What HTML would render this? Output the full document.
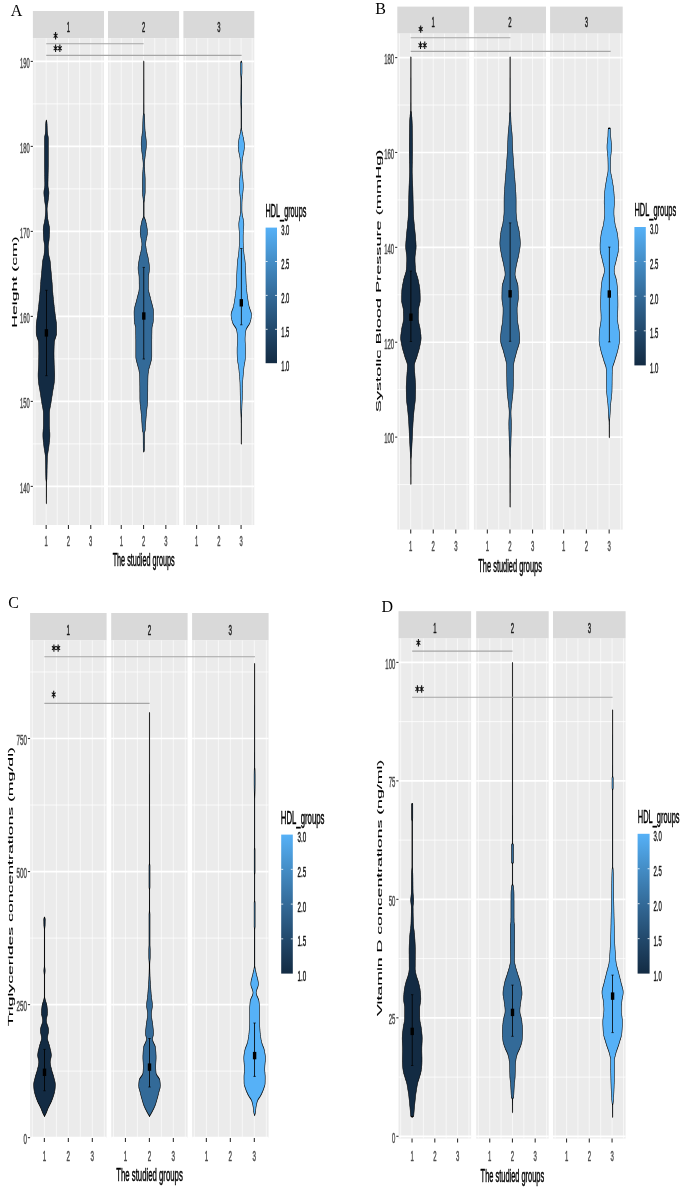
<!DOCTYPE html>
<html><head><meta charset="utf-8"><title>Violin plots</title>
<style>html,body{margin:0;padding:0;background:#fff;}body{width:685px;height:1193px;overflow:hidden;}svg{display:block;filter:blur(0.35px);}</style>
</head><body>
<svg width="685" height="1193" viewBox="0 0 685 1193">
<rect x="32.9" y="11" width="71.1" height="27.2" fill="#D9D9D9"/>
<rect x="32.9" y="38.2" width="71.1" height="486.8" fill="#EBEBEB"/>
<rect x="108" y="11" width="71.1" height="27.2" fill="#D9D9D9"/>
<rect x="108" y="38.2" width="71.1" height="486.8" fill="#EBEBEB"/>
<rect x="183.4" y="11" width="70.9" height="27.2" fill="#D9D9D9"/>
<rect x="183.4" y="38.2" width="70.9" height="486.8" fill="#EBEBEB"/>
<line x1="32.9" y1="443.9" x2="104" y2="443.9" stroke="#fff" stroke-width="0.9" opacity="0.85"/>
<line x1="32.9" y1="358.9" x2="104" y2="358.9" stroke="#fff" stroke-width="0.9" opacity="0.85"/>
<line x1="32.9" y1="273.9" x2="104" y2="273.9" stroke="#fff" stroke-width="0.9" opacity="0.85"/>
<line x1="32.9" y1="188.9" x2="104" y2="188.9" stroke="#fff" stroke-width="0.9" opacity="0.85"/>
<line x1="32.9" y1="103.9" x2="104" y2="103.9" stroke="#fff" stroke-width="0.9" opacity="0.85"/>
<line x1="32.9" y1="486.4" x2="104" y2="486.4" stroke="#fff" stroke-width="1.7"/>
<line x1="32.9" y1="401.4" x2="104" y2="401.4" stroke="#fff" stroke-width="1.7"/>
<line x1="32.9" y1="316.4" x2="104" y2="316.4" stroke="#fff" stroke-width="1.7"/>
<line x1="32.9" y1="231.4" x2="104" y2="231.4" stroke="#fff" stroke-width="1.7"/>
<line x1="32.9" y1="146.4" x2="104" y2="146.4" stroke="#fff" stroke-width="1.7"/>
<line x1="32.9" y1="61.4" x2="104" y2="61.4" stroke="#fff" stroke-width="1.7"/>
<line x1="35.02" y1="38.2" x2="35.02" y2="525" stroke="#fff" stroke-width="1" opacity="0.6"/>
<line x1="46.16" y1="38.2" x2="46.16" y2="525" stroke="#fff" stroke-width="1" opacity="0.6"/>
<line x1="57.31" y1="38.2" x2="57.31" y2="525" stroke="#fff" stroke-width="1" opacity="0.6"/>
<line x1="68.45" y1="38.2" x2="68.45" y2="525" stroke="#fff" stroke-width="1" opacity="0.6"/>
<line x1="79.59" y1="38.2" x2="79.59" y2="525" stroke="#fff" stroke-width="1" opacity="0.6"/>
<line x1="90.74" y1="38.2" x2="90.74" y2="525" stroke="#fff" stroke-width="1" opacity="0.6"/>
<line x1="101.88" y1="38.2" x2="101.88" y2="525" stroke="#fff" stroke-width="1" opacity="0.6"/>
<line x1="108" y1="443.9" x2="179.1" y2="443.9" stroke="#fff" stroke-width="0.9" opacity="0.85"/>
<line x1="108" y1="358.9" x2="179.1" y2="358.9" stroke="#fff" stroke-width="0.9" opacity="0.85"/>
<line x1="108" y1="273.9" x2="179.1" y2="273.9" stroke="#fff" stroke-width="0.9" opacity="0.85"/>
<line x1="108" y1="188.9" x2="179.1" y2="188.9" stroke="#fff" stroke-width="0.9" opacity="0.85"/>
<line x1="108" y1="103.9" x2="179.1" y2="103.9" stroke="#fff" stroke-width="0.9" opacity="0.85"/>
<line x1="108" y1="486.4" x2="179.1" y2="486.4" stroke="#fff" stroke-width="1.7"/>
<line x1="108" y1="401.4" x2="179.1" y2="401.4" stroke="#fff" stroke-width="1.7"/>
<line x1="108" y1="316.4" x2="179.1" y2="316.4" stroke="#fff" stroke-width="1.7"/>
<line x1="108" y1="231.4" x2="179.1" y2="231.4" stroke="#fff" stroke-width="1.7"/>
<line x1="108" y1="146.4" x2="179.1" y2="146.4" stroke="#fff" stroke-width="1.7"/>
<line x1="108" y1="61.4" x2="179.1" y2="61.4" stroke="#fff" stroke-width="1.7"/>
<line x1="110.12" y1="38.2" x2="110.12" y2="525" stroke="#fff" stroke-width="1" opacity="0.6"/>
<line x1="121.26" y1="38.2" x2="121.26" y2="525" stroke="#fff" stroke-width="1" opacity="0.6"/>
<line x1="132.41" y1="38.2" x2="132.41" y2="525" stroke="#fff" stroke-width="1" opacity="0.6"/>
<line x1="143.55" y1="38.2" x2="143.55" y2="525" stroke="#fff" stroke-width="1" opacity="0.6"/>
<line x1="154.69" y1="38.2" x2="154.69" y2="525" stroke="#fff" stroke-width="1" opacity="0.6"/>
<line x1="165.84" y1="38.2" x2="165.84" y2="525" stroke="#fff" stroke-width="1" opacity="0.6"/>
<line x1="176.98" y1="38.2" x2="176.98" y2="525" stroke="#fff" stroke-width="1" opacity="0.6"/>
<line x1="183.4" y1="443.9" x2="254.3" y2="443.9" stroke="#fff" stroke-width="0.9" opacity="0.85"/>
<line x1="183.4" y1="358.9" x2="254.3" y2="358.9" stroke="#fff" stroke-width="0.9" opacity="0.85"/>
<line x1="183.4" y1="273.9" x2="254.3" y2="273.9" stroke="#fff" stroke-width="0.9" opacity="0.85"/>
<line x1="183.4" y1="188.9" x2="254.3" y2="188.9" stroke="#fff" stroke-width="0.9" opacity="0.85"/>
<line x1="183.4" y1="103.9" x2="254.3" y2="103.9" stroke="#fff" stroke-width="0.9" opacity="0.85"/>
<line x1="183.4" y1="486.4" x2="254.3" y2="486.4" stroke="#fff" stroke-width="1.7"/>
<line x1="183.4" y1="401.4" x2="254.3" y2="401.4" stroke="#fff" stroke-width="1.7"/>
<line x1="183.4" y1="316.4" x2="254.3" y2="316.4" stroke="#fff" stroke-width="1.7"/>
<line x1="183.4" y1="231.4" x2="254.3" y2="231.4" stroke="#fff" stroke-width="1.7"/>
<line x1="183.4" y1="146.4" x2="254.3" y2="146.4" stroke="#fff" stroke-width="1.7"/>
<line x1="183.4" y1="61.4" x2="254.3" y2="61.4" stroke="#fff" stroke-width="1.7"/>
<line x1="185.51" y1="38.2" x2="185.51" y2="525" stroke="#fff" stroke-width="1" opacity="0.6"/>
<line x1="196.62" y1="38.2" x2="196.62" y2="525" stroke="#fff" stroke-width="1" opacity="0.6"/>
<line x1="207.74" y1="38.2" x2="207.74" y2="525" stroke="#fff" stroke-width="1" opacity="0.6"/>
<line x1="218.85" y1="38.2" x2="218.85" y2="525" stroke="#fff" stroke-width="1" opacity="0.6"/>
<line x1="229.96" y1="38.2" x2="229.96" y2="525" stroke="#fff" stroke-width="1" opacity="0.6"/>
<line x1="241.08" y1="38.2" x2="241.08" y2="525" stroke="#fff" stroke-width="1" opacity="0.6"/>
<line x1="252.19" y1="38.2" x2="252.19" y2="525" stroke="#fff" stroke-width="1" opacity="0.6"/>
<text transform="translate(68.45,31.87) scale(0.41,1)" font-family='"Liberation Sans", sans-serif' font-size="14.2" fill="#1A1A1A" text-anchor="middle" stroke="#1A1A1A" stroke-width="0.5" stroke-linejoin="round">1</text>
<text transform="translate(143.55,31.87) scale(0.41,1)" font-family='"Liberation Sans", sans-serif' font-size="14.2" fill="#1A1A1A" text-anchor="middle" stroke="#1A1A1A" stroke-width="0.5" stroke-linejoin="round">2</text>
<text transform="translate(218.85,31.87) scale(0.41,1)" font-family='"Liberation Sans", sans-serif' font-size="14.2" fill="#1A1A1A" text-anchor="middle" stroke="#1A1A1A" stroke-width="0.5" stroke-linejoin="round">3</text>
<line x1="30.7" y1="486.4" x2="32.9" y2="486.4" stroke="#333333" stroke-width="1.1"/>
<text transform="translate(29.7,492.77) scale(0.41,1)" font-family='"Liberation Sans", sans-serif' font-size="14.2" fill="#4D4D4D" text-anchor="end" stroke="#4D4D4D" stroke-width="0.5" stroke-linejoin="round">140</text>
<line x1="30.7" y1="401.4" x2="32.9" y2="401.4" stroke="#333333" stroke-width="1.1"/>
<text transform="translate(29.7,407.77) scale(0.41,1)" font-family='"Liberation Sans", sans-serif' font-size="14.2" fill="#4D4D4D" text-anchor="end" stroke="#4D4D4D" stroke-width="0.5" stroke-linejoin="round">150</text>
<line x1="30.7" y1="316.4" x2="32.9" y2="316.4" stroke="#333333" stroke-width="1.1"/>
<text transform="translate(29.7,322.77) scale(0.41,1)" font-family='"Liberation Sans", sans-serif' font-size="14.2" fill="#4D4D4D" text-anchor="end" stroke="#4D4D4D" stroke-width="0.5" stroke-linejoin="round">160</text>
<line x1="30.7" y1="231.4" x2="32.9" y2="231.4" stroke="#333333" stroke-width="1.1"/>
<text transform="translate(29.7,237.77) scale(0.41,1)" font-family='"Liberation Sans", sans-serif' font-size="14.2" fill="#4D4D4D" text-anchor="end" stroke="#4D4D4D" stroke-width="0.5" stroke-linejoin="round">170</text>
<line x1="30.7" y1="146.4" x2="32.9" y2="146.4" stroke="#333333" stroke-width="1.1"/>
<text transform="translate(29.7,152.77) scale(0.41,1)" font-family='"Liberation Sans", sans-serif' font-size="14.2" fill="#4D4D4D" text-anchor="end" stroke="#4D4D4D" stroke-width="0.5" stroke-linejoin="round">180</text>
<line x1="30.7" y1="61.4" x2="32.9" y2="61.4" stroke="#333333" stroke-width="1.1"/>
<text transform="translate(29.7,67.77) scale(0.41,1)" font-family='"Liberation Sans", sans-serif' font-size="14.2" fill="#4D4D4D" text-anchor="end" stroke="#4D4D4D" stroke-width="0.5" stroke-linejoin="round">190</text>
<line x1="46.16" y1="525" x2="46.16" y2="529" stroke="#333333" stroke-width="1.1"/>
<text transform="translate(46.16,546.17) scale(0.41,1)" font-family='"Liberation Sans", sans-serif' font-size="14.2" fill="#4D4D4D" text-anchor="middle" stroke="#4D4D4D" stroke-width="0.5" stroke-linejoin="round">1</text>
<line x1="68.45" y1="525" x2="68.45" y2="529" stroke="#333333" stroke-width="1.1"/>
<text transform="translate(68.45,546.17) scale(0.41,1)" font-family='"Liberation Sans", sans-serif' font-size="14.2" fill="#4D4D4D" text-anchor="middle" stroke="#4D4D4D" stroke-width="0.5" stroke-linejoin="round">2</text>
<line x1="90.74" y1="525" x2="90.74" y2="529" stroke="#333333" stroke-width="1.1"/>
<text transform="translate(90.74,546.17) scale(0.41,1)" font-family='"Liberation Sans", sans-serif' font-size="14.2" fill="#4D4D4D" text-anchor="middle" stroke="#4D4D4D" stroke-width="0.5" stroke-linejoin="round">3</text>
<line x1="121.26" y1="525" x2="121.26" y2="529" stroke="#333333" stroke-width="1.1"/>
<text transform="translate(121.26,546.17) scale(0.41,1)" font-family='"Liberation Sans", sans-serif' font-size="14.2" fill="#4D4D4D" text-anchor="middle" stroke="#4D4D4D" stroke-width="0.5" stroke-linejoin="round">1</text>
<line x1="143.55" y1="525" x2="143.55" y2="529" stroke="#333333" stroke-width="1.1"/>
<text transform="translate(143.55,546.17) scale(0.41,1)" font-family='"Liberation Sans", sans-serif' font-size="14.2" fill="#4D4D4D" text-anchor="middle" stroke="#4D4D4D" stroke-width="0.5" stroke-linejoin="round">2</text>
<line x1="165.84" y1="525" x2="165.84" y2="529" stroke="#333333" stroke-width="1.1"/>
<text transform="translate(165.84,546.17) scale(0.41,1)" font-family='"Liberation Sans", sans-serif' font-size="14.2" fill="#4D4D4D" text-anchor="middle" stroke="#4D4D4D" stroke-width="0.5" stroke-linejoin="round">3</text>
<line x1="196.62" y1="525" x2="196.62" y2="529" stroke="#333333" stroke-width="1.1"/>
<text transform="translate(196.62,546.17) scale(0.41,1)" font-family='"Liberation Sans", sans-serif' font-size="14.2" fill="#4D4D4D" text-anchor="middle" stroke="#4D4D4D" stroke-width="0.5" stroke-linejoin="round">1</text>
<line x1="218.85" y1="525" x2="218.85" y2="529" stroke="#333333" stroke-width="1.1"/>
<text transform="translate(218.85,546.17) scale(0.41,1)" font-family='"Liberation Sans", sans-serif' font-size="14.2" fill="#4D4D4D" text-anchor="middle" stroke="#4D4D4D" stroke-width="0.5" stroke-linejoin="round">2</text>
<line x1="241.08" y1="525" x2="241.08" y2="529" stroke="#333333" stroke-width="1.1"/>
<text transform="translate(241.08,546.17) scale(0.41,1)" font-family='"Liberation Sans", sans-serif' font-size="14.2" fill="#4D4D4D" text-anchor="middle" stroke="#4D4D4D" stroke-width="0.5" stroke-linejoin="round">3</text>
<text transform="translate(143.7,566.4) scale(0.41,1)" font-family='"Liberation Sans", sans-serif' font-size="17.7" fill="#000" text-anchor="middle" stroke="#000" stroke-width="0.5" stroke-linejoin="round">The studied groups</text>
<text transform="translate(17,282.1) scale(0.41,1) rotate(-90)" font-family='"Liberation Sans", sans-serif' font-size="17.7" fill="#000" text-anchor="middle" stroke="#000" stroke-width="0.2" stroke-linejoin="round">Height (cm)</text>
<defs><linearGradient id="gA" x1="0" y1="0" x2="0" y2="1"><stop offset="0" stop-color="#56B1F7"/><stop offset="0.25" stop-color="#448DC6"/><stop offset="0.5" stop-color="#336A98"/><stop offset="0.75" stop-color="#22496C"/><stop offset="1" stop-color="#132B43"/></linearGradient></defs>
<rect x="265.6" y="227.6" width="11.4" height="135.6" fill="url(#gA)"/>
<text transform="translate(281.2,235.07) scale(0.41,1)" font-family='"Liberation Sans", sans-serif' font-size="14.2" fill="#1A1A1A" text-anchor="start" stroke="#1A1A1A" stroke-width="0.5" stroke-linejoin="round">3.0</text>
<line x1="265.6" y1="261.5" x2="267.6" y2="261.5" stroke="#fff" stroke-width="0.8"/>
<line x1="275" y1="261.5" x2="277" y2="261.5" stroke="#fff" stroke-width="0.8"/>
<text transform="translate(281.2,268.97) scale(0.41,1)" font-family='"Liberation Sans", sans-serif' font-size="14.2" fill="#1A1A1A" text-anchor="start" stroke="#1A1A1A" stroke-width="0.5" stroke-linejoin="round">2.5</text>
<line x1="265.6" y1="295.4" x2="267.6" y2="295.4" stroke="#fff" stroke-width="0.8"/>
<line x1="275" y1="295.4" x2="277" y2="295.4" stroke="#fff" stroke-width="0.8"/>
<text transform="translate(281.2,302.87) scale(0.41,1)" font-family='"Liberation Sans", sans-serif' font-size="14.2" fill="#1A1A1A" text-anchor="start" stroke="#1A1A1A" stroke-width="0.5" stroke-linejoin="round">2.0</text>
<line x1="265.6" y1="329.3" x2="267.6" y2="329.3" stroke="#fff" stroke-width="0.8"/>
<line x1="275" y1="329.3" x2="277" y2="329.3" stroke="#fff" stroke-width="0.8"/>
<text transform="translate(281.2,336.77) scale(0.41,1)" font-family='"Liberation Sans", sans-serif' font-size="14.2" fill="#1A1A1A" text-anchor="start" stroke="#1A1A1A" stroke-width="0.5" stroke-linejoin="round">1.5</text>
<text transform="translate(281.2,370.67) scale(0.41,1)" font-family='"Liberation Sans", sans-serif' font-size="14.2" fill="#1A1A1A" text-anchor="start" stroke="#1A1A1A" stroke-width="0.5" stroke-linejoin="round">1.0</text>
<text transform="translate(265.6,216.8) scale(0.41,1)" font-family='"Liberation Sans", sans-serif' font-size="17.7" fill="#000" text-anchor="start" stroke="#000" stroke-width="0.5" stroke-linejoin="round">HDL_groups</text>
<line x1="46.4" y1="120.3" x2="46.4" y2="503.5" stroke="#5f5f5f" stroke-width="1.1"/>
<g transform="translate(46.4,0) scale(0.41,1)">
<path d="M0,120.3 L0.7,121.2 L1.2,122 L1.4,122.8 L1.5,123.6 L1.7,124.4 L1.7,125.3 L1.8,126.1 L1.9,126.9 L1.9,127.7 L2,128.5 L2,129.3 L2.1,130.2 L2.2,131 L2.3,131.8 L2.4,132.6 L2.7,133.4 L3,134.3 L3.5,135.1 L3.9,136 L4.3,136.8 L4.5,137.7 L4.6,138.5 L4.6,139.3 L4.6,140.1 L4.6,140.9 L4.6,141.7 L4.6,142.5 L4.6,143.3 L4.6,144.1 L4.6,145 L4.6,145.8 L4.6,146.6 L4.6,147.4 L4.6,148.2 L4.6,149 L4.6,149.8 L4.6,150.6 L4.6,151.4 L4.6,152.2 L4.6,153 L4.6,153.8 L4.6,154.6 L4.6,155.4 L4.6,156.3 L4.6,157.1 L4.6,157.9 L4.6,158.7 L4.6,159.5 L4.6,160.3 L4.6,161.1 L4.6,161.9 L4.6,162.7 L4.6,163.5 L4.6,164.3 L4.6,165.1 L4.6,166 L4.6,166.8 L4.5,167.6 L4.5,168.4 L4.5,169.2 L4.4,170 L4.4,170.8 L4.4,171.6 L4.3,172.4 L4.3,173.2 L4.2,174.1 L4.2,174.9 L4.2,175.7 L4.1,176.5 L4.1,177.3 L4.1,178.1 L4,178.9 L4,179.7 L4,180.5 L4,181.3 L3.9,182.2 L3.9,183 L3.9,183.8 L3.9,184.6 L3.9,185.4 L4,186.3 L4.2,187.2 L4.6,188 L5,188.9 L5.4,189.8 L5.8,190.7 L6,191.5 L6.1,192.4 L6.1,193.3 L6,194.1 L5.8,195 L5.7,195.8 L5.4,196.7 L5.2,197.5 L4.9,198.4 L4.7,199.2 L4.4,200.1 L4.1,200.9 L3.9,201.8 L3.6,202.7 L3.3,203.6 L2.9,204.4 L2.6,205.3 L2.2,206.2 L2,207.1 L1.8,207.9 L1.7,208.8 L1.7,209.7 L1.8,210.5 L1.9,211.4 L2,212.2 L2.1,213.1 L2.3,213.9 L2.5,214.8 L2.7,215.6 L2.9,216.5 L3.1,217.3 L3.3,218.2 L3.5,219 L3.8,219.9 L4.2,220.7 L4.6,221.6 L5,222.4 L5.4,223.3 L5.9,224.1 L6.3,224.9 L6.7,225.8 L7.1,226.6 L7.4,227.5 L7.6,228.3 L7.8,229.2 L7.8,230 L7.8,230.8 L7.7,231.7 L7.7,232.5 L7.6,233.4 L7.5,234.2 L7.3,235.1 L7.2,235.9 L7.1,236.8 L6.9,237.6 L6.7,238.5 L6.6,239.3 L6.4,240.2 L6.1,241.1 L5.7,242 L5.3,242.9 L5,243.7 L4.7,244.6 L4.5,245.5 L4.4,246.4 L4.4,247.3 L4.5,248.1 L4.6,249 L4.7,249.8 L4.8,250.7 L5,251.6 L5.2,252.4 L5.4,253.3 L5.6,254.1 L5.9,255 L6.2,255.8 L6.6,256.7 L7.1,257.5 L7.7,258.4 L8.2,259.2 L8.7,260.1 L9,260.9 L9.3,261.7 L9.5,262.6 L9.7,263.4 L9.9,264.3 L10.1,265.1 L10.3,265.9 L10.5,266.8 L10.6,267.6 L10.8,268.4 L10.9,269.3 L11.1,270.1 L11.3,271 L11.5,271.8 L11.7,272.6 L11.8,273.5 L12,274.3 L12.2,275.2 L12.4,276 L12.6,276.8 L12.8,277.7 L13,278.5 L13.2,279.3 L13.4,280.2 L13.6,281 L13.7,281.9 L13.9,282.7 L14.1,283.5 L14.2,284.4 L14.4,285.2 L14.5,286.1 L14.7,286.9 L14.8,287.7 L14.9,288.6 L15.1,289.4 L15.2,290.2 L15.4,291.1 L15.5,291.9 L15.7,292.8 L15.9,293.6 L16,294.4 L16.2,295.3 L16.4,296.1 L16.6,297 L16.8,297.8 L17,298.6 L17.2,299.5 L17.4,300.3 L17.7,301.1 L17.9,302 L18.1,302.8 L18.3,303.7 L18.5,304.5 L18.8,305.3 L19,306.2 L19.2,307 L19.5,307.9 L19.7,308.7 L20,309.5 L20.2,310.4 L20.5,311.2 L20.7,312 L21,312.9 L21.2,313.7 L21.5,314.6 L21.7,315.4 L22,316.2 L22.3,317.1 L22.6,317.9 L22.9,318.8 L23.2,319.6 L23.5,320.4 L23.8,321.3 L24.1,322.1 L24.4,322.9 L24.6,323.8 L24.7,324.6 L24.8,325.5 L24.9,326.3 L24.9,327.1 L24.9,327.9 L24.9,328.7 L24.9,329.6 L24.9,330.4 L24.9,331.2 L24.9,332 L24.9,332.8 L24.8,333.6 L24.5,334.4 L24.1,335.2 L23.5,336.1 L22.9,336.9 L22.2,337.7 L21.5,338.5 L20.9,339.3 L20.3,340.2 L19.8,341 L19.5,341.8 L19.3,342.6 L19.2,343.4 L19.1,344.3 L19,345.1 L18.9,346 L18.8,346.8 L18.8,347.6 L18.7,348.5 L18.7,349.3 L18.6,350.1 L18.6,351 L18.6,351.8 L18.5,352.7 L18.5,353.5 L18.5,354.3 L18.6,355.2 L18.6,356 L18.6,356.9 L18.6,357.7 L18.7,358.5 L18.7,359.4 L18.8,360.2 L18.8,361 L18.9,361.9 L18.9,362.7 L19,363.6 L19,364.4 L19.1,365.2 L19.2,366.1 L19.3,366.9 L19.4,367.8 L19.5,368.6 L19.7,369.4 L19.8,370.3 L19.9,371.1 L20,371.9 L20.1,372.8 L20.2,373.6 L20.2,374.5 L20.2,375.3 L20.2,376.2 L20.1,377.2 L20,378.1 L19.9,379 L19.7,380 L19.5,380.9 L19.3,381.7 L19.1,382.6 L18.8,383.4 L18.6,384.3 L18.2,385.1 L17.9,385.9 L17.5,386.8 L17.2,387.6 L16.8,388.4 L16.4,389.3 L16,390.1 L15.7,391 L15.4,391.8 L15,392.6 L14.7,393.5 L14.4,394.3 L14.1,395.2 L13.8,396 L13.4,396.8 L13.1,397.7 L12.8,398.5 L12.5,399.3 L12.2,400.2 L11.8,401 L11.5,401.9 L11.2,402.7 L10.9,403.5 L10.5,404.4 L10.1,405.2 L9.7,406.1 L9.3,406.9 L9,407.7 L8.6,408.6 L8.2,409.4 L7.9,410.2 L7.7,411.1 L7.5,411.9 L7.4,412.8 L7.3,413.6 L7.3,414.4 L7.3,415.3 L7.3,416.1 L7.3,417 L7.3,417.8 L7.3,418.6 L7.3,419.5 L7.3,420.3 L7.3,421.1 L7.3,422 L7.3,422.8 L7.3,423.7 L7.3,424.5 L7.3,425.3 L7.4,426.2 L7.5,427 L7.6,427.9 L7.7,428.7 L7.9,429.5 L8,430.4 L8.1,431.2 L8.3,432 L8.4,432.9 L8.5,433.7 L8.5,434.6 L8.5,435.4 L8.5,436.2 L8.4,437.1 L8.3,437.9 L8.2,438.8 L8,439.6 L7.8,440.4 L7.6,441.3 L7.3,442.1 L7.1,442.9 L6.8,443.8 L6.6,444.6 L6.3,445.5 L6.1,446.3 L5.9,447.1 L5.6,448 L5.3,448.8 L4.9,449.7 L4.6,450.5 L4.2,451.3 L3.9,452.2 L3.6,453 L3.3,453.8 L3,454.7 L2.7,455.5 L2.6,456.4 L2.4,457.2 L2.3,458 L2.3,458.9 L2.2,459.7 L2.1,460.6 L2.1,461.4 L2,462.2 L2,463.1 L1.9,463.9 L1.9,464.7 L1.8,465.6 L1.8,466.4 L1.8,467.3 L1.7,468.1 L1.7,468.9 L1.6,469.8 L1.6,470.6 L1.6,471.5 L1.6,472.3 L1.5,473.1 L1.5,474 L1.5,474.8 L1.4,475.6 L1.4,476.5 L1.3,477.3 L1.3,478.2 L1.2,479 L0.9,480 L0.5,481 L0.2,482 L0.2,482.8 L0.2,483.7 L0.2,484.5 L0.2,485.3 L0.2,486.1 L0.1,487 L0.1,487.8 L0.1,488.6 L0.1,489.4 L0.1,490.3 L0.1,491.1 L0.1,491.9 L0.1,492.8 L0.1,493.6 L0.1,494.4 L0.1,495.2 L0.1,496.1 L0.1,496.9 L0,497.7 L0,498.5 L0,499.4 L0,500.2 L0,501 L0,501.8 L0,502.7 L0,503.5 L0,503.5 L-0,502.7 L-0,501.8 L-0,501 L-0,500.2 L-0,499.4 L-0,498.5 L-0,497.7 L-0.1,496.9 L-0.1,496.1 L-0.1,495.2 L-0.1,494.4 L-0.1,493.6 L-0.1,492.8 L-0.1,491.9 L-0.1,491.1 L-0.1,490.3 L-0.1,489.4 L-0.1,488.6 L-0.1,487.8 L-0.1,487 L-0.2,486.1 L-0.2,485.3 L-0.2,484.5 L-0.2,483.7 L-0.2,482.8 L-0.2,482 L-0.5,481 L-0.9,480 L-1.2,479 L-1.3,478.2 L-1.3,477.3 L-1.4,476.5 L-1.4,475.6 L-1.5,474.8 L-1.5,474 L-1.5,473.1 L-1.6,472.3 L-1.6,471.5 L-1.6,470.6 L-1.6,469.8 L-1.7,468.9 L-1.7,468.1 L-1.8,467.3 L-1.8,466.4 L-1.8,465.6 L-1.9,464.7 L-1.9,463.9 L-2,463.1 L-2,462.2 L-2.1,461.4 L-2.1,460.6 L-2.2,459.7 L-2.3,458.9 L-2.3,458 L-2.4,457.2 L-2.6,456.4 L-2.7,455.5 L-3,454.7 L-3.3,453.8 L-3.6,453 L-3.9,452.2 L-4.2,451.3 L-4.6,450.5 L-4.9,449.7 L-5.3,448.8 L-5.6,448 L-5.9,447.1 L-6.1,446.3 L-6.3,445.5 L-6.6,444.6 L-6.8,443.8 L-7.1,442.9 L-7.3,442.1 L-7.6,441.3 L-7.8,440.4 L-8,439.6 L-8.2,438.8 L-8.3,437.9 L-8.4,437.1 L-8.5,436.2 L-8.5,435.4 L-8.5,434.6 L-8.5,433.7 L-8.4,432.9 L-8.3,432 L-8.1,431.2 L-8,430.4 L-7.9,429.5 L-7.7,428.7 L-7.6,427.9 L-7.5,427 L-7.4,426.2 L-7.3,425.3 L-7.3,424.5 L-7.3,423.7 L-7.3,422.8 L-7.3,422 L-7.3,421.1 L-7.3,420.3 L-7.3,419.5 L-7.3,418.6 L-7.3,417.8 L-7.3,417 L-7.3,416.1 L-7.3,415.3 L-7.3,414.4 L-7.3,413.6 L-7.4,412.8 L-7.5,411.9 L-7.7,411.1 L-7.9,410.2 L-8.2,409.4 L-8.6,408.6 L-9,407.7 L-9.3,406.9 L-9.7,406.1 L-10.1,405.2 L-10.5,404.4 L-10.9,403.5 L-11.2,402.7 L-11.5,401.9 L-11.8,401 L-12.2,400.2 L-12.5,399.3 L-12.8,398.5 L-13.1,397.7 L-13.4,396.8 L-13.8,396 L-14.1,395.2 L-14.4,394.3 L-14.7,393.5 L-15,392.6 L-15.4,391.8 L-15.7,391 L-16,390.1 L-16.4,389.3 L-16.8,388.4 L-17.2,387.6 L-17.5,386.8 L-17.9,385.9 L-18.2,385.1 L-18.6,384.3 L-18.8,383.4 L-19.1,382.6 L-19.3,381.7 L-19.5,380.9 L-19.7,380 L-19.9,379 L-20,378.1 L-20.1,377.2 L-20.2,376.2 L-20.2,375.3 L-20.2,374.5 L-20.2,373.6 L-20.1,372.8 L-20,371.9 L-19.9,371.1 L-19.8,370.3 L-19.7,369.4 L-19.5,368.6 L-19.4,367.8 L-19.3,366.9 L-19.2,366.1 L-19.1,365.2 L-19,364.4 L-19,363.6 L-18.9,362.7 L-18.9,361.9 L-18.8,361 L-18.8,360.2 L-18.7,359.4 L-18.7,358.5 L-18.6,357.7 L-18.6,356.9 L-18.6,356 L-18.6,355.2 L-18.5,354.3 L-18.5,353.5 L-18.5,352.7 L-18.6,351.8 L-18.6,351 L-18.6,350.1 L-18.7,349.3 L-18.7,348.5 L-18.8,347.6 L-18.8,346.8 L-18.9,346 L-19,345.1 L-19.1,344.3 L-19.2,343.4 L-19.3,342.6 L-19.5,341.8 L-19.8,341 L-20.3,340.2 L-20.9,339.3 L-21.5,338.5 L-22.2,337.7 L-22.9,336.9 L-23.5,336.1 L-24.1,335.2 L-24.5,334.4 L-24.8,333.6 L-24.9,332.8 L-24.9,332 L-24.9,331.2 L-24.9,330.4 L-24.9,329.6 L-24.9,328.7 L-24.9,327.9 L-24.9,327.1 L-24.9,326.3 L-24.8,325.5 L-24.7,324.6 L-24.6,323.8 L-24.4,322.9 L-24.1,322.1 L-23.8,321.3 L-23.5,320.4 L-23.2,319.6 L-22.9,318.8 L-22.6,317.9 L-22.3,317.1 L-22,316.2 L-21.7,315.4 L-21.5,314.6 L-21.2,313.7 L-21,312.9 L-20.7,312 L-20.5,311.2 L-20.2,310.4 L-20,309.5 L-19.7,308.7 L-19.5,307.9 L-19.2,307 L-19,306.2 L-18.8,305.3 L-18.5,304.5 L-18.3,303.7 L-18.1,302.8 L-17.9,302 L-17.7,301.1 L-17.4,300.3 L-17.2,299.5 L-17,298.6 L-16.8,297.8 L-16.6,297 L-16.4,296.1 L-16.2,295.3 L-16,294.4 L-15.9,293.6 L-15.7,292.8 L-15.5,291.9 L-15.4,291.1 L-15.2,290.2 L-15.1,289.4 L-14.9,288.6 L-14.8,287.7 L-14.7,286.9 L-14.5,286.1 L-14.4,285.2 L-14.2,284.4 L-14.1,283.5 L-13.9,282.7 L-13.7,281.9 L-13.6,281 L-13.4,280.2 L-13.2,279.3 L-13,278.5 L-12.8,277.7 L-12.6,276.8 L-12.4,276 L-12.2,275.2 L-12,274.3 L-11.8,273.5 L-11.7,272.6 L-11.5,271.8 L-11.3,271 L-11.1,270.1 L-10.9,269.3 L-10.8,268.4 L-10.6,267.6 L-10.5,266.8 L-10.3,265.9 L-10.1,265.1 L-9.9,264.3 L-9.7,263.4 L-9.5,262.6 L-9.3,261.7 L-9,260.9 L-8.7,260.1 L-8.2,259.2 L-7.7,258.4 L-7.1,257.5 L-6.6,256.7 L-6.2,255.8 L-5.9,255 L-5.6,254.1 L-5.4,253.3 L-5.2,252.4 L-5,251.6 L-4.8,250.7 L-4.7,249.8 L-4.6,249 L-4.5,248.1 L-4.4,247.3 L-4.4,246.4 L-4.5,245.5 L-4.7,244.6 L-5,243.7 L-5.3,242.9 L-5.7,242 L-6.1,241.1 L-6.4,240.2 L-6.6,239.3 L-6.7,238.5 L-6.9,237.6 L-7.1,236.8 L-7.2,235.9 L-7.3,235.1 L-7.5,234.2 L-7.6,233.4 L-7.7,232.5 L-7.7,231.7 L-7.8,230.8 L-7.8,230 L-7.8,229.2 L-7.6,228.3 L-7.4,227.5 L-7.1,226.6 L-6.7,225.8 L-6.3,224.9 L-5.9,224.1 L-5.4,223.3 L-5,222.4 L-4.6,221.6 L-4.2,220.7 L-3.8,219.9 L-3.5,219 L-3.3,218.2 L-3.1,217.3 L-2.9,216.5 L-2.7,215.6 L-2.5,214.8 L-2.3,213.9 L-2.1,213.1 L-2,212.2 L-1.9,211.4 L-1.8,210.5 L-1.7,209.7 L-1.7,208.8 L-1.8,207.9 L-2,207.1 L-2.2,206.2 L-2.6,205.3 L-2.9,204.4 L-3.3,203.6 L-3.6,202.7 L-3.9,201.8 L-4.1,200.9 L-4.4,200.1 L-4.7,199.2 L-4.9,198.4 L-5.2,197.5 L-5.4,196.7 L-5.7,195.8 L-5.8,195 L-6,194.1 L-6.1,193.3 L-6.1,192.4 L-6,191.5 L-5.8,190.7 L-5.4,189.8 L-5,188.9 L-4.6,188 L-4.2,187.2 L-4,186.3 L-3.9,185.4 L-3.9,184.6 L-3.9,183.8 L-3.9,183 L-3.9,182.2 L-4,181.3 L-4,180.5 L-4,179.7 L-4,178.9 L-4.1,178.1 L-4.1,177.3 L-4.1,176.5 L-4.2,175.7 L-4.2,174.9 L-4.2,174.1 L-4.3,173.2 L-4.3,172.4 L-4.4,171.6 L-4.4,170.8 L-4.4,170 L-4.5,169.2 L-4.5,168.4 L-4.5,167.6 L-4.6,166.8 L-4.6,166 L-4.6,165.1 L-4.6,164.3 L-4.6,163.5 L-4.6,162.7 L-4.6,161.9 L-4.6,161.1 L-4.6,160.3 L-4.6,159.5 L-4.6,158.7 L-4.6,157.9 L-4.6,157.1 L-4.6,156.3 L-4.6,155.4 L-4.6,154.6 L-4.6,153.8 L-4.6,153 L-4.6,152.2 L-4.6,151.4 L-4.6,150.6 L-4.6,149.8 L-4.6,149 L-4.6,148.2 L-4.6,147.4 L-4.6,146.6 L-4.6,145.8 L-4.6,145 L-4.6,144.1 L-4.6,143.3 L-4.6,142.5 L-4.6,141.7 L-4.6,140.9 L-4.6,140.1 L-4.6,139.3 L-4.6,138.5 L-4.5,137.7 L-4.3,136.8 L-3.9,136 L-3.5,135.1 L-3,134.3 L-2.7,133.4 L-2.4,132.6 L-2.3,131.8 L-2.2,131 L-2.1,130.2 L-2,129.3 L-2,128.5 L-1.9,127.7 L-1.9,126.9 L-1.8,126.1 L-1.7,125.3 L-1.7,124.4 L-1.5,123.6 L-1.4,122.8 L-1.2,122 L-0.7,121.2 L-0,120.3 Z" fill="#132B43" stroke="#000" stroke-width="1.3" stroke-linejoin="round"/>
<line x1="0" y1="290.3" x2="0" y2="375.7" stroke="#000" stroke-width="1.9"/>
<line x1="-2.93" y1="290.3" x2="2.93" y2="290.3" stroke="#000" stroke-width="1"/>
<line x1="-2.93" y1="375.7" x2="2.93" y2="375.7" stroke="#000" stroke-width="1"/>
<rect x="-4.15" y="329.2" width="8.29" height="7.4" fill="#000"/>
</g>
<line x1="143.8" y1="61.2" x2="143.8" y2="452" stroke="#5f5f5f" stroke-width="1.1"/>
<g transform="translate(143.8,0) scale(0.41,1)">
<path d="M0,61.2 L0,62 L0,62.8 L0,63.6 L0,64.4 L0,65.2 L0,66.1 L0,66.9 L0,67.7 L0,68.5 L0,69.3 L0,70.1 L0,70.9 L0,71.7 L0,72.5 L0,73.3 L0,74.2 L0,75 L0,75.8 L0,76.6 L0,77.4 L0,78.2 L0,79 L0.1,79.8 L0.1,80.6 L0.1,81.4 L0.1,82.2 L0.1,83.1 L0.1,83.9 L0.1,84.7 L0.1,85.5 L0.1,86.3 L0.1,87.1 L0.1,87.9 L0.1,88.7 L0.1,89.5 L0.1,90.3 L0.1,91.1 L0.1,92 L0.1,92.8 L0.1,93.6 L0.1,94.4 L0.1,95.2 L0.1,96 L0.1,96.8 L0.1,97.6 L0.1,98.4 L0.1,99.2 L0.1,100 L0.1,100.9 L0.1,101.7 L0.1,102.5 L0.1,103.3 L0.1,104.1 L0.2,104.9 L0.2,105.7 L0.2,106.5 L0.2,107.3 L0.2,108.1 L0.2,109 L0.2,109.8 L0.2,110.6 L0.2,111.4 L0.2,112.2 L0.2,113 L0.8,114 L1.5,115 L1.6,115.8 L1.8,116.7 L1.9,117.5 L2,118.3 L2.1,119.1 L2.2,120 L2.2,120.8 L2.3,121.6 L2.4,122.5 L2.4,123.3 L2.5,124.1 L2.5,125 L2.6,125.8 L2.6,126.6 L2.7,127.4 L2.8,128.3 L2.9,129.1 L3.1,129.9 L3.2,130.7 L3.4,131.5 L3.6,132.3 L3.8,133.1 L4.1,133.9 L4.3,134.7 L4.5,135.5 L4.8,136.3 L5,137.1 L5.3,137.9 L5.5,138.7 L5.7,139.5 L5.9,140.3 L6,141.1 L6.2,141.9 L6.3,142.7 L6.3,143.5 L6.3,144.3 L6.3,145.1 L6.2,146 L6.1,146.8 L5.9,147.7 L5.7,148.5 L5.5,149.4 L5.2,150.2 L5,151 L4.7,151.9 L4.4,152.7 L4.1,153.6 L3.9,154.4 L3.6,155.3 L3.4,156.1 L3.2,156.9 L3,157.7 L2.7,158.6 L2.4,159.4 L2.2,160.2 L2,161 L1.8,161.8 L1.6,162.7 L1.5,163.5 L1.5,164.3 L1.5,165.2 L1.5,166 L1.6,166.9 L1.8,167.7 L1.9,168.6 L2,169.4 L2.2,170.3 L2.3,171.1 L2.4,172 L2.6,172.8 L2.7,173.7 L2.8,174.5 L3,175.3 L3.1,176.2 L3.2,177 L3.3,177.8 L3.4,178.7 L3.4,179.5 L3.4,180.3 L3.4,181.2 L3.4,182 L3.4,182.8 L3.4,183.7 L3.4,184.5 L3.4,185.3 L3.4,186.2 L3.4,187 L3.4,187.9 L3.4,188.7 L3.4,189.5 L3.4,190.4 L3.4,191.2 L3.4,192 L3.3,192.9 L3.1,193.7 L2.9,194.5 L2.7,195.3 L2.4,196.2 L2.2,197 L1.9,197.8 L1.7,198.7 L1.5,199.5 L1.2,200.4 L0.9,201.3 L0.6,202.2 L0.4,203.1 L0.4,204 L0.4,204.8 L0.4,205.6 L0.4,206.4 L0.4,207.2 L0.4,208 L0.4,208.8 L0.4,209.6 L0.4,210.4 L0.4,211.2 L0.4,212 L0.4,212.8 L0.4,213.6 L0.4,214.4 L0.4,215.2 L0.4,216 L0.7,216.9 L1.5,217.8 L2.6,218.8 L3.6,219.7 L4.4,220.6 L4.9,221.4 L5.3,222.3 L5.8,223.1 L6.2,223.9 L6.6,224.8 L7,225.6 L7.4,226.4 L7.7,227.3 L8,228.1 L8.3,229 L8.5,229.8 L8.7,230.6 L8.7,231.5 L8.8,232.3 L8.7,233.1 L8.6,234 L8.3,234.8 L8,235.6 L7.6,236.5 L7.1,237.3 L6.7,238.2 L6.3,239 L5.8,239.8 L5.5,240.7 L5.1,241.5 L4.9,242.3 L4.7,243.2 L4.6,244 L4.7,244.9 L4.8,245.7 L5.1,246.6 L5.4,247.4 L5.7,248.3 L6,249.1 L6.3,250 L6.7,250.9 L7.1,251.7 L7.6,252.6 L8.1,253.5 L8.6,254.3 L9.2,255.2 L9.7,256.1 L10.2,257 L10.6,257.8 L11,258.7 L11.3,259.5 L11.6,260.3 L12,261.1 L12.3,262 L12.6,262.8 L12.9,263.6 L13.2,264.4 L13.4,265.2 L13.6,266.1 L13.8,266.9 L13.9,267.7 L13.9,268.5 L13.8,269.4 L13.7,270.2 L13.4,271.1 L13.1,272 L12.7,272.9 L12.4,273.7 L12,274.6 L11.8,275.5 L11.6,276.3 L11.5,277.2 L11.4,278 L11.4,278.9 L11.4,279.7 L11.3,280.6 L11.3,281.4 L11.3,282.2 L11.3,283.1 L11.3,283.9 L11.2,284.7 L11.2,285.6 L11.2,286.4 L11.2,287.3 L11.2,288.1 L11.3,288.9 L11.5,289.8 L11.7,290.6 L12.1,291.5 L12.6,292.3 L13.1,293.1 L13.6,294 L14.2,294.8 L14.7,295.6 L15.3,296.5 L15.9,297.3 L16.4,298.2 L16.8,299 L17.3,299.8 L17.8,300.6 L18.3,301.5 L18.9,302.3 L19.4,303.1 L20,303.9 L20.5,304.7 L21.1,305.6 L21.6,306.4 L22.1,307.2 L22.5,308 L22.9,308.8 L23.2,309.6 L23.5,310.5 L23.6,311.3 L23.7,312.1 L23.7,313 L23.6,313.8 L23.6,314.7 L23.6,315.6 L23.5,316.5 L23.5,317.3 L23.4,318.2 L23.3,319.1 L23.3,319.9 L23.2,320.8 L23,321.7 L22.7,322.5 L22.3,323.4 L21.8,324.2 L21.3,325.1 L20.8,325.9 L20.4,326.8 L20.1,327.6 L20,328.5 L19.9,329.3 L19.9,330.2 L19.8,331 L19.8,331.8 L19.8,332.6 L19.7,333.5 L19.7,334.3 L19.6,335.1 L19.6,336 L19.6,336.8 L19.6,337.6 L19.6,338.5 L19.5,339.3 L19.5,340.1 L19.5,340.9 L19.5,341.8 L19.5,342.6 L19.5,343.4 L19.5,344.3 L19.5,345.1 L19.5,345.9 L19.5,346.8 L19.5,347.6 L19.5,348.4 L19.5,349.3 L19.5,350.1 L19.5,351 L19.5,351.8 L19.5,352.6 L19.5,353.5 L19.5,354.3 L19.5,355.1 L19.5,356 L19.5,356.8 L19.4,357.6 L19.2,358.5 L18.8,359.3 L18.4,360.2 L17.8,361 L17.3,361.9 L16.7,362.7 L16.1,363.6 L15.6,364.4 L15.1,365.2 L14.5,366 L14,366.8 L13.4,367.6 L12.8,368.4 L12.3,369.2 L12,370 L11.6,370.9 L11.3,371.7 L11,372.6 L10.7,373.4 L10.5,374.3 L10.4,375.1 L10.2,376 L10.2,376.8 L10.1,377.7 L10,378.5 L10,379.3 L9.9,380.1 L9.9,381 L9.9,381.8 L9.8,382.6 L9.8,383.4 L9.8,384.3 L9.8,385.1 L9.7,385.9 L9.7,386.8 L9.7,387.6 L9.7,388.5 L9.7,389.3 L9.7,390.1 L9.7,391 L9.7,391.8 L9.6,392.6 L9.6,393.5 L9.6,394.3 L9.6,395.2 L9.6,396 L9.6,396.8 L9.6,397.7 L9.6,398.5 L9.5,399.4 L9.5,400.2 L9.5,401 L9.4,401.8 L9.2,402.6 L9.1,403.4 L8.9,404.2 L8.7,405 L8.4,405.9 L8.2,406.7 L7.9,407.5 L7.7,408.3 L7.5,409.1 L7.2,409.9 L7,410.7 L6.8,411.5 L6.7,412.3 L6.5,413.1 L6.3,413.9 L6.2,414.7 L6,415.5 L5.8,416.3 L5.7,417.1 L5.5,418 L5.4,418.8 L5.2,419.6 L5.1,420.4 L4.9,421.2 L4.8,422 L4.6,422.8 L4.5,423.6 L4.4,424.5 L4.3,425.3 L4.2,426.2 L4.1,427 L4,427.9 L3.8,428.7 L3.6,429.6 L3.4,430.4 L2.9,431.3 L2.1,432.1 L1.7,433 L1.7,433.8 L1.6,434.6 L1.6,435.4 L1.5,436.2 L1.5,437 L1.5,437.9 L1.5,438.7 L1.5,439.5 L1.5,440.3 L1.5,441.1 L1.5,441.9 L1.5,442.7 L1.4,443.5 L1.4,444.3 L1.4,445.1 L1.4,446 L1.4,446.8 L1.4,447.6 L1.3,448.4 L1.3,449.2 L1.2,450 L0.7,451 L0,452 L0,452 L-0.7,451 L-1.2,450 L-1.3,449.2 L-1.3,448.4 L-1.4,447.6 L-1.4,446.8 L-1.4,446 L-1.4,445.1 L-1.4,444.3 L-1.4,443.5 L-1.5,442.7 L-1.5,441.9 L-1.5,441.1 L-1.5,440.3 L-1.5,439.5 L-1.5,438.7 L-1.5,437.9 L-1.5,437 L-1.5,436.2 L-1.6,435.4 L-1.6,434.6 L-1.7,433.8 L-1.7,433 L-2.1,432.1 L-2.9,431.3 L-3.4,430.4 L-3.6,429.6 L-3.8,428.7 L-4,427.9 L-4.1,427 L-4.2,426.2 L-4.3,425.3 L-4.4,424.5 L-4.5,423.6 L-4.6,422.8 L-4.8,422 L-4.9,421.2 L-5.1,420.4 L-5.2,419.6 L-5.4,418.8 L-5.5,418 L-5.7,417.1 L-5.8,416.3 L-6,415.5 L-6.2,414.7 L-6.3,413.9 L-6.5,413.1 L-6.7,412.3 L-6.8,411.5 L-7,410.7 L-7.2,409.9 L-7.5,409.1 L-7.7,408.3 L-7.9,407.5 L-8.2,406.7 L-8.4,405.9 L-8.7,405 L-8.9,404.2 L-9.1,403.4 L-9.2,402.6 L-9.4,401.8 L-9.5,401 L-9.5,400.2 L-9.5,399.4 L-9.6,398.5 L-9.6,397.7 L-9.6,396.8 L-9.6,396 L-9.6,395.2 L-9.6,394.3 L-9.6,393.5 L-9.6,392.6 L-9.7,391.8 L-9.7,391 L-9.7,390.1 L-9.7,389.3 L-9.7,388.5 L-9.7,387.6 L-9.7,386.8 L-9.7,385.9 L-9.8,385.1 L-9.8,384.3 L-9.8,383.4 L-9.8,382.6 L-9.9,381.8 L-9.9,381 L-9.9,380.1 L-10,379.3 L-10,378.5 L-10.1,377.7 L-10.2,376.8 L-10.2,376 L-10.4,375.1 L-10.5,374.3 L-10.7,373.4 L-11,372.6 L-11.3,371.7 L-11.6,370.9 L-12,370 L-12.3,369.2 L-12.8,368.4 L-13.4,367.6 L-14,366.8 L-14.5,366 L-15.1,365.2 L-15.6,364.4 L-16.1,363.6 L-16.7,362.7 L-17.3,361.9 L-17.8,361 L-18.4,360.2 L-18.8,359.3 L-19.2,358.5 L-19.4,357.6 L-19.5,356.8 L-19.5,356 L-19.5,355.1 L-19.5,354.3 L-19.5,353.5 L-19.5,352.6 L-19.5,351.8 L-19.5,351 L-19.5,350.1 L-19.5,349.3 L-19.5,348.4 L-19.5,347.6 L-19.5,346.8 L-19.5,345.9 L-19.5,345.1 L-19.5,344.3 L-19.5,343.4 L-19.5,342.6 L-19.5,341.8 L-19.5,340.9 L-19.5,340.1 L-19.5,339.3 L-19.6,338.5 L-19.6,337.6 L-19.6,336.8 L-19.6,336 L-19.6,335.1 L-19.7,334.3 L-19.7,333.5 L-19.8,332.6 L-19.8,331.8 L-19.8,331 L-19.9,330.2 L-19.9,329.3 L-20,328.5 L-20.1,327.6 L-20.4,326.8 L-20.8,325.9 L-21.3,325.1 L-21.8,324.2 L-22.3,323.4 L-22.7,322.5 L-23,321.7 L-23.2,320.8 L-23.3,319.9 L-23.3,319.1 L-23.4,318.2 L-23.5,317.3 L-23.5,316.5 L-23.6,315.6 L-23.6,314.7 L-23.6,313.8 L-23.7,313 L-23.7,312.1 L-23.6,311.3 L-23.5,310.5 L-23.2,309.6 L-22.9,308.8 L-22.5,308 L-22.1,307.2 L-21.6,306.4 L-21.1,305.6 L-20.5,304.7 L-20,303.9 L-19.4,303.1 L-18.9,302.3 L-18.3,301.5 L-17.8,300.6 L-17.3,299.8 L-16.8,299 L-16.4,298.2 L-15.9,297.3 L-15.3,296.5 L-14.7,295.6 L-14.2,294.8 L-13.6,294 L-13.1,293.1 L-12.6,292.3 L-12.1,291.5 L-11.7,290.6 L-11.5,289.8 L-11.3,288.9 L-11.2,288.1 L-11.2,287.3 L-11.2,286.4 L-11.2,285.6 L-11.2,284.7 L-11.3,283.9 L-11.3,283.1 L-11.3,282.2 L-11.3,281.4 L-11.3,280.6 L-11.4,279.7 L-11.4,278.9 L-11.4,278 L-11.5,277.2 L-11.6,276.3 L-11.8,275.5 L-12,274.6 L-12.4,273.7 L-12.7,272.9 L-13.1,272 L-13.4,271.1 L-13.7,270.2 L-13.8,269.4 L-13.9,268.5 L-13.9,267.7 L-13.8,266.9 L-13.6,266.1 L-13.4,265.2 L-13.2,264.4 L-12.9,263.6 L-12.6,262.8 L-12.3,262 L-12,261.1 L-11.6,260.3 L-11.3,259.5 L-11,258.7 L-10.6,257.8 L-10.2,257 L-9.7,256.1 L-9.2,255.2 L-8.6,254.3 L-8.1,253.5 L-7.6,252.6 L-7.1,251.7 L-6.7,250.9 L-6.3,250 L-6,249.1 L-5.7,248.3 L-5.4,247.4 L-5.1,246.6 L-4.8,245.7 L-4.7,244.9 L-4.6,244 L-4.7,243.2 L-4.9,242.3 L-5.1,241.5 L-5.5,240.7 L-5.8,239.8 L-6.3,239 L-6.7,238.2 L-7.1,237.3 L-7.6,236.5 L-8,235.6 L-8.3,234.8 L-8.6,234 L-8.7,233.1 L-8.8,232.3 L-8.7,231.5 L-8.7,230.6 L-8.5,229.8 L-8.3,229 L-8,228.1 L-7.7,227.3 L-7.4,226.4 L-7,225.6 L-6.6,224.8 L-6.2,223.9 L-5.8,223.1 L-5.3,222.3 L-4.9,221.4 L-4.4,220.6 L-3.6,219.7 L-2.6,218.8 L-1.5,217.8 L-0.7,216.9 L-0.4,216 L-0.4,215.2 L-0.4,214.4 L-0.4,213.6 L-0.4,212.8 L-0.4,212 L-0.4,211.2 L-0.4,210.4 L-0.4,209.6 L-0.4,208.8 L-0.4,208 L-0.4,207.2 L-0.4,206.4 L-0.4,205.6 L-0.4,204.8 L-0.4,204 L-0.4,203.1 L-0.6,202.2 L-0.9,201.3 L-1.2,200.4 L-1.5,199.5 L-1.7,198.7 L-1.9,197.8 L-2.2,197 L-2.4,196.2 L-2.7,195.3 L-2.9,194.5 L-3.1,193.7 L-3.3,192.9 L-3.4,192 L-3.4,191.2 L-3.4,190.4 L-3.4,189.5 L-3.4,188.7 L-3.4,187.9 L-3.4,187 L-3.4,186.2 L-3.4,185.3 L-3.4,184.5 L-3.4,183.7 L-3.4,182.8 L-3.4,182 L-3.4,181.2 L-3.4,180.3 L-3.4,179.5 L-3.4,178.7 L-3.3,177.8 L-3.2,177 L-3.1,176.2 L-3,175.3 L-2.8,174.5 L-2.7,173.7 L-2.6,172.8 L-2.4,172 L-2.3,171.1 L-2.2,170.3 L-2,169.4 L-1.9,168.6 L-1.8,167.7 L-1.6,166.9 L-1.5,166 L-1.5,165.2 L-1.5,164.3 L-1.5,163.5 L-1.6,162.7 L-1.8,161.8 L-2,161 L-2.2,160.2 L-2.4,159.4 L-2.7,158.6 L-3,157.7 L-3.2,156.9 L-3.4,156.1 L-3.6,155.3 L-3.9,154.4 L-4.1,153.6 L-4.4,152.7 L-4.7,151.9 L-5,151 L-5.2,150.2 L-5.5,149.4 L-5.7,148.5 L-5.9,147.7 L-6.1,146.8 L-6.2,146 L-6.3,145.1 L-6.3,144.3 L-6.3,143.5 L-6.3,142.7 L-6.2,141.9 L-6,141.1 L-5.9,140.3 L-5.7,139.5 L-5.5,138.7 L-5.3,137.9 L-5,137.1 L-4.8,136.3 L-4.5,135.5 L-4.3,134.7 L-4.1,133.9 L-3.8,133.1 L-3.6,132.3 L-3.4,131.5 L-3.2,130.7 L-3.1,129.9 L-2.9,129.1 L-2.8,128.3 L-2.7,127.4 L-2.6,126.6 L-2.6,125.8 L-2.5,125 L-2.5,124.1 L-2.4,123.3 L-2.4,122.5 L-2.3,121.6 L-2.2,120.8 L-2.2,120 L-2.1,119.1 L-2,118.3 L-1.9,117.5 L-1.8,116.7 L-1.6,115.8 L-1.5,115 L-0.8,114 L-0.2,113 L-0.2,112.2 L-0.2,111.4 L-0.2,110.6 L-0.2,109.8 L-0.2,109 L-0.2,108.1 L-0.2,107.3 L-0.2,106.5 L-0.2,105.7 L-0.2,104.9 L-0.1,104.1 L-0.1,103.3 L-0.1,102.5 L-0.1,101.7 L-0.1,100.9 L-0.1,100 L-0.1,99.2 L-0.1,98.4 L-0.1,97.6 L-0.1,96.8 L-0.1,96 L-0.1,95.2 L-0.1,94.4 L-0.1,93.6 L-0.1,92.8 L-0.1,92 L-0.1,91.1 L-0.1,90.3 L-0.1,89.5 L-0.1,88.7 L-0.1,87.9 L-0.1,87.1 L-0.1,86.3 L-0.1,85.5 L-0.1,84.7 L-0.1,83.9 L-0.1,83.1 L-0.1,82.2 L-0.1,81.4 L-0.1,80.6 L-0.1,79.8 L-0,79 L-0,78.2 L-0,77.4 L-0,76.6 L-0,75.8 L-0,75 L-0,74.2 L-0,73.3 L-0,72.5 L-0,71.7 L-0,70.9 L-0,70.1 L-0,69.3 L-0,68.5 L-0,67.7 L-0,66.9 L-0,66.1 L-0,65.2 L-0,64.4 L-0,63.6 L-0,62.8 L-0,62 L-0,61.2 Z" fill="#336A98" stroke="#000" stroke-width="1.3" stroke-linejoin="round"/>
<line x1="0" y1="267.4" x2="0" y2="359" stroke="#000" stroke-width="1.9"/>
<line x1="-2.93" y1="267.4" x2="2.93" y2="267.4" stroke="#000" stroke-width="1"/>
<line x1="-2.93" y1="359" x2="2.93" y2="359" stroke="#000" stroke-width="1"/>
<rect x="-4.15" y="312.3" width="8.29" height="7.4" fill="#000"/>
</g>
<line x1="241.3" y1="61.2" x2="241.3" y2="444" stroke="#5f5f5f" stroke-width="1.1"/>
<g transform="translate(241.3,0) scale(0.41,1)">
<path d="M0,61.2 L1.1,62.1 L1.7,63 L1.7,63.8 L1.7,64.6 L1.7,65.5 L1.7,66.3 L1.7,67.1 L1.7,67.9 L1.7,68.7 L1.7,69.5 L1.7,70.4 L1.7,71.2 L1.7,72 L1.7,72.8 L1.6,73.6 L1.4,74.4 L1.3,75.2 L1.1,76 L0.9,76.8 L0.8,77.6 L0.6,78.4 L0.5,79.2 L0.5,80 L0.5,80.8 L0.5,81.6 L0.5,82.4 L0.5,83.2 L0.5,84 L0.6,84.8 L0.6,85.7 L0.6,86.5 L0.6,87.3 L0.7,88.1 L0.7,88.9 L0.7,89.7 L0.8,90.5 L0.8,91.3 L0.8,92.1 L0.9,92.9 L0.9,93.7 L0.9,94.5 L0.9,95.3 L1,96.1 L1,96.9 L1,97.8 L1,98.6 L1.1,99.4 L1.1,100.2 L1.1,101 L1.1,101.8 L1.1,102.6 L1.1,103.4 L1,104.2 L0.9,105.1 L0.8,105.9 L0.7,106.7 L0.6,107.5 L0.5,108.4 L0.4,109.2 L0.4,110 L0.4,110.8 L0.4,111.6 L0.4,112.5 L0.4,113.3 L0.4,114.1 L0.4,114.9 L0.4,115.7 L0.4,116.5 L0.4,117.4 L0.4,118.2 L0.4,119 L0.4,119.8 L0.4,120.6 L0.4,121.5 L0.4,122.3 L0.4,123.1 L0.4,123.9 L0.4,124.7 L0.4,125.5 L0.4,126.4 L0.4,127.2 L0.4,128 L1,129.6 L1.3,130.4 L1.7,131.2 L2.1,132.1 L2.5,132.9 L2.9,133.7 L3.3,134.5 L3.8,135.3 L4.2,136.2 L4.6,137 L5.1,137.8 L5.5,138.6 L5.9,139.4 L6.2,140.3 L6.5,141.1 L6.8,141.9 L7.1,142.7 L7.3,143.5 L7.4,144.4 L7.5,145.2 L7.6,146 L7.5,146.8 L7.4,147.7 L7.2,148.5 L7,149.4 L6.7,150.2 L6.4,151.1 L6,151.9 L5.6,152.8 L5.2,153.6 L4.8,154.4 L4.4,155.3 L4,156.1 L3.6,157 L3.2,157.8 L2.9,158.7 L2.6,159.5 L2.4,160.4 L2.2,161.2 L2,162.1 L1.9,163 L1.7,163.9 L1.6,164.9 L1.5,165.8 L1.5,166.7 L1.5,167.5 L1.5,168.3 L1.6,169.1 L1.7,170 L1.8,170.8 L2,171.6 L2.2,172.4 L2.3,173.2 L2.5,174.1 L2.7,174.9 L3,175.7 L3.2,176.5 L3.4,177.3 L3.6,178.1 L3.8,178.9 L4,179.8 L4.2,180.6 L4.3,181.4 L4.5,182.2 L4.6,183 L4.7,183.9 L4.8,184.7 L4.9,185.5 L4.9,186.3 L4.9,187.1 L4.8,187.9 L4.7,188.7 L4.6,189.6 L4.4,190.4 L4.2,191.2 L4,192 L3.8,192.8 L3.6,193.6 L3.4,194.4 L3.2,195.3 L2.9,196.1 L2.7,196.9 L2.5,197.7 L2.3,198.5 L2.1,199.3 L2,200.2 L1.9,201 L1.8,201.8 L1.7,202.6 L1.7,203.5 L1.6,204.3 L1.6,205.2 L1.6,206 L1.5,206.9 L1.5,207.7 L1.5,208.6 L1.5,209.4 L1.5,210.3 L1.5,211.1 L1.6,212 L1.8,212.8 L2.1,213.6 L2.4,214.4 L2.8,215.3 L3.2,216.1 L3.6,216.9 L4,217.8 L4.4,218.6 L4.8,219.4 L5.1,220.3 L5.4,221.1 L5.7,221.9 L5.9,222.7 L6.1,223.6 L6.1,224.4 L6.1,225.2 L6,226.1 L5.9,226.9 L5.8,227.8 L5.6,228.6 L5.5,229.4 L5.3,230.3 L5.1,231.1 L5,231.9 L4.8,232.8 L4.7,233.6 L4.7,234.5 L4.6,235.3 L4.6,236.2 L4.6,237.2 L4.6,238.1 L4.6,239 L4.6,240 L4.6,240.9 L4.6,241.7 L4.7,242.6 L4.7,243.4 L4.8,244.3 L4.9,245.1 L5,245.9 L5.2,246.8 L5.3,247.6 L5.5,248.4 L5.6,249.3 L5.8,250.1 L5.9,251 L6.1,251.8 L6.3,252.6 L6.5,253.5 L6.8,254.3 L7,255.2 L7.3,256 L7.6,256.8 L8,257.7 L8.3,258.5 L8.6,259.3 L8.9,260.2 L9.1,261 L9.3,261.9 L9.5,262.7 L9.7,263.5 L9.8,264.4 L9.9,265.2 L10.1,266.1 L10.2,266.9 L10.3,267.7 L10.4,268.6 L10.5,269.4 L10.6,270.2 L10.7,271.1 L10.8,271.9 L10.9,272.8 L11,273.6 L11.1,274.4 L11.1,275.3 L11.2,276.1 L11.3,277 L11.3,277.8 L11.4,278.6 L11.5,279.5 L11.5,280.3 L11.6,281.1 L11.7,282 L11.8,282.8 L11.8,283.7 L12,284.5 L12.1,285.3 L12.2,286.2 L12.4,287 L12.5,287.9 L12.7,288.7 L12.9,289.5 L13.2,290.4 L13.4,291.2 L13.6,292 L13.9,292.9 L14.1,293.7 L14.4,294.6 L14.6,295.4 L14.9,296.2 L15.2,297.1 L15.5,297.9 L15.8,298.8 L16.1,299.6 L16.4,300.4 L16.7,301.3 L17.1,302.1 L17.4,302.9 L17.8,303.8 L18.2,304.6 L18.6,305.5 L19,306.3 L19.5,307.2 L20.2,308 L20.9,308.9 L21.7,309.8 L22.5,310.6 L23.2,311.5 L23.9,312.4 L24.4,313.3 L24.8,314.1 L24.9,315 L24.8,315.8 L24.6,316.7 L24.3,317.5 L23.9,318.4 L23.5,319.2 L23,320.1 L22.4,320.9 L21.8,321.8 L21.2,322.6 L20.4,323.5 L19.3,324.3 L18,325.2 L16.6,326 L15.2,326.9 L13.9,327.7 L12.7,328.6 L11.8,329.4 L11.2,330.3 L10.9,331.2 L10.6,332 L10.3,332.9 L10,333.8 L9.8,334.6 L9.6,335.5 L9.5,336.4 L9.4,337.3 L9.3,338.1 L9.3,339 L9.3,339.8 L9.3,340.7 L9.4,341.5 L9.5,342.4 L9.6,343.2 L9.7,344 L9.8,344.9 L9.9,345.7 L10,346.5 L10.1,347.4 L10.2,348.2 L10.2,349.1 L10.2,349.9 L10.2,350.8 L10.2,351.6 L10.2,352.4 L10.2,353.3 L10.1,354.1 L10,355 L10,355.8 L9.9,356.7 L9.8,357.5 L9.8,358.4 L9.6,359.2 L9.4,360.1 L9.1,360.9 L8.8,361.8 L8.4,362.6 L8,363.4 L7.6,364.3 L7.2,365.1 L6.9,366 L6.6,366.8 L6.4,367.6 L6.1,368.5 L5.9,369.3 L5.7,370.2 L5.5,371 L5.3,371.8 L5.2,372.7 L5,373.5 L4.8,374.4 L4.6,375.2 L4.5,376 L4.3,376.9 L4.1,377.7 L3.9,378.5 L3.8,379.4 L3.6,380.2 L3.5,381 L3.4,381.8 L3.2,382.7 L3.2,383.5 L3.1,384.3 L3.1,385.2 L3,386 L3,386.9 L2.9,387.7 L2.9,388.5 L2.9,389.4 L2.8,390.2 L2.8,391.1 L2.8,391.9 L2.7,392.7 L2.7,393.6 L2.7,394.4 L2.6,395.3 L2.6,396.1 L2.5,396.9 L2.4,397.8 L2.4,398.6 L2.3,399.5 L2.2,400.3 L2.1,401.1 L2,402 L1.9,402.8 L1.8,403.6 L1.7,404.5 L1.6,405.3 L1.5,406.2 L1.5,407 L1.4,407.8 L1.3,408.6 L1.3,409.4 L1.2,410.2 L1.1,411 L1.1,411.8 L1,412.6 L0.9,413.4 L0.8,414.2 L0.7,415 L0.6,416 L0.4,417 L0.2,418 L0.2,418.8 L0.2,419.6 L0.2,420.4 L0.2,421.2 L0.2,422.1 L0.2,422.9 L0.1,423.7 L0.1,424.5 L0.1,425.3 L0.1,426.1 L0.1,426.9 L0.1,427.8 L0.1,428.6 L0.1,429.4 L0.1,430.2 L0.1,431 L0.1,431.8 L0.1,432.6 L0.1,433.4 L0.1,434.2 L0.1,435.1 L0.1,435.9 L0,436.7 L0,437.5 L0,438.3 L0,439.1 L0,439.9 L0,440.8 L0,441.6 L0,442.4 L0,443.2 L0,444 L0,444 L-0,443.2 L-0,442.4 L-0,441.6 L-0,440.8 L-0,439.9 L-0,439.1 L-0,438.3 L-0,437.5 L-0,436.7 L-0.1,435.9 L-0.1,435.1 L-0.1,434.2 L-0.1,433.4 L-0.1,432.6 L-0.1,431.8 L-0.1,431 L-0.1,430.2 L-0.1,429.4 L-0.1,428.6 L-0.1,427.8 L-0.1,426.9 L-0.1,426.1 L-0.1,425.3 L-0.1,424.5 L-0.1,423.7 L-0.2,422.9 L-0.2,422.1 L-0.2,421.2 L-0.2,420.4 L-0.2,419.6 L-0.2,418.8 L-0.2,418 L-0.4,417 L-0.6,416 L-0.7,415 L-0.8,414.2 L-0.9,413.4 L-1,412.6 L-1.1,411.8 L-1.1,411 L-1.2,410.2 L-1.3,409.4 L-1.3,408.6 L-1.4,407.8 L-1.5,407 L-1.5,406.2 L-1.6,405.3 L-1.7,404.5 L-1.8,403.6 L-1.9,402.8 L-2,402 L-2.1,401.1 L-2.2,400.3 L-2.3,399.5 L-2.4,398.6 L-2.4,397.8 L-2.5,396.9 L-2.6,396.1 L-2.6,395.3 L-2.7,394.4 L-2.7,393.6 L-2.7,392.7 L-2.8,391.9 L-2.8,391.1 L-2.8,390.2 L-2.9,389.4 L-2.9,388.5 L-2.9,387.7 L-3,386.9 L-3,386 L-3.1,385.2 L-3.1,384.3 L-3.2,383.5 L-3.2,382.7 L-3.4,381.8 L-3.5,381 L-3.6,380.2 L-3.8,379.4 L-3.9,378.5 L-4.1,377.7 L-4.3,376.9 L-4.5,376 L-4.6,375.2 L-4.8,374.4 L-5,373.5 L-5.2,372.7 L-5.3,371.8 L-5.5,371 L-5.7,370.2 L-5.9,369.3 L-6.1,368.5 L-6.4,367.6 L-6.6,366.8 L-6.9,366 L-7.2,365.1 L-7.6,364.3 L-8,363.4 L-8.4,362.6 L-8.8,361.8 L-9.1,360.9 L-9.4,360.1 L-9.6,359.2 L-9.8,358.4 L-9.8,357.5 L-9.9,356.7 L-10,355.8 L-10,355 L-10.1,354.1 L-10.2,353.3 L-10.2,352.4 L-10.2,351.6 L-10.2,350.8 L-10.2,349.9 L-10.2,349.1 L-10.2,348.2 L-10.1,347.4 L-10,346.5 L-9.9,345.7 L-9.8,344.9 L-9.7,344 L-9.6,343.2 L-9.5,342.4 L-9.4,341.5 L-9.3,340.7 L-9.3,339.8 L-9.3,339 L-9.3,338.1 L-9.4,337.3 L-9.5,336.4 L-9.6,335.5 L-9.8,334.6 L-10,333.8 L-10.3,332.9 L-10.6,332 L-10.9,331.2 L-11.2,330.3 L-11.8,329.4 L-12.7,328.6 L-13.9,327.7 L-15.2,326.9 L-16.6,326 L-18,325.2 L-19.3,324.3 L-20.4,323.5 L-21.2,322.6 L-21.8,321.8 L-22.4,320.9 L-23,320.1 L-23.5,319.2 L-23.9,318.4 L-24.3,317.5 L-24.6,316.7 L-24.8,315.8 L-24.9,315 L-24.8,314.1 L-24.4,313.3 L-23.9,312.4 L-23.2,311.5 L-22.5,310.6 L-21.7,309.8 L-20.9,308.9 L-20.2,308 L-19.5,307.2 L-19,306.3 L-18.6,305.5 L-18.2,304.6 L-17.8,303.8 L-17.4,302.9 L-17.1,302.1 L-16.7,301.3 L-16.4,300.4 L-16.1,299.6 L-15.8,298.8 L-15.5,297.9 L-15.2,297.1 L-14.9,296.2 L-14.6,295.4 L-14.4,294.6 L-14.1,293.7 L-13.9,292.9 L-13.6,292 L-13.4,291.2 L-13.2,290.4 L-12.9,289.5 L-12.7,288.7 L-12.5,287.9 L-12.4,287 L-12.2,286.2 L-12.1,285.3 L-12,284.5 L-11.8,283.7 L-11.8,282.8 L-11.7,282 L-11.6,281.1 L-11.5,280.3 L-11.5,279.5 L-11.4,278.6 L-11.3,277.8 L-11.3,277 L-11.2,276.1 L-11.1,275.3 L-11.1,274.4 L-11,273.6 L-10.9,272.8 L-10.8,271.9 L-10.7,271.1 L-10.6,270.2 L-10.5,269.4 L-10.4,268.6 L-10.3,267.7 L-10.2,266.9 L-10.1,266.1 L-9.9,265.2 L-9.8,264.4 L-9.7,263.5 L-9.5,262.7 L-9.3,261.9 L-9.1,261 L-8.9,260.2 L-8.6,259.3 L-8.3,258.5 L-8,257.7 L-7.6,256.8 L-7.3,256 L-7,255.2 L-6.8,254.3 L-6.5,253.5 L-6.3,252.6 L-6.1,251.8 L-5.9,251 L-5.8,250.1 L-5.6,249.3 L-5.5,248.4 L-5.3,247.6 L-5.2,246.8 L-5,245.9 L-4.9,245.1 L-4.8,244.3 L-4.7,243.4 L-4.7,242.6 L-4.6,241.7 L-4.6,240.9 L-4.6,240 L-4.6,239 L-4.6,238.1 L-4.6,237.2 L-4.6,236.2 L-4.6,235.3 L-4.7,234.5 L-4.7,233.6 L-4.8,232.8 L-5,231.9 L-5.1,231.1 L-5.3,230.3 L-5.5,229.4 L-5.6,228.6 L-5.8,227.8 L-5.9,226.9 L-6,226.1 L-6.1,225.2 L-6.1,224.4 L-6.1,223.6 L-5.9,222.7 L-5.7,221.9 L-5.4,221.1 L-5.1,220.3 L-4.8,219.4 L-4.4,218.6 L-4,217.8 L-3.6,216.9 L-3.2,216.1 L-2.8,215.3 L-2.4,214.4 L-2.1,213.6 L-1.8,212.8 L-1.6,212 L-1.5,211.1 L-1.5,210.3 L-1.5,209.4 L-1.5,208.6 L-1.5,207.7 L-1.5,206.9 L-1.6,206 L-1.6,205.2 L-1.6,204.3 L-1.7,203.5 L-1.7,202.6 L-1.8,201.8 L-1.9,201 L-2,200.2 L-2.1,199.3 L-2.3,198.5 L-2.5,197.7 L-2.7,196.9 L-2.9,196.1 L-3.2,195.3 L-3.4,194.4 L-3.6,193.6 L-3.8,192.8 L-4,192 L-4.2,191.2 L-4.4,190.4 L-4.6,189.6 L-4.7,188.7 L-4.8,187.9 L-4.9,187.1 L-4.9,186.3 L-4.9,185.5 L-4.8,184.7 L-4.7,183.9 L-4.6,183 L-4.5,182.2 L-4.3,181.4 L-4.2,180.6 L-4,179.8 L-3.8,178.9 L-3.6,178.1 L-3.4,177.3 L-3.2,176.5 L-3,175.7 L-2.7,174.9 L-2.5,174.1 L-2.3,173.2 L-2.2,172.4 L-2,171.6 L-1.8,170.8 L-1.7,170 L-1.6,169.1 L-1.5,168.3 L-1.5,167.5 L-1.5,166.7 L-1.5,165.8 L-1.6,164.9 L-1.7,163.9 L-1.9,163 L-2,162.1 L-2.2,161.2 L-2.4,160.4 L-2.6,159.5 L-2.9,158.7 L-3.2,157.8 L-3.6,157 L-4,156.1 L-4.4,155.3 L-4.8,154.4 L-5.2,153.6 L-5.6,152.8 L-6,151.9 L-6.4,151.1 L-6.7,150.2 L-7,149.4 L-7.2,148.5 L-7.4,147.7 L-7.5,146.8 L-7.6,146 L-7.5,145.2 L-7.4,144.4 L-7.3,143.5 L-7.1,142.7 L-6.8,141.9 L-6.5,141.1 L-6.2,140.3 L-5.9,139.4 L-5.5,138.6 L-5.1,137.8 L-4.6,137 L-4.2,136.2 L-3.8,135.3 L-3.3,134.5 L-2.9,133.7 L-2.5,132.9 L-2.1,132.1 L-1.7,131.2 L-1.3,130.4 L-1,129.6 L-0.4,128 L-0.4,127.2 L-0.4,126.4 L-0.4,125.5 L-0.4,124.7 L-0.4,123.9 L-0.4,123.1 L-0.4,122.3 L-0.4,121.5 L-0.4,120.6 L-0.4,119.8 L-0.4,119 L-0.4,118.2 L-0.4,117.4 L-0.4,116.5 L-0.4,115.7 L-0.4,114.9 L-0.4,114.1 L-0.4,113.3 L-0.4,112.5 L-0.4,111.6 L-0.4,110.8 L-0.4,110 L-0.4,109.2 L-0.5,108.4 L-0.6,107.5 L-0.7,106.7 L-0.8,105.9 L-0.9,105.1 L-1,104.2 L-1.1,103.4 L-1.1,102.6 L-1.1,101.8 L-1.1,101 L-1.1,100.2 L-1.1,99.4 L-1,98.6 L-1,97.8 L-1,96.9 L-1,96.1 L-0.9,95.3 L-0.9,94.5 L-0.9,93.7 L-0.9,92.9 L-0.8,92.1 L-0.8,91.3 L-0.8,90.5 L-0.7,89.7 L-0.7,88.9 L-0.7,88.1 L-0.6,87.3 L-0.6,86.5 L-0.6,85.7 L-0.6,84.8 L-0.5,84 L-0.5,83.2 L-0.5,82.4 L-0.5,81.6 L-0.5,80.8 L-0.5,80 L-0.5,79.2 L-0.6,78.4 L-0.8,77.6 L-0.9,76.8 L-1.1,76 L-1.3,75.2 L-1.4,74.4 L-1.6,73.6 L-1.7,72.8 L-1.7,72 L-1.7,71.2 L-1.7,70.4 L-1.7,69.5 L-1.7,68.7 L-1.7,67.9 L-1.7,67.1 L-1.7,66.3 L-1.7,65.5 L-1.7,64.6 L-1.7,63.8 L-1.7,63 L-1.1,62.1 L-0,61.2 Z" fill="#56B1F7" stroke="#000" stroke-width="1.3" stroke-linejoin="round"/>
<line x1="0" y1="248.5" x2="0" y2="324.8" stroke="#000" stroke-width="1.9"/>
<line x1="-2.93" y1="248.5" x2="2.93" y2="248.5" stroke="#000" stroke-width="1"/>
<line x1="-2.93" y1="324.8" x2="2.93" y2="324.8" stroke="#000" stroke-width="1"/>
<rect x="-4.15" y="299.1" width="8.29" height="7.4" fill="#000"/>
</g>
<line x1="46.3" y1="43.7" x2="143.6" y2="43.7" stroke="#A6A6A6" stroke-width="1.1"/>
<path d="M55.6,32.1 L55.6,39.5 M53.68,33.95 L57.52,37.65 M53.68,37.65 L57.52,33.95" stroke="#111" stroke-width="1.05" fill="none"/>
<line x1="46.3" y1="55.4" x2="241.6" y2="55.4" stroke="#A6A6A6" stroke-width="1.1"/>
<path d="M55.6,44.5 L55.6,51.9 M53.68,46.35 L57.52,50.05 M53.68,50.05 L57.52,46.35" stroke="#111" stroke-width="1.05" fill="none"/>
<path d="M59.85,44.5 L59.85,51.9 M57.93,46.35 L61.77,50.05 M57.93,50.05 L61.77,46.35" stroke="#111" stroke-width="1.05" fill="none"/>
<text transform="translate(10.8,16.3) scale(1,1)" font-family='"Liberation Serif", serif' font-size="16" fill="#000" text-anchor="start">A</text>
<rect x="397.3" y="6.6" width="71.9" height="27" fill="#D9D9D9"/>
<rect x="397.3" y="33.6" width="71.9" height="496" fill="#EBEBEB"/>
<rect x="473.9" y="6.6" width="72.1" height="27" fill="#D9D9D9"/>
<rect x="473.9" y="33.6" width="72.1" height="496" fill="#EBEBEB"/>
<rect x="550.1" y="6.6" width="72.6" height="27" fill="#D9D9D9"/>
<rect x="550.1" y="33.6" width="72.6" height="496" fill="#EBEBEB"/>
<line x1="397.3" y1="484.56" x2="469.2" y2="484.56" stroke="#fff" stroke-width="0.9" opacity="0.85"/>
<line x1="397.3" y1="389.68" x2="469.2" y2="389.68" stroke="#fff" stroke-width="0.9" opacity="0.85"/>
<line x1="397.3" y1="294.8" x2="469.2" y2="294.8" stroke="#fff" stroke-width="0.9" opacity="0.85"/>
<line x1="397.3" y1="199.92" x2="469.2" y2="199.92" stroke="#fff" stroke-width="0.9" opacity="0.85"/>
<line x1="397.3" y1="105.04" x2="469.2" y2="105.04" stroke="#fff" stroke-width="0.9" opacity="0.85"/>
<line x1="397.3" y1="437.12" x2="469.2" y2="437.12" stroke="#fff" stroke-width="1.7"/>
<line x1="397.3" y1="342.24" x2="469.2" y2="342.24" stroke="#fff" stroke-width="1.7"/>
<line x1="397.3" y1="247.36" x2="469.2" y2="247.36" stroke="#fff" stroke-width="1.7"/>
<line x1="397.3" y1="152.48" x2="469.2" y2="152.48" stroke="#fff" stroke-width="1.7"/>
<line x1="397.3" y1="57.6" x2="469.2" y2="57.6" stroke="#fff" stroke-width="1.7"/>
<line x1="399.44" y1="33.6" x2="399.44" y2="529.6" stroke="#fff" stroke-width="1" opacity="0.6"/>
<line x1="410.71" y1="33.6" x2="410.71" y2="529.6" stroke="#fff" stroke-width="1" opacity="0.6"/>
<line x1="421.98" y1="33.6" x2="421.98" y2="529.6" stroke="#fff" stroke-width="1" opacity="0.6"/>
<line x1="433.25" y1="33.6" x2="433.25" y2="529.6" stroke="#fff" stroke-width="1" opacity="0.6"/>
<line x1="444.52" y1="33.6" x2="444.52" y2="529.6" stroke="#fff" stroke-width="1" opacity="0.6"/>
<line x1="455.79" y1="33.6" x2="455.79" y2="529.6" stroke="#fff" stroke-width="1" opacity="0.6"/>
<line x1="467.06" y1="33.6" x2="467.06" y2="529.6" stroke="#fff" stroke-width="1" opacity="0.6"/>
<line x1="473.9" y1="484.56" x2="546" y2="484.56" stroke="#fff" stroke-width="0.9" opacity="0.85"/>
<line x1="473.9" y1="389.68" x2="546" y2="389.68" stroke="#fff" stroke-width="0.9" opacity="0.85"/>
<line x1="473.9" y1="294.8" x2="546" y2="294.8" stroke="#fff" stroke-width="0.9" opacity="0.85"/>
<line x1="473.9" y1="199.92" x2="546" y2="199.92" stroke="#fff" stroke-width="0.9" opacity="0.85"/>
<line x1="473.9" y1="105.04" x2="546" y2="105.04" stroke="#fff" stroke-width="0.9" opacity="0.85"/>
<line x1="473.9" y1="437.12" x2="546" y2="437.12" stroke="#fff" stroke-width="1.7"/>
<line x1="473.9" y1="342.24" x2="546" y2="342.24" stroke="#fff" stroke-width="1.7"/>
<line x1="473.9" y1="247.36" x2="546" y2="247.36" stroke="#fff" stroke-width="1.7"/>
<line x1="473.9" y1="152.48" x2="546" y2="152.48" stroke="#fff" stroke-width="1.7"/>
<line x1="473.9" y1="57.6" x2="546" y2="57.6" stroke="#fff" stroke-width="1.7"/>
<line x1="476.05" y1="33.6" x2="476.05" y2="529.6" stroke="#fff" stroke-width="1" opacity="0.6"/>
<line x1="487.35" y1="33.6" x2="487.35" y2="529.6" stroke="#fff" stroke-width="1" opacity="0.6"/>
<line x1="498.65" y1="33.6" x2="498.65" y2="529.6" stroke="#fff" stroke-width="1" opacity="0.6"/>
<line x1="509.95" y1="33.6" x2="509.95" y2="529.6" stroke="#fff" stroke-width="1" opacity="0.6"/>
<line x1="521.25" y1="33.6" x2="521.25" y2="529.6" stroke="#fff" stroke-width="1" opacity="0.6"/>
<line x1="532.55" y1="33.6" x2="532.55" y2="529.6" stroke="#fff" stroke-width="1" opacity="0.6"/>
<line x1="543.85" y1="33.6" x2="543.85" y2="529.6" stroke="#fff" stroke-width="1" opacity="0.6"/>
<line x1="550.1" y1="484.56" x2="622.7" y2="484.56" stroke="#fff" stroke-width="0.9" opacity="0.85"/>
<line x1="550.1" y1="389.68" x2="622.7" y2="389.68" stroke="#fff" stroke-width="0.9" opacity="0.85"/>
<line x1="550.1" y1="294.8" x2="622.7" y2="294.8" stroke="#fff" stroke-width="0.9" opacity="0.85"/>
<line x1="550.1" y1="199.92" x2="622.7" y2="199.92" stroke="#fff" stroke-width="0.9" opacity="0.85"/>
<line x1="550.1" y1="105.04" x2="622.7" y2="105.04" stroke="#fff" stroke-width="0.9" opacity="0.85"/>
<line x1="550.1" y1="437.12" x2="622.7" y2="437.12" stroke="#fff" stroke-width="1.7"/>
<line x1="550.1" y1="342.24" x2="622.7" y2="342.24" stroke="#fff" stroke-width="1.7"/>
<line x1="550.1" y1="247.36" x2="622.7" y2="247.36" stroke="#fff" stroke-width="1.7"/>
<line x1="550.1" y1="152.48" x2="622.7" y2="152.48" stroke="#fff" stroke-width="1.7"/>
<line x1="550.1" y1="57.6" x2="622.7" y2="57.6" stroke="#fff" stroke-width="1.7"/>
<line x1="552.26" y1="33.6" x2="552.26" y2="529.6" stroke="#fff" stroke-width="1" opacity="0.6"/>
<line x1="563.64" y1="33.6" x2="563.64" y2="529.6" stroke="#fff" stroke-width="1" opacity="0.6"/>
<line x1="575.02" y1="33.6" x2="575.02" y2="529.6" stroke="#fff" stroke-width="1" opacity="0.6"/>
<line x1="586.4" y1="33.6" x2="586.4" y2="529.6" stroke="#fff" stroke-width="1" opacity="0.6"/>
<line x1="597.78" y1="33.6" x2="597.78" y2="529.6" stroke="#fff" stroke-width="1" opacity="0.6"/>
<line x1="609.16" y1="33.6" x2="609.16" y2="529.6" stroke="#fff" stroke-width="1" opacity="0.6"/>
<line x1="620.54" y1="33.6" x2="620.54" y2="529.6" stroke="#fff" stroke-width="1" opacity="0.6"/>
<text transform="translate(433.25,27.47) scale(0.42,1)" font-family='"Liberation Sans", sans-serif' font-size="14.2" fill="#1A1A1A" text-anchor="middle" stroke="#1A1A1A" stroke-width="0.5" stroke-linejoin="round">1</text>
<text transform="translate(509.95,27.47) scale(0.42,1)" font-family='"Liberation Sans", sans-serif' font-size="14.2" fill="#1A1A1A" text-anchor="middle" stroke="#1A1A1A" stroke-width="0.5" stroke-linejoin="round">2</text>
<text transform="translate(586.4,27.47) scale(0.42,1)" font-family='"Liberation Sans", sans-serif' font-size="14.2" fill="#1A1A1A" text-anchor="middle" stroke="#1A1A1A" stroke-width="0.5" stroke-linejoin="round">3</text>
<line x1="395.1" y1="437.12" x2="397.3" y2="437.12" stroke="#333333" stroke-width="1.1"/>
<text transform="translate(394.1,443.49) scale(0.42,1)" font-family='"Liberation Sans", sans-serif' font-size="14.2" fill="#4D4D4D" text-anchor="end" stroke="#4D4D4D" stroke-width="0.5" stroke-linejoin="round">100</text>
<line x1="395.1" y1="342.24" x2="397.3" y2="342.24" stroke="#333333" stroke-width="1.1"/>
<text transform="translate(394.1,348.61) scale(0.42,1)" font-family='"Liberation Sans", sans-serif' font-size="14.2" fill="#4D4D4D" text-anchor="end" stroke="#4D4D4D" stroke-width="0.5" stroke-linejoin="round">120</text>
<line x1="395.1" y1="247.36" x2="397.3" y2="247.36" stroke="#333333" stroke-width="1.1"/>
<text transform="translate(394.1,253.73) scale(0.42,1)" font-family='"Liberation Sans", sans-serif' font-size="14.2" fill="#4D4D4D" text-anchor="end" stroke="#4D4D4D" stroke-width="0.5" stroke-linejoin="round">140</text>
<line x1="395.1" y1="152.48" x2="397.3" y2="152.48" stroke="#333333" stroke-width="1.1"/>
<text transform="translate(394.1,158.85) scale(0.42,1)" font-family='"Liberation Sans", sans-serif' font-size="14.2" fill="#4D4D4D" text-anchor="end" stroke="#4D4D4D" stroke-width="0.5" stroke-linejoin="round">160</text>
<line x1="395.1" y1="57.6" x2="397.3" y2="57.6" stroke="#333333" stroke-width="1.1"/>
<text transform="translate(394.1,63.97) scale(0.42,1)" font-family='"Liberation Sans", sans-serif' font-size="14.2" fill="#4D4D4D" text-anchor="end" stroke="#4D4D4D" stroke-width="0.5" stroke-linejoin="round">180</text>
<line x1="410.71" y1="529.6" x2="410.71" y2="533.6" stroke="#333333" stroke-width="1.1"/>
<text transform="translate(410.71,551.47) scale(0.42,1)" font-family='"Liberation Sans", sans-serif' font-size="14.2" fill="#4D4D4D" text-anchor="middle" stroke="#4D4D4D" stroke-width="0.5" stroke-linejoin="round">1</text>
<line x1="433.25" y1="529.6" x2="433.25" y2="533.6" stroke="#333333" stroke-width="1.1"/>
<text transform="translate(433.25,551.47) scale(0.42,1)" font-family='"Liberation Sans", sans-serif' font-size="14.2" fill="#4D4D4D" text-anchor="middle" stroke="#4D4D4D" stroke-width="0.5" stroke-linejoin="round">2</text>
<line x1="455.79" y1="529.6" x2="455.79" y2="533.6" stroke="#333333" stroke-width="1.1"/>
<text transform="translate(455.79,551.47) scale(0.42,1)" font-family='"Liberation Sans", sans-serif' font-size="14.2" fill="#4D4D4D" text-anchor="middle" stroke="#4D4D4D" stroke-width="0.5" stroke-linejoin="round">3</text>
<line x1="487.35" y1="529.6" x2="487.35" y2="533.6" stroke="#333333" stroke-width="1.1"/>
<text transform="translate(487.35,551.47) scale(0.42,1)" font-family='"Liberation Sans", sans-serif' font-size="14.2" fill="#4D4D4D" text-anchor="middle" stroke="#4D4D4D" stroke-width="0.5" stroke-linejoin="round">1</text>
<line x1="509.95" y1="529.6" x2="509.95" y2="533.6" stroke="#333333" stroke-width="1.1"/>
<text transform="translate(509.95,551.47) scale(0.42,1)" font-family='"Liberation Sans", sans-serif' font-size="14.2" fill="#4D4D4D" text-anchor="middle" stroke="#4D4D4D" stroke-width="0.5" stroke-linejoin="round">2</text>
<line x1="532.55" y1="529.6" x2="532.55" y2="533.6" stroke="#333333" stroke-width="1.1"/>
<text transform="translate(532.55,551.47) scale(0.42,1)" font-family='"Liberation Sans", sans-serif' font-size="14.2" fill="#4D4D4D" text-anchor="middle" stroke="#4D4D4D" stroke-width="0.5" stroke-linejoin="round">3</text>
<line x1="563.64" y1="529.6" x2="563.64" y2="533.6" stroke="#333333" stroke-width="1.1"/>
<text transform="translate(563.64,551.47) scale(0.42,1)" font-family='"Liberation Sans", sans-serif' font-size="14.2" fill="#4D4D4D" text-anchor="middle" stroke="#4D4D4D" stroke-width="0.5" stroke-linejoin="round">1</text>
<line x1="586.4" y1="529.6" x2="586.4" y2="533.6" stroke="#333333" stroke-width="1.1"/>
<text transform="translate(586.4,551.47) scale(0.42,1)" font-family='"Liberation Sans", sans-serif' font-size="14.2" fill="#4D4D4D" text-anchor="middle" stroke="#4D4D4D" stroke-width="0.5" stroke-linejoin="round">2</text>
<line x1="609.16" y1="529.6" x2="609.16" y2="533.6" stroke="#333333" stroke-width="1.1"/>
<text transform="translate(609.16,551.47) scale(0.42,1)" font-family='"Liberation Sans", sans-serif' font-size="14.2" fill="#4D4D4D" text-anchor="middle" stroke="#4D4D4D" stroke-width="0.5" stroke-linejoin="round">3</text>
<text transform="translate(510.1,571.5) scale(0.42,1)" font-family='"Liberation Sans", sans-serif' font-size="17.7" fill="#000" text-anchor="middle" stroke="#000" stroke-width="0.5" stroke-linejoin="round">The studied groups</text>
<text transform="translate(380.6,280.9) scale(0.42,1) rotate(-90)" font-family='"Liberation Sans", sans-serif' font-size="18.2" fill="#000" text-anchor="middle" stroke="#000" stroke-width="0.2" stroke-linejoin="round">Systolic Blood Pressure (mmHg)</text>
<defs><linearGradient id="gB" x1="0" y1="0" x2="0" y2="1"><stop offset="0" stop-color="#56B1F7"/><stop offset="0.25" stop-color="#448DC6"/><stop offset="0.5" stop-color="#336A98"/><stop offset="0.75" stop-color="#22496C"/><stop offset="1" stop-color="#132B43"/></linearGradient></defs>
<rect x="634.4" y="227" width="11.4" height="138.4" fill="url(#gB)"/>
<text transform="translate(650,234.47) scale(0.42,1)" font-family='"Liberation Sans", sans-serif' font-size="14.2" fill="#1A1A1A" text-anchor="start" stroke="#1A1A1A" stroke-width="0.5" stroke-linejoin="round">3.0</text>
<line x1="634.4" y1="261.6" x2="636.4" y2="261.6" stroke="#fff" stroke-width="0.8"/>
<line x1="643.8" y1="261.6" x2="645.8" y2="261.6" stroke="#fff" stroke-width="0.8"/>
<text transform="translate(650,269.07) scale(0.42,1)" font-family='"Liberation Sans", sans-serif' font-size="14.2" fill="#1A1A1A" text-anchor="start" stroke="#1A1A1A" stroke-width="0.5" stroke-linejoin="round">2.5</text>
<line x1="634.4" y1="296.2" x2="636.4" y2="296.2" stroke="#fff" stroke-width="0.8"/>
<line x1="643.8" y1="296.2" x2="645.8" y2="296.2" stroke="#fff" stroke-width="0.8"/>
<text transform="translate(650,303.67) scale(0.42,1)" font-family='"Liberation Sans", sans-serif' font-size="14.2" fill="#1A1A1A" text-anchor="start" stroke="#1A1A1A" stroke-width="0.5" stroke-linejoin="round">2.0</text>
<line x1="634.4" y1="330.8" x2="636.4" y2="330.8" stroke="#fff" stroke-width="0.8"/>
<line x1="643.8" y1="330.8" x2="645.8" y2="330.8" stroke="#fff" stroke-width="0.8"/>
<text transform="translate(650,338.27) scale(0.42,1)" font-family='"Liberation Sans", sans-serif' font-size="14.2" fill="#1A1A1A" text-anchor="start" stroke="#1A1A1A" stroke-width="0.5" stroke-linejoin="round">1.5</text>
<text transform="translate(650,372.87) scale(0.42,1)" font-family='"Liberation Sans", sans-serif' font-size="14.2" fill="#1A1A1A" text-anchor="start" stroke="#1A1A1A" stroke-width="0.5" stroke-linejoin="round">1.0</text>
<text transform="translate(634.5,216) scale(0.42,1)" font-family='"Liberation Sans", sans-serif' font-size="17.7" fill="#000" text-anchor="start" stroke="#000" stroke-width="0.5" stroke-linejoin="round">HDL_groups</text>
<line x1="410.9" y1="57" x2="410.9" y2="484.2" stroke="#5f5f5f" stroke-width="1.1"/>
<g transform="translate(410.9,0) scale(0.42,1)">
<path d="M0,57 L0,57.8 L0,58.6 L0,59.4 L0,60.2 L0,61 L0,61.8 L0,62.6 L0,63.4 L0,64.3 L0,65.1 L0,65.9 L0,66.7 L0,67.5 L0,68.3 L0,69.1 L0,69.9 L0,70.7 L0,71.5 L0,72.3 L0,73.1 L0,73.9 L0,74.7 L0,75.5 L0,76.3 L0,77.1 L0.1,78 L0.1,78.8 L0.1,79.6 L0.1,80.4 L0.1,81.2 L0.1,82 L0.1,82.8 L0.1,83.6 L0.1,84.4 L0.1,85.2 L0.1,86 L0.1,86.8 L0.1,87.6 L0.1,88.4 L0.1,89.2 L0.1,90 L0.1,90.9 L0.1,91.7 L0.1,92.5 L0.1,93.3 L0.1,94.1 L0.1,94.9 L0.1,95.7 L0.1,96.5 L0.1,97.3 L0.1,98.1 L0.1,98.9 L0.1,99.7 L0.1,100.5 L0.1,101.3 L0.1,102.1 L0.2,102.9 L0.2,103.7 L0.2,104.6 L0.2,105.4 L0.2,106.2 L0.2,107 L0.2,107.8 L0.2,108.6 L0.2,109.4 L0.2,110.2 L0.2,111 L1.2,112.4 L1.4,113.2 L1.6,114 L1.8,114.8 L2,115.6 L2.1,116.4 L2.3,117.2 L2.4,118 L2.6,118.8 L2.7,119.6 L2.8,120.5 L2.9,121.3 L3,122.1 L3,122.9 L3.1,123.7 L3.2,124.5 L3.2,125.3 L3.3,126.1 L3.3,126.9 L3.3,127.7 L3.4,128.5 L3.4,129.3 L3.4,130.1 L3.5,130.9 L3.5,131.7 L3.5,132.5 L3.5,133.4 L3.6,134.2 L3.6,135 L3.6,135.8 L3.6,136.6 L3.6,137.4 L3.7,138.2 L3.7,139 L3.7,139.8 L3.7,140.6 L3.7,141.4 L3.7,142.2 L3.8,143 L3.8,143.8 L3.8,144.7 L3.8,145.5 L3.8,146.3 L3.8,147.1 L3.8,147.9 L3.8,148.7 L3.8,149.5 L3.8,150.3 L3.8,151.1 L3.8,151.9 L3.8,152.7 L3.7,153.5 L3.7,154.3 L3.7,155.2 L3.7,156 L3.6,156.8 L3.6,157.6 L3.6,158.4 L3.5,159.2 L3.5,160 L3.4,160.8 L3.4,161.6 L3.4,162.4 L3.3,163.2 L3.3,164 L3.2,164.8 L3.2,165.6 L3.2,166.5 L3.2,167.3 L3.1,168.1 L3.1,168.9 L3.1,169.7 L3.1,170.5 L3.1,171.3 L3.1,172.1 L3.1,172.9 L3.2,173.7 L3.2,174.6 L3.3,175.4 L3.3,176.2 L3.4,177 L3.5,177.8 L3.6,178.6 L3.7,179.4 L3.8,180.3 L3.9,181.1 L4,181.9 L4,182.7 L4.1,183.5 L4.2,184.3 L4.3,185.2 L4.4,186 L4.5,186.8 L4.5,187.6 L4.6,188.4 L4.6,189.2 L4.7,190.1 L4.7,190.9 L4.8,191.7 L4.8,192.5 L4.9,193.3 L4.9,194.2 L5,195 L5,195.8 L5.1,196.6 L5.1,197.4 L5.1,198.3 L5.2,199.1 L5.2,199.9 L5.3,200.7 L5.3,201.5 L5.4,202.4 L5.4,203.2 L5.5,204 L5.5,204.8 L5.6,205.7 L5.6,206.5 L5.7,207.4 L5.7,208.2 L5.8,209.1 L5.8,209.9 L5.9,210.8 L5.9,211.6 L6,212.5 L6,213.3 L6.1,214.2 L6.2,215 L6.3,215.8 L6.4,216.7 L6.5,217.5 L6.7,218.4 L6.8,219.2 L7,220 L7.2,220.9 L7.4,221.7 L7.6,222.5 L7.8,223.4 L8,224.2 L8.1,225.1 L8.3,225.9 L8.5,226.7 L8.7,227.6 L8.9,228.4 L9.1,229.3 L9.4,230.1 L9.6,230.9 L9.8,231.8 L10,232.6 L10.2,233.4 L10.4,234.3 L10.6,235.1 L10.8,236 L11,236.8 L11.1,237.6 L11.3,238.4 L11.4,239.2 L11.6,240.1 L11.7,240.9 L11.9,241.7 L12,242.5 L12.1,243.3 L12.2,244.2 L12.3,245 L12.4,245.8 L12.4,246.6 L12.3,247.4 L12.3,248.2 L12.1,249 L11.9,249.8 L11.7,250.6 L11.5,251.4 L11.2,252.2 L10.9,253 L10.7,253.8 L10.4,254.6 L10.2,255.4 L10,256.2 L9.9,257 L9.8,257.8 L9.8,258.6 L9.8,259.4 L9.8,260.3 L9.8,261.1 L9.9,262 L10,262.8 L10.1,263.6 L10.2,264.5 L10.3,265.3 L10.4,266.1 L10.5,267 L10.7,267.8 L10.8,268.7 L11,269.5 L11.2,270.3 L11.5,271.2 L11.9,272 L12.4,272.9 L13,273.7 L13.6,274.5 L14.2,275.4 L14.9,276.2 L15.5,277 L16.1,277.9 L16.7,278.7 L17.2,279.6 L17.6,280.4 L18,281.2 L18.4,282.1 L18.8,282.9 L19.2,283.8 L19.6,284.6 L20,285.4 L20.3,286.3 L20.6,287.1 L20.9,287.9 L21.2,288.8 L21.4,289.6 L21.6,290.5 L21.7,291.3 L21.7,292.2 L21.8,293 L21.9,293.9 L22,294.8 L22,295.6 L22.1,296.5 L22.1,297.4 L22.1,298.3 L22.1,299.1 L22.1,300 L22.1,300.8 L21.9,301.6 L21.6,302.4 L21.2,303.3 L20.7,304.1 L20.2,304.9 L19.8,305.7 L19.3,306.5 L18.9,307.4 L18.5,308.2 L18.2,309 L18.1,309.8 L18,310.7 L17.9,311.5 L17.9,312.4 L17.8,313.3 L17.8,314.1 L17.7,315 L17.7,315.9 L17.6,316.8 L17.6,317.6 L17.6,318.5 L17.7,319.3 L17.8,320.2 L18.1,321 L18.4,321.9 L18.8,322.7 L19.2,323.5 L19.7,324.4 L20.2,325.2 L20.6,326 L21.1,326.9 L21.5,327.7 L21.8,328.6 L22.1,329.4 L22.4,330.3 L22.7,331.1 L23,332 L23.3,332.8 L23.5,333.7 L23.8,334.6 L24,335.4 L24.1,336.3 L24.2,337.1 L24.3,338 L24.2,338.9 L24.1,339.8 L23.8,340.6 L23.5,341.5 L23.1,342.4 L22.7,343.3 L22.3,344.1 L21.8,345 L21.4,345.9 L21,346.7 L20.6,347.6 L20.1,348.4 L19.6,349.3 L19,350.1 L18.4,350.9 L17.8,351.8 L17.3,352.6 L16.6,353.4 L16,354.3 L15.4,355.1 L14.9,356 L14.3,356.8 L13.6,357.7 L12.9,358.5 L12.1,359.4 L11.4,360.3 L10.6,361.1 L9.9,362 L9.3,362.9 L8.8,363.8 L8.4,364.6 L8.3,365.5 L8.3,366.3 L8.4,367.2 L8.5,368 L8.6,368.9 L8.7,369.7 L8.8,370.5 L8.9,371.4 L9.1,372.2 L9.2,373 L9.4,373.9 L9.5,374.7 L9.6,375.6 L9.8,376.4 L9.9,377.2 L10,378.1 L10.2,378.9 L10.3,379.8 L10.4,380.6 L10.6,381.4 L10.7,382.3 L10.8,383.1 L11,383.9 L11.1,384.8 L11.1,385.6 L11.2,386.5 L11.2,387.3 L11.2,388.1 L11.2,389 L11.2,389.8 L11.1,390.7 L11.1,391.5 L11.1,392.3 L11,393.2 L11,394 L10.9,394.8 L10.9,395.7 L10.8,396.5 L10.8,397.4 L10.7,398.2 L10.6,399 L10.5,399.9 L10.3,400.7 L10.1,401.6 L9.9,402.4 L9.6,403.2 L9.4,404.1 L9.1,404.9 L8.8,405.7 L8.5,406.6 L8.3,407.4 L8.1,408.3 L7.9,409.1 L7.7,409.9 L7.5,410.7 L7.3,411.6 L7.1,412.4 L6.9,413.2 L6.8,414 L6.6,414.8 L6.4,415.6 L6.3,416.5 L6.1,417.3 L5.9,418.1 L5.8,418.9 L5.6,419.7 L5.5,420.6 L5.4,421.4 L5.2,422.2 L5.1,423 L5,423.8 L4.9,424.6 L4.8,425.5 L4.7,426.3 L4.6,427.1 L4.5,427.9 L4.4,428.7 L4.3,429.5 L4.2,430.4 L4.1,431.2 L4.1,432 L4,432.8 L3.9,433.6 L3.8,434.4 L3.7,435.2 L3.6,436.1 L3.5,436.9 L3.4,437.7 L3.3,438.5 L3.2,439.3 L3.1,440.1 L3,441 L2.9,441.8 L2.8,442.6 L2.7,443.4 L2.6,444.2 L2.5,445.1 L2.4,445.9 L2.3,446.7 L2.2,447.5 L2.1,448.3 L2,449.2 L1.9,450 L1.8,450.8 L1.7,451.6 L1.6,452.4 L1.4,453.3 L1.3,454.1 L1.2,454.9 L1,455.8 L0.8,456.6 L0.6,457.4 L0.4,458.3 L0.3,459.1 L0.2,460 L0.2,460.8 L0.2,461.6 L0.2,462.4 L0.2,463.2 L0.2,464 L0.1,464.8 L0.1,465.6 L0.1,466.5 L0.1,467.3 L0.1,468.1 L0.1,468.9 L0.1,469.7 L0.1,470.5 L0.1,471.3 L0.1,472.1 L0.1,472.9 L0.1,473.7 L0.1,474.5 L0.1,475.3 L0.1,476.1 L0.1,476.9 L0,477.7 L0,478.6 L0,479.4 L0,480.2 L0,481 L0,481.8 L0,482.6 L0,483.4 L0,484.2 L0,484.2 L-0,483.4 L-0,482.6 L-0,481.8 L-0,481 L-0,480.2 L-0,479.4 L-0,478.6 L-0,477.7 L-0.1,476.9 L-0.1,476.1 L-0.1,475.3 L-0.1,474.5 L-0.1,473.7 L-0.1,472.9 L-0.1,472.1 L-0.1,471.3 L-0.1,470.5 L-0.1,469.7 L-0.1,468.9 L-0.1,468.1 L-0.1,467.3 L-0.1,466.5 L-0.1,465.6 L-0.1,464.8 L-0.2,464 L-0.2,463.2 L-0.2,462.4 L-0.2,461.6 L-0.2,460.8 L-0.2,460 L-0.3,459.1 L-0.4,458.3 L-0.6,457.4 L-0.8,456.6 L-1,455.8 L-1.2,454.9 L-1.3,454.1 L-1.4,453.3 L-1.6,452.4 L-1.7,451.6 L-1.8,450.8 L-1.9,450 L-2,449.2 L-2.1,448.3 L-2.2,447.5 L-2.3,446.7 L-2.4,445.9 L-2.5,445.1 L-2.6,444.2 L-2.7,443.4 L-2.8,442.6 L-2.9,441.8 L-3,441 L-3.1,440.1 L-3.2,439.3 L-3.3,438.5 L-3.4,437.7 L-3.5,436.9 L-3.6,436.1 L-3.7,435.2 L-3.8,434.4 L-3.9,433.6 L-4,432.8 L-4.1,432 L-4.1,431.2 L-4.2,430.4 L-4.3,429.5 L-4.4,428.7 L-4.5,427.9 L-4.6,427.1 L-4.7,426.3 L-4.8,425.5 L-4.9,424.6 L-5,423.8 L-5.1,423 L-5.2,422.2 L-5.4,421.4 L-5.5,420.6 L-5.6,419.7 L-5.8,418.9 L-5.9,418.1 L-6.1,417.3 L-6.3,416.5 L-6.4,415.6 L-6.6,414.8 L-6.8,414 L-6.9,413.2 L-7.1,412.4 L-7.3,411.6 L-7.5,410.7 L-7.7,409.9 L-7.9,409.1 L-8.1,408.3 L-8.3,407.4 L-8.5,406.6 L-8.8,405.7 L-9.1,404.9 L-9.4,404.1 L-9.6,403.2 L-9.9,402.4 L-10.1,401.6 L-10.3,400.7 L-10.5,399.9 L-10.6,399 L-10.7,398.2 L-10.8,397.4 L-10.8,396.5 L-10.9,395.7 L-10.9,394.8 L-11,394 L-11,393.2 L-11.1,392.3 L-11.1,391.5 L-11.1,390.7 L-11.2,389.8 L-11.2,389 L-11.2,388.1 L-11.2,387.3 L-11.2,386.5 L-11.1,385.6 L-11.1,384.8 L-11,383.9 L-10.8,383.1 L-10.7,382.3 L-10.6,381.4 L-10.4,380.6 L-10.3,379.8 L-10.2,378.9 L-10,378.1 L-9.9,377.2 L-9.8,376.4 L-9.6,375.6 L-9.5,374.7 L-9.4,373.9 L-9.2,373 L-9.1,372.2 L-8.9,371.4 L-8.8,370.5 L-8.7,369.7 L-8.6,368.9 L-8.5,368 L-8.4,367.2 L-8.3,366.3 L-8.3,365.5 L-8.4,364.6 L-8.8,363.8 L-9.3,362.9 L-9.9,362 L-10.6,361.1 L-11.4,360.3 L-12.1,359.4 L-12.9,358.5 L-13.6,357.7 L-14.3,356.8 L-14.9,356 L-15.4,355.1 L-16,354.3 L-16.6,353.4 L-17.3,352.6 L-17.8,351.8 L-18.4,350.9 L-19,350.1 L-19.6,349.3 L-20.1,348.4 L-20.6,347.6 L-21,346.7 L-21.4,345.9 L-21.8,345 L-22.3,344.1 L-22.7,343.3 L-23.1,342.4 L-23.5,341.5 L-23.8,340.6 L-24.1,339.8 L-24.2,338.9 L-24.3,338 L-24.2,337.1 L-24.1,336.3 L-24,335.4 L-23.8,334.6 L-23.5,333.7 L-23.3,332.8 L-23,332 L-22.7,331.1 L-22.4,330.3 L-22.1,329.4 L-21.8,328.6 L-21.5,327.7 L-21.1,326.9 L-20.6,326 L-20.2,325.2 L-19.7,324.4 L-19.2,323.5 L-18.8,322.7 L-18.4,321.9 L-18.1,321 L-17.8,320.2 L-17.7,319.3 L-17.6,318.5 L-17.6,317.6 L-17.6,316.8 L-17.7,315.9 L-17.7,315 L-17.8,314.1 L-17.8,313.3 L-17.9,312.4 L-17.9,311.5 L-18,310.7 L-18.1,309.8 L-18.2,309 L-18.5,308.2 L-18.9,307.4 L-19.3,306.5 L-19.8,305.7 L-20.2,304.9 L-20.7,304.1 L-21.2,303.3 L-21.6,302.4 L-21.9,301.6 L-22.1,300.8 L-22.1,300 L-22.1,299.1 L-22.1,298.3 L-22.1,297.4 L-22.1,296.5 L-22,295.6 L-22,294.8 L-21.9,293.9 L-21.8,293 L-21.7,292.2 L-21.7,291.3 L-21.6,290.5 L-21.4,289.6 L-21.2,288.8 L-20.9,287.9 L-20.6,287.1 L-20.3,286.3 L-20,285.4 L-19.6,284.6 L-19.2,283.8 L-18.8,282.9 L-18.4,282.1 L-18,281.2 L-17.6,280.4 L-17.2,279.6 L-16.7,278.7 L-16.1,277.9 L-15.5,277 L-14.9,276.2 L-14.2,275.4 L-13.6,274.5 L-13,273.7 L-12.4,272.9 L-11.9,272 L-11.5,271.2 L-11.2,270.3 L-11,269.5 L-10.8,268.7 L-10.7,267.8 L-10.5,267 L-10.4,266.1 L-10.3,265.3 L-10.2,264.5 L-10.1,263.6 L-10,262.8 L-9.9,262 L-9.8,261.1 L-9.8,260.3 L-9.8,259.4 L-9.8,258.6 L-9.8,257.8 L-9.9,257 L-10,256.2 L-10.2,255.4 L-10.4,254.6 L-10.7,253.8 L-10.9,253 L-11.2,252.2 L-11.5,251.4 L-11.7,250.6 L-11.9,249.8 L-12.1,249 L-12.3,248.2 L-12.3,247.4 L-12.4,246.6 L-12.4,245.8 L-12.3,245 L-12.2,244.2 L-12.1,243.3 L-12,242.5 L-11.9,241.7 L-11.7,240.9 L-11.6,240.1 L-11.4,239.2 L-11.3,238.4 L-11.1,237.6 L-11,236.8 L-10.8,236 L-10.6,235.1 L-10.4,234.3 L-10.2,233.4 L-10,232.6 L-9.8,231.8 L-9.6,230.9 L-9.4,230.1 L-9.1,229.3 L-8.9,228.4 L-8.7,227.6 L-8.5,226.7 L-8.3,225.9 L-8.1,225.1 L-8,224.2 L-7.8,223.4 L-7.6,222.5 L-7.4,221.7 L-7.2,220.9 L-7,220 L-6.8,219.2 L-6.7,218.4 L-6.5,217.5 L-6.4,216.7 L-6.3,215.8 L-6.2,215 L-6.1,214.2 L-6,213.3 L-6,212.5 L-5.9,211.6 L-5.9,210.8 L-5.8,209.9 L-5.8,209.1 L-5.7,208.2 L-5.7,207.4 L-5.6,206.5 L-5.6,205.7 L-5.5,204.8 L-5.5,204 L-5.4,203.2 L-5.4,202.4 L-5.3,201.5 L-5.3,200.7 L-5.2,199.9 L-5.2,199.1 L-5.1,198.3 L-5.1,197.4 L-5.1,196.6 L-5,195.8 L-5,195 L-4.9,194.2 L-4.9,193.3 L-4.8,192.5 L-4.8,191.7 L-4.7,190.9 L-4.7,190.1 L-4.6,189.2 L-4.6,188.4 L-4.5,187.6 L-4.5,186.8 L-4.4,186 L-4.3,185.2 L-4.2,184.3 L-4.1,183.5 L-4,182.7 L-4,181.9 L-3.9,181.1 L-3.8,180.3 L-3.7,179.4 L-3.6,178.6 L-3.5,177.8 L-3.4,177 L-3.3,176.2 L-3.3,175.4 L-3.2,174.6 L-3.2,173.7 L-3.1,172.9 L-3.1,172.1 L-3.1,171.3 L-3.1,170.5 L-3.1,169.7 L-3.1,168.9 L-3.1,168.1 L-3.2,167.3 L-3.2,166.5 L-3.2,165.6 L-3.2,164.8 L-3.3,164 L-3.3,163.2 L-3.4,162.4 L-3.4,161.6 L-3.4,160.8 L-3.5,160 L-3.5,159.2 L-3.6,158.4 L-3.6,157.6 L-3.6,156.8 L-3.7,156 L-3.7,155.2 L-3.7,154.3 L-3.7,153.5 L-3.8,152.7 L-3.8,151.9 L-3.8,151.1 L-3.8,150.3 L-3.8,149.5 L-3.8,148.7 L-3.8,147.9 L-3.8,147.1 L-3.8,146.3 L-3.8,145.5 L-3.8,144.7 L-3.8,143.8 L-3.8,143 L-3.7,142.2 L-3.7,141.4 L-3.7,140.6 L-3.7,139.8 L-3.7,139 L-3.7,138.2 L-3.6,137.4 L-3.6,136.6 L-3.6,135.8 L-3.6,135 L-3.6,134.2 L-3.5,133.4 L-3.5,132.5 L-3.5,131.7 L-3.5,130.9 L-3.4,130.1 L-3.4,129.3 L-3.4,128.5 L-3.3,127.7 L-3.3,126.9 L-3.3,126.1 L-3.2,125.3 L-3.2,124.5 L-3.1,123.7 L-3,122.9 L-3,122.1 L-2.9,121.3 L-2.8,120.5 L-2.7,119.6 L-2.6,118.8 L-2.4,118 L-2.3,117.2 L-2.1,116.4 L-2,115.6 L-1.8,114.8 L-1.6,114 L-1.4,113.2 L-1.2,112.4 L-0.2,111 L-0.2,110.2 L-0.2,109.4 L-0.2,108.6 L-0.2,107.8 L-0.2,107 L-0.2,106.2 L-0.2,105.4 L-0.2,104.6 L-0.2,103.7 L-0.2,102.9 L-0.1,102.1 L-0.1,101.3 L-0.1,100.5 L-0.1,99.7 L-0.1,98.9 L-0.1,98.1 L-0.1,97.3 L-0.1,96.5 L-0.1,95.7 L-0.1,94.9 L-0.1,94.1 L-0.1,93.3 L-0.1,92.5 L-0.1,91.7 L-0.1,90.9 L-0.1,90 L-0.1,89.2 L-0.1,88.4 L-0.1,87.6 L-0.1,86.8 L-0.1,86 L-0.1,85.2 L-0.1,84.4 L-0.1,83.6 L-0.1,82.8 L-0.1,82 L-0.1,81.2 L-0.1,80.4 L-0.1,79.6 L-0.1,78.8 L-0.1,78 L-0,77.1 L-0,76.3 L-0,75.5 L-0,74.7 L-0,73.9 L-0,73.1 L-0,72.3 L-0,71.5 L-0,70.7 L-0,69.9 L-0,69.1 L-0,68.3 L-0,67.5 L-0,66.7 L-0,65.9 L-0,65.1 L-0,64.3 L-0,63.4 L-0,62.6 L-0,61.8 L-0,61 L-0,60.2 L-0,59.4 L-0,58.6 L-0,57.8 L-0,57 Z" fill="#132B43" stroke="#000" stroke-width="1.3" stroke-linejoin="round"/>
<line x1="0" y1="271.1" x2="0" y2="341.5" stroke="#000" stroke-width="1.9"/>
<line x1="-2.86" y1="271.1" x2="2.86" y2="271.1" stroke="#000" stroke-width="1"/>
<line x1="-2.86" y1="341.5" x2="2.86" y2="341.5" stroke="#000" stroke-width="1"/>
<rect x="-4.05" y="313.5" width="8.1" height="7.4" fill="#000"/>
</g>
<line x1="510.1" y1="57" x2="510.1" y2="507.1" stroke="#5f5f5f" stroke-width="1.1"/>
<g transform="translate(510.1,0) scale(0.42,1)">
<path d="M0,57 L0,57.8 L0,58.6 L0,59.4 L0,60.2 L0,61 L0,61.9 L0,62.7 L0,63.5 L0,64.3 L0,65.1 L0,65.9 L0,66.7 L0,67.5 L0,68.3 L0,69.1 L0,69.9 L0,70.8 L0,71.6 L0,72.4 L0,73.2 L0,74 L0,74.8 L0,75.6 L0,76.4 L0,77.2 L0.1,78 L0.1,78.8 L0.1,79.6 L0.1,80.5 L0.1,81.3 L0.1,82.1 L0.1,82.9 L0.1,83.7 L0.1,84.5 L0.1,85.3 L0.1,86.1 L0.1,86.9 L0.1,87.7 L0.1,88.5 L0.1,89.4 L0.1,90.2 L0.1,91 L0.1,91.8 L0.1,92.6 L0.1,93.4 L0.1,94.2 L0.1,95 L0.1,95.8 L0.1,96.6 L0.1,97.4 L0.1,98.2 L0.1,99.1 L0.1,99.9 L0.1,100.7 L0.1,101.5 L0.1,102.3 L0.1,103.1 L0.2,103.9 L0.2,104.7 L0.2,105.5 L0.2,106.3 L0.2,107.1 L0.2,108 L0.2,108.8 L0.2,109.6 L0.2,110.4 L0.2,111.2 L0.2,112 L0.7,112.9 L1.2,113.8 L1.4,114.6 L1.5,115.4 L1.6,116.2 L1.7,117.1 L1.8,117.9 L1.9,118.7 L1.9,119.5 L2,120.3 L2.1,121.1 L2.2,122 L2.3,122.8 L2.4,123.6 L2.5,124.4 L2.7,125.3 L2.9,126.1 L3.1,127 L3.3,127.8 L3.5,128.6 L3.7,129.5 L3.9,130.3 L4.1,131.1 L4.3,132 L4.5,132.8 L4.6,133.7 L4.8,134.5 L4.9,135.3 L5,136.1 L5.1,136.9 L5.2,137.8 L5.3,138.6 L5.3,139.4 L5.4,140.2 L5.5,141 L5.6,141.8 L5.6,142.7 L5.7,143.5 L5.8,144.3 L5.8,145.1 L5.9,145.9 L6,146.7 L6.1,147.5 L6.2,148.4 L6.2,149.2 L6.3,150 L6.4,150.8 L6.5,151.6 L6.6,152.4 L6.8,153.3 L6.9,154.1 L7,154.9 L7.1,155.7 L7.2,156.5 L7.4,157.4 L7.5,158.2 L7.6,159 L7.8,159.8 L7.9,160.6 L8.1,161.5 L8.2,162.3 L8.3,163.1 L8.5,163.9 L8.6,164.7 L8.8,165.6 L8.9,166.4 L9,167.2 L9.2,168 L9.3,168.8 L9.5,169.6 L9.7,170.5 L9.8,171.3 L10,172.1 L10.1,172.9 L10.3,173.7 L10.5,174.5 L10.6,175.3 L10.8,176.2 L11,177 L11.1,177.8 L11.3,178.6 L11.4,179.4 L11.6,180.2 L11.7,181.1 L11.9,181.9 L12,182.7 L12.1,183.5 L12.3,184.3 L12.4,185.1 L12.5,186 L12.7,186.8 L12.8,187.6 L13,188.4 L13.1,189.2 L13.3,190.1 L13.4,190.9 L13.5,191.7 L13.7,192.5 L13.8,193.3 L13.9,194.2 L14,195 L14.1,195.8 L14.1,196.6 L14.2,197.4 L14.2,198.3 L14.3,199.1 L14.3,199.9 L14.3,200.7 L14.3,201.6 L14.3,202.4 L14.3,203.3 L14.3,204.1 L14.3,205 L14.3,205.8 L14.3,206.7 L14.3,207.5 L14.3,208.4 L14.3,209.2 L14.3,210.1 L14.3,210.9 L14.3,211.7 L14.4,212.6 L14.5,213.4 L14.6,214.3 L14.8,215.1 L15,215.9 L15.2,216.8 L15.4,217.6 L15.6,218.4 L15.9,219.3 L16.1,220.1 L16.4,221 L16.7,221.8 L17,222.6 L17.3,223.5 L17.7,224.3 L18.2,225.2 L18.7,226 L19.2,226.8 L19.7,227.7 L20.2,228.5 L20.7,229.3 L21.1,230.2 L21.5,231 L21.9,231.9 L22.1,232.7 L22.4,233.5 L22.6,234.4 L22.9,235.2 L23.1,236.1 L23.3,236.9 L23.5,237.7 L23.7,238.6 L23.9,239.4 L24,240.2 L24.1,241.1 L24.2,241.9 L24.3,242.8 L24.3,243.6 L24.2,244.4 L24.1,245.3 L24,246.1 L23.8,247 L23.5,247.8 L23.2,248.6 L22.9,249.5 L22.5,250.3 L22.2,251.1 L21.8,252 L21.4,252.8 L21.1,253.7 L20.7,254.5 L20.4,255.3 L20,256.2 L19.5,257 L19.1,257.9 L18.6,258.7 L18.1,259.5 L17.6,260.4 L17.2,261.2 L16.7,262 L16.2,262.9 L15.8,263.7 L15.4,264.6 L15,265.4 L14.6,266.3 L14.2,267.1 L13.8,268 L13.4,268.9 L13,269.8 L12.6,270.6 L12.3,271.5 L12.1,272.4 L12,273.2 L11.9,274.1 L12,274.9 L12.2,275.7 L12.5,276.6 L13,277.4 L13.5,278.2 L14.1,279 L14.7,279.8 L15.3,280.6 L16,281.5 L16.6,282.3 L17.2,283.1 L17.8,283.9 L18.3,284.7 L18.6,285.6 L18.9,286.4 L19,287.2 L19.1,288 L19.2,288.9 L19.2,289.7 L19.3,290.6 L19.3,291.4 L19.4,292.2 L19.4,293.1 L19.4,293.9 L19.5,294.7 L19.5,295.6 L19.5,296.4 L19.5,297.3 L19.5,298.1 L19.5,298.9 L19.3,299.8 L19.1,300.6 L18.9,301.5 L18.6,302.3 L18.3,303.1 L17.9,304 L17.6,304.8 L17.3,305.6 L17.1,306.5 L16.8,307.3 L16.7,308.2 L16.7,309 L16.7,309.8 L16.7,310.7 L16.7,311.5 L16.8,312.4 L16.8,313.2 L16.9,314 L17,314.9 L17.1,315.7 L17.2,316.5 L17.3,317.4 L17.4,318.2 L17.5,319.1 L17.6,319.9 L17.8,320.7 L18,321.6 L18.2,322.4 L18.5,323.3 L18.9,324.1 L19.2,325 L19.6,325.8 L20,326.7 L20.3,327.5 L20.6,328.4 L21,329.2 L21.2,330.1 L21.4,330.9 L21.6,331.8 L21.8,332.6 L22,333.5 L22.2,334.4 L22.4,335.2 L22.5,336.1 L22.7,337 L22.8,337.9 L22.8,338.7 L22.9,339.6 L22.8,340.4 L22.6,341.2 L22.3,342.1 L22,342.9 L21.5,343.7 L21,344.5 L20.4,345.3 L19.8,346.1 L19.2,347 L18.5,347.8 L17.9,348.6 L17.2,349.4 L16.6,350.2 L16,351.1 L15.5,351.9 L15,352.7 L14.5,353.5 L14,354.3 L13.5,355.2 L13,356 L12.4,356.8 L11.9,357.6 L11.4,358.4 L10.9,359.2 L10.4,360.1 L9.9,360.9 L9.5,361.7 L9.2,362.5 L8.8,363.3 L8.6,364.2 L8.4,365 L8.3,365.8 L8.3,366.6 L8.2,367.5 L8.2,368.3 L8.2,369.1 L8.1,369.9 L8.1,370.8 L8.1,371.6 L8.1,372.4 L8.1,373.3 L8,374.1 L8,374.9 L8,375.8 L8,376.6 L7.9,377.4 L7.9,378.2 L7.9,379.1 L7.9,379.9 L7.8,380.7 L7.8,381.6 L7.7,382.4 L7.7,383.3 L7.7,384.1 L7.6,384.9 L7.6,385.8 L7.5,386.6 L7.4,387.4 L7.4,388.3 L7.3,389.1 L7.2,390 L7.1,390.8 L7,391.6 L6.9,392.5 L6.7,393.3 L6.5,394.2 L6.3,395 L6.1,395.8 L5.9,396.7 L5.6,397.5 L5.4,398.3 L5.2,399.2 L4.9,400 L4.7,400.9 L4.5,401.7 L4.3,402.5 L4.1,403.4 L3.9,404.2 L3.6,405.1 L3.4,405.9 L3.1,406.7 L2.9,407.6 L2.7,408.4 L2.5,409.2 L2.4,410.1 L2.2,410.9 L2.2,411.8 L2.1,412.6 L2.2,413.4 L2.2,414.3 L2.3,415.1 L2.3,416 L2.4,416.8 L2.5,417.6 L2.6,418.5 L2.7,419.3 L2.8,420.1 L2.9,421 L2.9,421.8 L3,422.7 L3,423.5 L3,424.3 L3,425.1 L2.9,426 L2.9,426.8 L2.9,427.6 L2.9,428.4 L2.8,429.2 L2.8,430.1 L2.7,430.9 L2.7,431.7 L2.6,432.5 L2.6,433.3 L2.5,434.2 L2.5,435 L2.4,435.8 L2.4,436.6 L2.3,437.4 L2.2,438.3 L2.2,439.1 L2.1,439.9 L2.1,440.7 L2,441.5 L2,442.3 L1.9,443.2 L1.9,444 L1.8,444.8 L1.8,445.6 L1.7,446.4 L1.6,447.2 L1.6,448.1 L1.5,448.9 L1.4,449.7 L1.3,450.6 L1.2,451.5 L1.1,452.4 L0.9,453.2 L0.8,454.1 L0.7,455 L0.6,455.8 L0.5,456.7 L0.4,457.5 L0.3,458.3 L0.3,459.2 L0.2,460 L0.2,460.8 L0.2,461.6 L0.2,462.4 L0.2,463.2 L0.2,464.1 L0.2,464.9 L0.2,465.7 L0.2,466.5 L0.2,467.3 L0.2,468.1 L0.1,468.9 L0.1,469.7 L0.1,470.6 L0.1,471.4 L0.1,472.2 L0.1,473 L0.1,473.8 L0.1,474.6 L0.1,475.4 L0.1,476.2 L0.1,477.1 L0.1,477.9 L0.1,478.7 L0.1,479.5 L0.1,480.3 L0.1,481.1 L0.1,481.9 L0.1,482.7 L0.1,483.6 L0.1,484.4 L0.1,485.2 L0.1,486 L0.1,486.8 L0.1,487.6 L0.1,488.4 L0.1,489.2 L0.1,490 L0.1,490.9 L0.1,491.7 L0.1,492.5 L0,493.3 L0,494.1 L0,494.9 L0,495.7 L0,496.5 L0,497.4 L0,498.2 L0,499 L0,499.8 L0,500.6 L0,501.4 L0,502.2 L0,503 L0,503.9 L0,504.7 L0,505.5 L0,506.3 L0,507.1 L0,507.1 L-0,506.3 L-0,505.5 L-0,504.7 L-0,503.9 L-0,503 L-0,502.2 L-0,501.4 L-0,500.6 L-0,499.8 L-0,499 L-0,498.2 L-0,497.4 L-0,496.5 L-0,495.7 L-0,494.9 L-0,494.1 L-0,493.3 L-0.1,492.5 L-0.1,491.7 L-0.1,490.9 L-0.1,490 L-0.1,489.2 L-0.1,488.4 L-0.1,487.6 L-0.1,486.8 L-0.1,486 L-0.1,485.2 L-0.1,484.4 L-0.1,483.6 L-0.1,482.7 L-0.1,481.9 L-0.1,481.1 L-0.1,480.3 L-0.1,479.5 L-0.1,478.7 L-0.1,477.9 L-0.1,477.1 L-0.1,476.2 L-0.1,475.4 L-0.1,474.6 L-0.1,473.8 L-0.1,473 L-0.1,472.2 L-0.1,471.4 L-0.1,470.6 L-0.1,469.7 L-0.1,468.9 L-0.2,468.1 L-0.2,467.3 L-0.2,466.5 L-0.2,465.7 L-0.2,464.9 L-0.2,464.1 L-0.2,463.2 L-0.2,462.4 L-0.2,461.6 L-0.2,460.8 L-0.2,460 L-0.3,459.2 L-0.3,458.3 L-0.4,457.5 L-0.5,456.7 L-0.6,455.8 L-0.7,455 L-0.8,454.1 L-0.9,453.2 L-1.1,452.4 L-1.2,451.5 L-1.3,450.6 L-1.4,449.7 L-1.5,448.9 L-1.6,448.1 L-1.6,447.2 L-1.7,446.4 L-1.8,445.6 L-1.8,444.8 L-1.9,444 L-1.9,443.2 L-2,442.3 L-2,441.5 L-2.1,440.7 L-2.1,439.9 L-2.2,439.1 L-2.2,438.3 L-2.3,437.4 L-2.4,436.6 L-2.4,435.8 L-2.5,435 L-2.5,434.2 L-2.6,433.3 L-2.6,432.5 L-2.7,431.7 L-2.7,430.9 L-2.8,430.1 L-2.8,429.2 L-2.9,428.4 L-2.9,427.6 L-2.9,426.8 L-2.9,426 L-3,425.1 L-3,424.3 L-3,423.5 L-3,422.7 L-2.9,421.8 L-2.9,421 L-2.8,420.1 L-2.7,419.3 L-2.6,418.5 L-2.5,417.6 L-2.4,416.8 L-2.3,416 L-2.3,415.1 L-2.2,414.3 L-2.2,413.4 L-2.1,412.6 L-2.2,411.8 L-2.2,410.9 L-2.4,410.1 L-2.5,409.2 L-2.7,408.4 L-2.9,407.6 L-3.1,406.7 L-3.4,405.9 L-3.6,405.1 L-3.9,404.2 L-4.1,403.4 L-4.3,402.5 L-4.5,401.7 L-4.7,400.9 L-4.9,400 L-5.2,399.2 L-5.4,398.3 L-5.6,397.5 L-5.9,396.7 L-6.1,395.8 L-6.3,395 L-6.5,394.2 L-6.7,393.3 L-6.9,392.5 L-7,391.6 L-7.1,390.8 L-7.2,390 L-7.3,389.1 L-7.4,388.3 L-7.4,387.4 L-7.5,386.6 L-7.6,385.8 L-7.6,384.9 L-7.7,384.1 L-7.7,383.3 L-7.7,382.4 L-7.8,381.6 L-7.8,380.7 L-7.9,379.9 L-7.9,379.1 L-7.9,378.2 L-7.9,377.4 L-8,376.6 L-8,375.8 L-8,374.9 L-8,374.1 L-8.1,373.3 L-8.1,372.4 L-8.1,371.6 L-8.1,370.8 L-8.1,369.9 L-8.2,369.1 L-8.2,368.3 L-8.2,367.5 L-8.3,366.6 L-8.3,365.8 L-8.4,365 L-8.6,364.2 L-8.8,363.3 L-9.2,362.5 L-9.5,361.7 L-9.9,360.9 L-10.4,360.1 L-10.9,359.2 L-11.4,358.4 L-11.9,357.6 L-12.4,356.8 L-13,356 L-13.5,355.2 L-14,354.3 L-14.5,353.5 L-15,352.7 L-15.5,351.9 L-16,351.1 L-16.6,350.2 L-17.2,349.4 L-17.9,348.6 L-18.5,347.8 L-19.2,347 L-19.8,346.1 L-20.4,345.3 L-21,344.5 L-21.5,343.7 L-22,342.9 L-22.3,342.1 L-22.6,341.2 L-22.8,340.4 L-22.9,339.6 L-22.8,338.7 L-22.8,337.9 L-22.7,337 L-22.5,336.1 L-22.4,335.2 L-22.2,334.4 L-22,333.5 L-21.8,332.6 L-21.6,331.8 L-21.4,330.9 L-21.2,330.1 L-21,329.2 L-20.6,328.4 L-20.3,327.5 L-20,326.7 L-19.6,325.8 L-19.2,325 L-18.9,324.1 L-18.5,323.3 L-18.2,322.4 L-18,321.6 L-17.8,320.7 L-17.6,319.9 L-17.5,319.1 L-17.4,318.2 L-17.3,317.4 L-17.2,316.5 L-17.1,315.7 L-17,314.9 L-16.9,314 L-16.8,313.2 L-16.8,312.4 L-16.7,311.5 L-16.7,310.7 L-16.7,309.8 L-16.7,309 L-16.7,308.2 L-16.8,307.3 L-17.1,306.5 L-17.3,305.6 L-17.6,304.8 L-17.9,304 L-18.3,303.1 L-18.6,302.3 L-18.9,301.5 L-19.1,300.6 L-19.3,299.8 L-19.5,298.9 L-19.5,298.1 L-19.5,297.3 L-19.5,296.4 L-19.5,295.6 L-19.5,294.7 L-19.4,293.9 L-19.4,293.1 L-19.4,292.2 L-19.3,291.4 L-19.3,290.6 L-19.2,289.7 L-19.2,288.9 L-19.1,288 L-19,287.2 L-18.9,286.4 L-18.6,285.6 L-18.3,284.7 L-17.8,283.9 L-17.2,283.1 L-16.6,282.3 L-16,281.5 L-15.3,280.6 L-14.7,279.8 L-14.1,279 L-13.5,278.2 L-13,277.4 L-12.5,276.6 L-12.2,275.7 L-12,274.9 L-11.9,274.1 L-12,273.2 L-12.1,272.4 L-12.3,271.5 L-12.6,270.6 L-13,269.8 L-13.4,268.9 L-13.8,268 L-14.2,267.1 L-14.6,266.3 L-15,265.4 L-15.4,264.6 L-15.8,263.7 L-16.2,262.9 L-16.7,262 L-17.2,261.2 L-17.6,260.4 L-18.1,259.5 L-18.6,258.7 L-19.1,257.9 L-19.5,257 L-20,256.2 L-20.4,255.3 L-20.7,254.5 L-21.1,253.7 L-21.4,252.8 L-21.8,252 L-22.2,251.1 L-22.5,250.3 L-22.9,249.5 L-23.2,248.6 L-23.5,247.8 L-23.8,247 L-24,246.1 L-24.1,245.3 L-24.2,244.4 L-24.3,243.6 L-24.3,242.8 L-24.2,241.9 L-24.1,241.1 L-24,240.2 L-23.9,239.4 L-23.7,238.6 L-23.5,237.7 L-23.3,236.9 L-23.1,236.1 L-22.9,235.2 L-22.6,234.4 L-22.4,233.5 L-22.1,232.7 L-21.9,231.9 L-21.5,231 L-21.1,230.2 L-20.7,229.3 L-20.2,228.5 L-19.7,227.7 L-19.2,226.8 L-18.7,226 L-18.2,225.2 L-17.7,224.3 L-17.3,223.5 L-17,222.6 L-16.7,221.8 L-16.4,221 L-16.1,220.1 L-15.9,219.3 L-15.6,218.4 L-15.4,217.6 L-15.2,216.8 L-15,215.9 L-14.8,215.1 L-14.6,214.3 L-14.5,213.4 L-14.4,212.6 L-14.3,211.7 L-14.3,210.9 L-14.3,210.1 L-14.3,209.2 L-14.3,208.4 L-14.3,207.5 L-14.3,206.7 L-14.3,205.8 L-14.3,205 L-14.3,204.1 L-14.3,203.3 L-14.3,202.4 L-14.3,201.6 L-14.3,200.7 L-14.3,199.9 L-14.3,199.1 L-14.2,198.3 L-14.2,197.4 L-14.1,196.6 L-14.1,195.8 L-14,195 L-13.9,194.2 L-13.8,193.3 L-13.7,192.5 L-13.5,191.7 L-13.4,190.9 L-13.3,190.1 L-13.1,189.2 L-13,188.4 L-12.8,187.6 L-12.7,186.8 L-12.5,186 L-12.4,185.1 L-12.3,184.3 L-12.1,183.5 L-12,182.7 L-11.9,181.9 L-11.7,181.1 L-11.6,180.2 L-11.4,179.4 L-11.3,178.6 L-11.1,177.8 L-11,177 L-10.8,176.2 L-10.6,175.3 L-10.5,174.5 L-10.3,173.7 L-10.1,172.9 L-10,172.1 L-9.8,171.3 L-9.7,170.5 L-9.5,169.6 L-9.3,168.8 L-9.2,168 L-9,167.2 L-8.9,166.4 L-8.8,165.6 L-8.6,164.7 L-8.5,163.9 L-8.3,163.1 L-8.2,162.3 L-8.1,161.5 L-7.9,160.6 L-7.8,159.8 L-7.6,159 L-7.5,158.2 L-7.4,157.4 L-7.2,156.5 L-7.1,155.7 L-7,154.9 L-6.9,154.1 L-6.8,153.3 L-6.6,152.4 L-6.5,151.6 L-6.4,150.8 L-6.3,150 L-6.2,149.2 L-6.2,148.4 L-6.1,147.5 L-6,146.7 L-5.9,145.9 L-5.8,145.1 L-5.8,144.3 L-5.7,143.5 L-5.6,142.7 L-5.6,141.8 L-5.5,141 L-5.4,140.2 L-5.3,139.4 L-5.3,138.6 L-5.2,137.8 L-5.1,136.9 L-5,136.1 L-4.9,135.3 L-4.8,134.5 L-4.6,133.7 L-4.5,132.8 L-4.3,132 L-4.1,131.1 L-3.9,130.3 L-3.7,129.5 L-3.5,128.6 L-3.3,127.8 L-3.1,127 L-2.9,126.1 L-2.7,125.3 L-2.5,124.4 L-2.4,123.6 L-2.3,122.8 L-2.2,122 L-2.1,121.1 L-2,120.3 L-1.9,119.5 L-1.9,118.7 L-1.8,117.9 L-1.7,117.1 L-1.6,116.2 L-1.5,115.4 L-1.4,114.6 L-1.2,113.8 L-0.7,112.9 L-0.2,112 L-0.2,111.2 L-0.2,110.4 L-0.2,109.6 L-0.2,108.8 L-0.2,108 L-0.2,107.1 L-0.2,106.3 L-0.2,105.5 L-0.2,104.7 L-0.2,103.9 L-0.1,103.1 L-0.1,102.3 L-0.1,101.5 L-0.1,100.7 L-0.1,99.9 L-0.1,99.1 L-0.1,98.2 L-0.1,97.4 L-0.1,96.6 L-0.1,95.8 L-0.1,95 L-0.1,94.2 L-0.1,93.4 L-0.1,92.6 L-0.1,91.8 L-0.1,91 L-0.1,90.2 L-0.1,89.4 L-0.1,88.5 L-0.1,87.7 L-0.1,86.9 L-0.1,86.1 L-0.1,85.3 L-0.1,84.5 L-0.1,83.7 L-0.1,82.9 L-0.1,82.1 L-0.1,81.3 L-0.1,80.5 L-0.1,79.6 L-0.1,78.8 L-0.1,78 L-0,77.2 L-0,76.4 L-0,75.6 L-0,74.8 L-0,74 L-0,73.2 L-0,72.4 L-0,71.6 L-0,70.8 L-0,69.9 L-0,69.1 L-0,68.3 L-0,67.5 L-0,66.7 L-0,65.9 L-0,65.1 L-0,64.3 L-0,63.5 L-0,62.7 L-0,61.9 L-0,61 L-0,60.2 L-0,59.4 L-0,58.6 L-0,57.8 L-0,57 Z" fill="#336A98" stroke="#000" stroke-width="1.3" stroke-linejoin="round"/>
<line x1="0" y1="222.9" x2="0" y2="341.3" stroke="#000" stroke-width="1.9"/>
<line x1="-2.86" y1="222.9" x2="2.86" y2="222.9" stroke="#000" stroke-width="1"/>
<line x1="-2.86" y1="341.3" x2="2.86" y2="341.3" stroke="#000" stroke-width="1"/>
<rect x="-4.05" y="290.1" width="8.1" height="7.4" fill="#000"/>
</g>
<line x1="609.3" y1="128.2" x2="609.3" y2="437.5" stroke="#5f5f5f" stroke-width="1.1"/>
<g transform="translate(609.3,0) scale(0.42,1)">
<path d="M0,128.2 L2.4,128.5 L2.6,129.4 L2.8,130.2 L2.9,131.1 L3,132 L3.1,132.8 L3.1,133.7 L3.2,134.6 L3.2,135.4 L3.3,136.3 L3.5,137.1 L3.6,138 L3.8,138.8 L4.1,139.7 L4.3,140.5 L4.5,141.3 L4.7,142.2 L4.9,143 L5.1,143.8 L5.3,144.7 L5.4,145.5 L5.4,146.4 L5.5,147.2 L5.4,148 L5.4,148.9 L5.2,149.7 L5,150.6 L4.8,151.4 L4.6,152.2 L4.4,153.1 L4.2,153.9 L3.9,154.7 L3.7,155.6 L3.6,156.4 L3.4,157.3 L3.3,158.1 L3.3,158.9 L3.2,159.8 L3.2,160.6 L3.1,161.5 L3.1,162.3 L3,163.1 L3,164 L2.9,164.8 L2.9,165.6 L2.9,166.5 L2.9,167.3 L2.9,168.2 L2.9,169 L2.9,169.8 L3,170.7 L3.2,171.5 L3.5,172.4 L3.8,173.2 L4.2,174.1 L4.6,174.9 L5,175.8 L5.4,176.6 L5.8,177.5 L6.2,178.3 L6.6,179.2 L6.9,180 L7.2,180.8 L7.5,181.7 L7.9,182.5 L8.2,183.3 L8.5,184.2 L8.9,185 L9.2,185.8 L9.5,186.6 L9.8,187.5 L10.1,188.3 L10.3,189.1 L10.5,190 L10.7,190.8 L10.9,191.6 L11,192.5 L11.2,193.3 L11.3,194.2 L11.5,195 L11.6,195.8 L11.7,196.7 L11.9,197.5 L12,198.3 L12,199.2 L12.1,200 L12.1,200.9 L12.1,201.7 L12.1,202.5 L12.1,203.4 L12,204.2 L11.9,205.1 L11.8,205.9 L11.6,206.7 L11.5,207.6 L11.3,208.4 L11.2,209.2 L11.1,210.1 L11,210.9 L11,211.8 L11,212.6 L11,213.4 L11,214.3 L11.2,215.1 L11.3,216 L11.5,216.8 L11.7,217.6 L11.9,218.5 L12.2,219.3 L12.4,220.1 L12.7,221 L13,221.8 L13.3,222.7 L13.6,223.5 L13.9,224.3 L14.3,225.2 L14.7,226 L15.2,226.9 L15.8,227.7 L16.3,228.5 L16.9,229.4 L17.4,230.2 L17.9,231 L18.4,231.9 L18.8,232.7 L19.2,233.6 L19.5,234.4 L19.8,235.2 L20.1,236.1 L20.3,236.9 L20.6,237.8 L20.8,238.6 L21,239.4 L21.2,240.3 L21.4,241.1 L21.6,241.9 L21.7,242.8 L21.8,243.6 L21.9,244.5 L21.9,245.3 L21.9,246.2 L21.9,247 L21.9,247.8 L21.9,248.7 L21.8,249.5 L21.7,250.4 L21.4,251.2 L21.1,252.1 L20.7,252.9 L20.3,253.7 L19.8,254.6 L19.3,255.4 L18.8,256.2 L18.3,257.1 L17.8,257.9 L17.3,258.8 L16.9,259.6 L16.5,260.4 L16,261.3 L15.5,262.1 L15,263 L14.4,263.8 L13.9,264.6 L13.4,265.5 L12.9,266.3 L12.5,267.1 L12.2,268 L11.9,268.8 L11.7,269.7 L11.7,270.5 L11.7,271.3 L12,272.2 L12.3,273 L12.8,273.9 L13.3,274.7 L13.9,275.5 L14.5,276.4 L15.2,277.2 L15.8,278 L16.3,278.9 L16.9,279.7 L17.3,280.6 L17.6,281.4 L17.9,282.2 L18.1,283.1 L18.4,283.9 L18.6,284.8 L18.8,285.6 L19,286.4 L19.2,287.3 L19.4,288.1 L19.6,288.9 L19.7,289.8 L19.8,290.6 L19.9,291.5 L20,292.3 L20.1,293.1 L20.1,293.9 L20.1,294.8 L20.2,295.6 L20.2,296.4 L20.3,297.2 L20.3,298 L20.3,298.9 L20.4,299.7 L20.4,300.5 L20.4,301.3 L20.4,302.1 L20.5,302.9 L20.5,303.8 L20.5,304.6 L20.5,305.4 L20.5,306.2 L20.4,307 L20.4,307.9 L20.3,308.7 L20.3,309.5 L20.2,310.3 L20.1,311.1 L20,311.9 L19.9,312.8 L19.8,313.6 L19.7,314.4 L19.7,315.2 L19.6,316 L19.6,316.9 L19.5,317.7 L19.5,318.5 L19.6,319.3 L19.7,320.2 L19.8,321 L20.1,321.8 L20.3,322.6 L20.6,323.5 L21,324.3 L21.3,325.1 L21.7,326 L22,326.8 L22.4,327.6 L22.7,328.5 L23,329.3 L23.3,330.1 L23.5,330.9 L23.7,331.8 L23.8,332.6 L23.9,333.5 L24,334.3 L24,335.2 L24.1,336 L24.2,336.9 L24.2,337.7 L24.3,338.6 L24.3,339.4 L24.3,340.3 L24.2,341.2 L24.1,342 L23.8,342.9 L23.5,343.8 L23.1,344.6 L22.7,345.5 L22.3,346.4 L21.8,347.3 L21.4,348.1 L21,349 L20.5,349.8 L20,350.7 L19.5,351.5 L19,352.4 L18.4,353.2 L17.8,354 L17.2,354.9 L16.6,355.7 L16,356.5 L15.3,357.4 L14.7,358.2 L14.1,359.1 L13.6,359.9 L13,360.7 L12.4,361.5 L11.7,362.3 L11,363.2 L10.3,364 L9.6,364.8 L9,365.6 L8.4,366.4 L7.9,367.2 L7.6,368.1 L7.3,368.9 L7.1,369.7 L7.1,370.6 L7,371.5 L7,372.4 L7,373.4 L6.9,374.3 L6.9,375.2 L6.9,376 L6.8,376.9 L6.8,377.7 L6.8,378.6 L6.8,379.4 L6.8,380.2 L6.7,381.1 L6.7,381.9 L6.7,382.8 L6.7,383.6 L6.7,384.4 L6.6,385.3 L6.6,386.1 L6.6,386.9 L6.5,387.8 L6.5,388.6 L6.5,389.5 L6.4,390.3 L6.4,391.1 L6.3,392 L6.1,392.8 L6,393.6 L5.8,394.5 L5.6,395.3 L5.4,396.1 L5.2,397 L5,397.8 L4.8,398.6 L4.5,399.5 L4.3,400.3 L4.1,401.1 L3.8,402 L3.6,402.8 L3.4,403.6 L3.3,404.5 L3.1,405.3 L3,406.1 L2.8,406.9 L2.7,407.8 L2.6,408.6 L2.5,409.4 L2.4,410.2 L2.3,411 L2.2,411.9 L2.1,412.7 L2,413.5 L1.9,414.3 L1.7,415.1 L1.6,415.9 L1.5,416.8 L1.3,417.6 L1.2,418.4 L0.9,419.3 L0.6,420.2 L0.4,421.1 L0.2,422 L0.2,422.8 L0.2,423.6 L0.2,424.4 L0.1,425.3 L0.1,426.1 L0.1,426.9 L0.1,427.7 L0.1,428.5 L0.1,429.3 L0.1,430.2 L0.1,431 L0.1,431.8 L0.1,432.6 L0,433.4 L0,434.2 L0,435.1 L0,435.9 L0,436.7 L0,437.5 L0,437.5 L-0,436.7 L-0,435.9 L-0,435.1 L-0,434.2 L-0,433.4 L-0.1,432.6 L-0.1,431.8 L-0.1,431 L-0.1,430.2 L-0.1,429.3 L-0.1,428.5 L-0.1,427.7 L-0.1,426.9 L-0.1,426.1 L-0.1,425.3 L-0.2,424.4 L-0.2,423.6 L-0.2,422.8 L-0.2,422 L-0.4,421.1 L-0.6,420.2 L-0.9,419.3 L-1.2,418.4 L-1.3,417.6 L-1.5,416.8 L-1.6,415.9 L-1.7,415.1 L-1.9,414.3 L-2,413.5 L-2.1,412.7 L-2.2,411.9 L-2.3,411 L-2.4,410.2 L-2.5,409.4 L-2.6,408.6 L-2.7,407.8 L-2.8,406.9 L-3,406.1 L-3.1,405.3 L-3.3,404.5 L-3.4,403.6 L-3.6,402.8 L-3.8,402 L-4.1,401.1 L-4.3,400.3 L-4.5,399.5 L-4.8,398.6 L-5,397.8 L-5.2,397 L-5.4,396.1 L-5.6,395.3 L-5.8,394.5 L-6,393.6 L-6.1,392.8 L-6.3,392 L-6.4,391.1 L-6.4,390.3 L-6.5,389.5 L-6.5,388.6 L-6.5,387.8 L-6.6,386.9 L-6.6,386.1 L-6.6,385.3 L-6.7,384.4 L-6.7,383.6 L-6.7,382.8 L-6.7,381.9 L-6.7,381.1 L-6.8,380.2 L-6.8,379.4 L-6.8,378.6 L-6.8,377.7 L-6.8,376.9 L-6.9,376 L-6.9,375.2 L-6.9,374.3 L-7,373.4 L-7,372.4 L-7,371.5 L-7.1,370.6 L-7.1,369.7 L-7.3,368.9 L-7.6,368.1 L-7.9,367.2 L-8.4,366.4 L-9,365.6 L-9.6,364.8 L-10.3,364 L-11,363.2 L-11.7,362.3 L-12.4,361.5 L-13,360.7 L-13.6,359.9 L-14.1,359.1 L-14.7,358.2 L-15.3,357.4 L-16,356.5 L-16.6,355.7 L-17.2,354.9 L-17.8,354 L-18.4,353.2 L-19,352.4 L-19.5,351.5 L-20,350.7 L-20.5,349.8 L-21,349 L-21.4,348.1 L-21.8,347.3 L-22.3,346.4 L-22.7,345.5 L-23.1,344.6 L-23.5,343.8 L-23.8,342.9 L-24.1,342 L-24.2,341.2 L-24.3,340.3 L-24.3,339.4 L-24.3,338.6 L-24.2,337.7 L-24.2,336.9 L-24.1,336 L-24,335.2 L-24,334.3 L-23.9,333.5 L-23.8,332.6 L-23.7,331.8 L-23.5,330.9 L-23.3,330.1 L-23,329.3 L-22.7,328.5 L-22.4,327.6 L-22,326.8 L-21.7,326 L-21.3,325.1 L-21,324.3 L-20.6,323.5 L-20.3,322.6 L-20.1,321.8 L-19.8,321 L-19.7,320.2 L-19.6,319.3 L-19.5,318.5 L-19.5,317.7 L-19.6,316.9 L-19.6,316 L-19.7,315.2 L-19.7,314.4 L-19.8,313.6 L-19.9,312.8 L-20,311.9 L-20.1,311.1 L-20.2,310.3 L-20.3,309.5 L-20.3,308.7 L-20.4,307.9 L-20.4,307 L-20.5,306.2 L-20.5,305.4 L-20.5,304.6 L-20.5,303.8 L-20.5,302.9 L-20.4,302.1 L-20.4,301.3 L-20.4,300.5 L-20.4,299.7 L-20.3,298.9 L-20.3,298 L-20.3,297.2 L-20.2,296.4 L-20.2,295.6 L-20.1,294.8 L-20.1,293.9 L-20.1,293.1 L-20,292.3 L-19.9,291.5 L-19.8,290.6 L-19.7,289.8 L-19.6,288.9 L-19.4,288.1 L-19.2,287.3 L-19,286.4 L-18.8,285.6 L-18.6,284.8 L-18.4,283.9 L-18.1,283.1 L-17.9,282.2 L-17.6,281.4 L-17.3,280.6 L-16.9,279.7 L-16.3,278.9 L-15.8,278 L-15.2,277.2 L-14.5,276.4 L-13.9,275.5 L-13.3,274.7 L-12.8,273.9 L-12.3,273 L-12,272.2 L-11.7,271.3 L-11.7,270.5 L-11.7,269.7 L-11.9,268.8 L-12.2,268 L-12.5,267.1 L-12.9,266.3 L-13.4,265.5 L-13.9,264.6 L-14.4,263.8 L-15,263 L-15.5,262.1 L-16,261.3 L-16.5,260.4 L-16.9,259.6 L-17.3,258.8 L-17.8,257.9 L-18.3,257.1 L-18.8,256.2 L-19.3,255.4 L-19.8,254.6 L-20.3,253.7 L-20.7,252.9 L-21.1,252.1 L-21.4,251.2 L-21.7,250.4 L-21.8,249.5 L-21.9,248.7 L-21.9,247.8 L-21.9,247 L-21.9,246.2 L-21.9,245.3 L-21.9,244.5 L-21.8,243.6 L-21.7,242.8 L-21.6,241.9 L-21.4,241.1 L-21.2,240.3 L-21,239.4 L-20.8,238.6 L-20.6,237.8 L-20.3,236.9 L-20.1,236.1 L-19.8,235.2 L-19.5,234.4 L-19.2,233.6 L-18.8,232.7 L-18.4,231.9 L-17.9,231 L-17.4,230.2 L-16.9,229.4 L-16.3,228.5 L-15.8,227.7 L-15.2,226.9 L-14.7,226 L-14.3,225.2 L-13.9,224.3 L-13.6,223.5 L-13.3,222.7 L-13,221.8 L-12.7,221 L-12.4,220.1 L-12.2,219.3 L-11.9,218.5 L-11.7,217.6 L-11.5,216.8 L-11.3,216 L-11.2,215.1 L-11,214.3 L-11,213.4 L-11,212.6 L-11,211.8 L-11,210.9 L-11.1,210.1 L-11.2,209.2 L-11.3,208.4 L-11.5,207.6 L-11.6,206.7 L-11.8,205.9 L-11.9,205.1 L-12,204.2 L-12.1,203.4 L-12.1,202.5 L-12.1,201.7 L-12.1,200.9 L-12.1,200 L-12,199.2 L-12,198.3 L-11.9,197.5 L-11.7,196.7 L-11.6,195.8 L-11.5,195 L-11.3,194.2 L-11.2,193.3 L-11,192.5 L-10.9,191.6 L-10.7,190.8 L-10.5,190 L-10.3,189.1 L-10.1,188.3 L-9.8,187.5 L-9.5,186.6 L-9.2,185.8 L-8.9,185 L-8.5,184.2 L-8.2,183.3 L-7.9,182.5 L-7.5,181.7 L-7.2,180.8 L-6.9,180 L-6.6,179.2 L-6.2,178.3 L-5.8,177.5 L-5.4,176.6 L-5,175.8 L-4.6,174.9 L-4.2,174.1 L-3.8,173.2 L-3.5,172.4 L-3.2,171.5 L-3,170.7 L-2.9,169.8 L-2.9,169 L-2.9,168.2 L-2.9,167.3 L-2.9,166.5 L-2.9,165.6 L-2.9,164.8 L-3,164 L-3,163.1 L-3.1,162.3 L-3.1,161.5 L-3.2,160.6 L-3.2,159.8 L-3.3,158.9 L-3.3,158.1 L-3.4,157.3 L-3.6,156.4 L-3.7,155.6 L-3.9,154.7 L-4.2,153.9 L-4.4,153.1 L-4.6,152.2 L-4.8,151.4 L-5,150.6 L-5.2,149.7 L-5.4,148.9 L-5.4,148 L-5.5,147.2 L-5.4,146.4 L-5.4,145.5 L-5.3,144.7 L-5.1,143.8 L-4.9,143 L-4.7,142.2 L-4.5,141.3 L-4.3,140.5 L-4.1,139.7 L-3.8,138.8 L-3.6,138 L-3.5,137.1 L-3.3,136.3 L-3.2,135.4 L-3.2,134.6 L-3.1,133.7 L-3.1,132.8 L-3,132 L-2.9,131.1 L-2.8,130.2 L-2.6,129.4 L-2.4,128.5 L-0,128.2 Z" fill="#56B1F7" stroke="#000" stroke-width="1.3" stroke-linejoin="round"/>
<line x1="0" y1="247.1" x2="0" y2="341.9" stroke="#000" stroke-width="1.9"/>
<line x1="-2.86" y1="247.1" x2="2.86" y2="247.1" stroke="#000" stroke-width="1"/>
<line x1="-2.86" y1="341.9" x2="2.86" y2="341.9" stroke="#000" stroke-width="1"/>
<rect x="-4.05" y="290.3" width="8.1" height="7.4" fill="#000"/>
</g>
<line x1="410.7" y1="37.7" x2="510.4" y2="37.7" stroke="#A6A6A6" stroke-width="1.1"/>
<path d="M420.7,25.4 L420.7,32.8 M418.78,27.25 L422.62,30.95 M418.78,30.95 L422.62,27.25" stroke="#111" stroke-width="1.05" fill="none"/>
<line x1="410.7" y1="51.4" x2="610.7" y2="51.4" stroke="#A6A6A6" stroke-width="1.1"/>
<path d="M420.5,41.6 L420.5,49 M418.58,43.45 L422.42,47.15 M418.58,47.15 L422.42,43.45" stroke="#111" stroke-width="1.05" fill="none"/>
<path d="M424.75,41.6 L424.75,49 M422.83,43.45 L426.67,47.15 M422.83,47.15 L426.67,43.45" stroke="#111" stroke-width="1.05" fill="none"/>
<text transform="translate(375.2,14.4) scale(1,1)" font-family='"Liberation Serif", serif' font-size="16" fill="#000" text-anchor="start">B</text>
<rect x="30.1" y="613" width="76.5" height="27.4" fill="#D9D9D9"/>
<rect x="30.1" y="640.4" width="76.5" height="497.6" fill="#EBEBEB"/>
<rect x="111.2" y="613" width="76.4" height="27.4" fill="#D9D9D9"/>
<rect x="111.2" y="640.4" width="76.4" height="497.6" fill="#EBEBEB"/>
<rect x="192.1" y="613" width="76.5" height="27.4" fill="#D9D9D9"/>
<rect x="192.1" y="640.4" width="76.5" height="497.6" fill="#EBEBEB"/>
<line x1="30.1" y1="1071.12" x2="106.6" y2="1071.12" stroke="#fff" stroke-width="0.9" opacity="0.85"/>
<line x1="30.1" y1="938.08" x2="106.6" y2="938.08" stroke="#fff" stroke-width="0.9" opacity="0.85"/>
<line x1="30.1" y1="805.03" x2="106.6" y2="805.03" stroke="#fff" stroke-width="0.9" opacity="0.85"/>
<line x1="30.1" y1="671.98" x2="106.6" y2="671.98" stroke="#fff" stroke-width="0.9" opacity="0.85"/>
<line x1="30.1" y1="1137.65" x2="106.6" y2="1137.65" stroke="#fff" stroke-width="1.7"/>
<line x1="30.1" y1="1004.6" x2="106.6" y2="1004.6" stroke="#fff" stroke-width="1.7"/>
<line x1="30.1" y1="871.55" x2="106.6" y2="871.55" stroke="#fff" stroke-width="1.7"/>
<line x1="30.1" y1="738.5" x2="106.6" y2="738.5" stroke="#fff" stroke-width="1.7"/>
<line x1="32.38" y1="640.4" x2="32.38" y2="1138" stroke="#fff" stroke-width="1" opacity="0.6"/>
<line x1="44.37" y1="640.4" x2="44.37" y2="1138" stroke="#fff" stroke-width="1" opacity="0.6"/>
<line x1="56.36" y1="640.4" x2="56.36" y2="1138" stroke="#fff" stroke-width="1" opacity="0.6"/>
<line x1="68.35" y1="640.4" x2="68.35" y2="1138" stroke="#fff" stroke-width="1" opacity="0.6"/>
<line x1="80.34" y1="640.4" x2="80.34" y2="1138" stroke="#fff" stroke-width="1" opacity="0.6"/>
<line x1="92.33" y1="640.4" x2="92.33" y2="1138" stroke="#fff" stroke-width="1" opacity="0.6"/>
<line x1="104.32" y1="640.4" x2="104.32" y2="1138" stroke="#fff" stroke-width="1" opacity="0.6"/>
<line x1="111.2" y1="1071.12" x2="187.6" y2="1071.12" stroke="#fff" stroke-width="0.9" opacity="0.85"/>
<line x1="111.2" y1="938.08" x2="187.6" y2="938.08" stroke="#fff" stroke-width="0.9" opacity="0.85"/>
<line x1="111.2" y1="805.03" x2="187.6" y2="805.03" stroke="#fff" stroke-width="0.9" opacity="0.85"/>
<line x1="111.2" y1="671.98" x2="187.6" y2="671.98" stroke="#fff" stroke-width="0.9" opacity="0.85"/>
<line x1="111.2" y1="1137.65" x2="187.6" y2="1137.65" stroke="#fff" stroke-width="1.7"/>
<line x1="111.2" y1="1004.6" x2="187.6" y2="1004.6" stroke="#fff" stroke-width="1.7"/>
<line x1="111.2" y1="871.55" x2="187.6" y2="871.55" stroke="#fff" stroke-width="1.7"/>
<line x1="111.2" y1="738.5" x2="187.6" y2="738.5" stroke="#fff" stroke-width="1.7"/>
<line x1="113.48" y1="640.4" x2="113.48" y2="1138" stroke="#fff" stroke-width="1" opacity="0.6"/>
<line x1="125.45" y1="640.4" x2="125.45" y2="1138" stroke="#fff" stroke-width="1" opacity="0.6"/>
<line x1="137.43" y1="640.4" x2="137.43" y2="1138" stroke="#fff" stroke-width="1" opacity="0.6"/>
<line x1="149.4" y1="640.4" x2="149.4" y2="1138" stroke="#fff" stroke-width="1" opacity="0.6"/>
<line x1="161.37" y1="640.4" x2="161.37" y2="1138" stroke="#fff" stroke-width="1" opacity="0.6"/>
<line x1="173.35" y1="640.4" x2="173.35" y2="1138" stroke="#fff" stroke-width="1" opacity="0.6"/>
<line x1="185.32" y1="640.4" x2="185.32" y2="1138" stroke="#fff" stroke-width="1" opacity="0.6"/>
<line x1="192.1" y1="1071.12" x2="268.6" y2="1071.12" stroke="#fff" stroke-width="0.9" opacity="0.85"/>
<line x1="192.1" y1="938.08" x2="268.6" y2="938.08" stroke="#fff" stroke-width="0.9" opacity="0.85"/>
<line x1="192.1" y1="805.03" x2="268.6" y2="805.03" stroke="#fff" stroke-width="0.9" opacity="0.85"/>
<line x1="192.1" y1="671.98" x2="268.6" y2="671.98" stroke="#fff" stroke-width="0.9" opacity="0.85"/>
<line x1="192.1" y1="1137.65" x2="268.6" y2="1137.65" stroke="#fff" stroke-width="1.7"/>
<line x1="192.1" y1="1004.6" x2="268.6" y2="1004.6" stroke="#fff" stroke-width="1.7"/>
<line x1="192.1" y1="871.55" x2="268.6" y2="871.55" stroke="#fff" stroke-width="1.7"/>
<line x1="192.1" y1="738.5" x2="268.6" y2="738.5" stroke="#fff" stroke-width="1.7"/>
<line x1="194.38" y1="640.4" x2="194.38" y2="1138" stroke="#fff" stroke-width="1" opacity="0.6"/>
<line x1="206.37" y1="640.4" x2="206.37" y2="1138" stroke="#fff" stroke-width="1" opacity="0.6"/>
<line x1="218.36" y1="640.4" x2="218.36" y2="1138" stroke="#fff" stroke-width="1" opacity="0.6"/>
<line x1="230.35" y1="640.4" x2="230.35" y2="1138" stroke="#fff" stroke-width="1" opacity="0.6"/>
<line x1="242.34" y1="640.4" x2="242.34" y2="1138" stroke="#fff" stroke-width="1" opacity="0.6"/>
<line x1="254.33" y1="640.4" x2="254.33" y2="1138" stroke="#fff" stroke-width="1" opacity="0.6"/>
<line x1="266.32" y1="640.4" x2="266.32" y2="1138" stroke="#fff" stroke-width="1" opacity="0.6"/>
<text transform="translate(68.35,634.57) scale(0.44,1)" font-family='"Liberation Sans", sans-serif' font-size="14.2" fill="#1A1A1A" text-anchor="middle" stroke="#1A1A1A" stroke-width="0.5" stroke-linejoin="round">1</text>
<text transform="translate(149.4,634.57) scale(0.44,1)" font-family='"Liberation Sans", sans-serif' font-size="14.2" fill="#1A1A1A" text-anchor="middle" stroke="#1A1A1A" stroke-width="0.5" stroke-linejoin="round">2</text>
<text transform="translate(230.35,634.57) scale(0.44,1)" font-family='"Liberation Sans", sans-serif' font-size="14.2" fill="#1A1A1A" text-anchor="middle" stroke="#1A1A1A" stroke-width="0.5" stroke-linejoin="round">3</text>
<line x1="27.9" y1="1137.65" x2="30.1" y2="1137.65" stroke="#333333" stroke-width="1.1"/>
<text transform="translate(26.9,1144.02) scale(0.44,1)" font-family='"Liberation Sans", sans-serif' font-size="14.2" fill="#4D4D4D" text-anchor="end" stroke="#4D4D4D" stroke-width="0.5" stroke-linejoin="round">0</text>
<line x1="27.9" y1="1004.6" x2="30.1" y2="1004.6" stroke="#333333" stroke-width="1.1"/>
<text transform="translate(26.9,1010.97) scale(0.44,1)" font-family='"Liberation Sans", sans-serif' font-size="14.2" fill="#4D4D4D" text-anchor="end" stroke="#4D4D4D" stroke-width="0.5" stroke-linejoin="round">250</text>
<line x1="27.9" y1="871.55" x2="30.1" y2="871.55" stroke="#333333" stroke-width="1.1"/>
<text transform="translate(26.9,877.92) scale(0.44,1)" font-family='"Liberation Sans", sans-serif' font-size="14.2" fill="#4D4D4D" text-anchor="end" stroke="#4D4D4D" stroke-width="0.5" stroke-linejoin="round">500</text>
<line x1="27.9" y1="738.5" x2="30.1" y2="738.5" stroke="#333333" stroke-width="1.1"/>
<text transform="translate(26.9,744.87) scale(0.44,1)" font-family='"Liberation Sans", sans-serif' font-size="14.2" fill="#4D4D4D" text-anchor="end" stroke="#4D4D4D" stroke-width="0.5" stroke-linejoin="round">750</text>
<line x1="44.37" y1="1138" x2="44.37" y2="1142" stroke="#333333" stroke-width="1.1"/>
<text transform="translate(44.37,1160.97) scale(0.44,1)" font-family='"Liberation Sans", sans-serif' font-size="14.2" fill="#4D4D4D" text-anchor="middle" stroke="#4D4D4D" stroke-width="0.5" stroke-linejoin="round">1</text>
<line x1="68.35" y1="1138" x2="68.35" y2="1142" stroke="#333333" stroke-width="1.1"/>
<text transform="translate(68.35,1160.97) scale(0.44,1)" font-family='"Liberation Sans", sans-serif' font-size="14.2" fill="#4D4D4D" text-anchor="middle" stroke="#4D4D4D" stroke-width="0.5" stroke-linejoin="round">2</text>
<line x1="92.33" y1="1138" x2="92.33" y2="1142" stroke="#333333" stroke-width="1.1"/>
<text transform="translate(92.33,1160.97) scale(0.44,1)" font-family='"Liberation Sans", sans-serif' font-size="14.2" fill="#4D4D4D" text-anchor="middle" stroke="#4D4D4D" stroke-width="0.5" stroke-linejoin="round">3</text>
<line x1="125.45" y1="1138" x2="125.45" y2="1142" stroke="#333333" stroke-width="1.1"/>
<text transform="translate(125.45,1160.97) scale(0.44,1)" font-family='"Liberation Sans", sans-serif' font-size="14.2" fill="#4D4D4D" text-anchor="middle" stroke="#4D4D4D" stroke-width="0.5" stroke-linejoin="round">1</text>
<line x1="149.4" y1="1138" x2="149.4" y2="1142" stroke="#333333" stroke-width="1.1"/>
<text transform="translate(149.4,1160.97) scale(0.44,1)" font-family='"Liberation Sans", sans-serif' font-size="14.2" fill="#4D4D4D" text-anchor="middle" stroke="#4D4D4D" stroke-width="0.5" stroke-linejoin="round">2</text>
<line x1="173.35" y1="1138" x2="173.35" y2="1142" stroke="#333333" stroke-width="1.1"/>
<text transform="translate(173.35,1160.97) scale(0.44,1)" font-family='"Liberation Sans", sans-serif' font-size="14.2" fill="#4D4D4D" text-anchor="middle" stroke="#4D4D4D" stroke-width="0.5" stroke-linejoin="round">3</text>
<line x1="206.37" y1="1138" x2="206.37" y2="1142" stroke="#333333" stroke-width="1.1"/>
<text transform="translate(206.37,1160.97) scale(0.44,1)" font-family='"Liberation Sans", sans-serif' font-size="14.2" fill="#4D4D4D" text-anchor="middle" stroke="#4D4D4D" stroke-width="0.5" stroke-linejoin="round">1</text>
<line x1="230.35" y1="1138" x2="230.35" y2="1142" stroke="#333333" stroke-width="1.1"/>
<text transform="translate(230.35,1160.97) scale(0.44,1)" font-family='"Liberation Sans", sans-serif' font-size="14.2" fill="#4D4D4D" text-anchor="middle" stroke="#4D4D4D" stroke-width="0.5" stroke-linejoin="round">2</text>
<line x1="254.33" y1="1138" x2="254.33" y2="1142" stroke="#333333" stroke-width="1.1"/>
<text transform="translate(254.33,1160.97) scale(0.44,1)" font-family='"Liberation Sans", sans-serif' font-size="14.2" fill="#4D4D4D" text-anchor="middle" stroke="#4D4D4D" stroke-width="0.5" stroke-linejoin="round">3</text>
<text transform="translate(149.5,1181) scale(0.44,1)" font-family='"Liberation Sans", sans-serif' font-size="17.7" fill="#000" text-anchor="middle" stroke="#000" stroke-width="0.5" stroke-linejoin="round">The studied groups</text>
<text transform="translate(13,886.7) scale(0.44,1) rotate(-90)" font-family='"Liberation Sans", sans-serif' font-size="17.7" fill="#000" text-anchor="middle" stroke="#000" stroke-width="0.2" stroke-linejoin="round">Triglycerides concentrations (mg/dl)</text>
<defs><linearGradient id="gC" x1="0" y1="0" x2="0" y2="1"><stop offset="0" stop-color="#56B1F7"/><stop offset="0.25" stop-color="#448DC6"/><stop offset="0.5" stop-color="#336A98"/><stop offset="0.75" stop-color="#22496C"/><stop offset="1" stop-color="#132B43"/></linearGradient></defs>
<rect x="281.2" y="834.6" width="11.6" height="139" fill="url(#gC)"/>
<text transform="translate(297.6,842.07) scale(0.44,1)" font-family='"Liberation Sans", sans-serif' font-size="14.2" fill="#1A1A1A" text-anchor="start" stroke="#1A1A1A" stroke-width="0.5" stroke-linejoin="round">3.0</text>
<line x1="281.2" y1="869.35" x2="283.2" y2="869.35" stroke="#fff" stroke-width="0.8"/>
<line x1="290.8" y1="869.35" x2="292.8" y2="869.35" stroke="#fff" stroke-width="0.8"/>
<text transform="translate(297.6,876.82) scale(0.44,1)" font-family='"Liberation Sans", sans-serif' font-size="14.2" fill="#1A1A1A" text-anchor="start" stroke="#1A1A1A" stroke-width="0.5" stroke-linejoin="round">2.5</text>
<line x1="281.2" y1="904.1" x2="283.2" y2="904.1" stroke="#fff" stroke-width="0.8"/>
<line x1="290.8" y1="904.1" x2="292.8" y2="904.1" stroke="#fff" stroke-width="0.8"/>
<text transform="translate(297.6,911.57) scale(0.44,1)" font-family='"Liberation Sans", sans-serif' font-size="14.2" fill="#1A1A1A" text-anchor="start" stroke="#1A1A1A" stroke-width="0.5" stroke-linejoin="round">2.0</text>
<line x1="281.2" y1="938.85" x2="283.2" y2="938.85" stroke="#fff" stroke-width="0.8"/>
<line x1="290.8" y1="938.85" x2="292.8" y2="938.85" stroke="#fff" stroke-width="0.8"/>
<text transform="translate(297.6,946.32) scale(0.44,1)" font-family='"Liberation Sans", sans-serif' font-size="14.2" fill="#1A1A1A" text-anchor="start" stroke="#1A1A1A" stroke-width="0.5" stroke-linejoin="round">1.5</text>
<text transform="translate(297.6,981.07) scale(0.44,1)" font-family='"Liberation Sans", sans-serif' font-size="14.2" fill="#1A1A1A" text-anchor="start" stroke="#1A1A1A" stroke-width="0.5" stroke-linejoin="round">1.0</text>
<text transform="translate(280.8,823.6) scale(0.44,1)" font-family='"Liberation Sans", sans-serif' font-size="17.7" fill="#000" text-anchor="start" stroke="#000" stroke-width="0.5" stroke-linejoin="round">HDL_groups</text>
<line x1="44.5" y1="917.2" x2="44.5" y2="1116.4" stroke="#5f5f5f" stroke-width="1.1"/>
<g transform="translate(44.5,0) scale(0.44,1)">
<path d="M0,917.2 L1,918.1 L1.6,919 L1.6,919.9 L1.6,920.7 L1.5,921.6 L1.5,922.4 L1.5,923.3 L1.4,924.1 L1.4,925 L1.3,925.8 L1.1,926.7 L0.8,927.5 L0.6,928.3 L0.4,929.2 L0.3,930 L0.3,930.8 L0.3,931.6 L0.3,932.4 L0.3,933.3 L0.3,934.1 L0.3,934.9 L0.3,935.7 L0.3,936.5 L0.3,937.3 L0.3,938.1 L0.3,939 L0.3,939.8 L0.3,940.6 L0.3,941.4 L0.3,942.2 L0.3,943 L0.3,943.8 L0.3,944.7 L0.3,945.5 L0.3,946.3 L0.3,947.1 L0.3,947.9 L0.3,948.7 L0.3,949.5 L0.3,950.3 L0.3,951.2 L0.3,952 L0.3,952.8 L0.3,953.6 L0.3,954.4 L0.3,955.2 L0.3,956 L0.3,956.9 L0.3,957.7 L0.3,958.5 L0.3,959.3 L0.3,960.1 L0.3,960.9 L0.3,961.7 L0.3,962.6 L0.3,963.4 L0.3,964.2 L0.3,965 L0.4,965.8 L0.5,966.6 L0.7,967.4 L1,968.3 L1.2,969.1 L1.3,969.9 L1.4,970.7 L1.3,971.6 L1.1,972.5 L0.9,973.4 L0.6,974.2 L0.4,975.1 L0.3,976 L0.3,976.8 L0.3,977.6 L0.3,978.4 L0.3,979.2 L0.3,980 L0.3,980.8 L0.3,981.7 L0.3,982.5 L0.3,983.3 L0.3,984.1 L0.3,984.9 L0.3,985.7 L0.3,986.5 L0.3,987.3 L0.3,988.1 L0.3,988.9 L0.3,989.7 L0.3,990.5 L0.3,991.3 L0.3,992.2 L0.3,993 L0.3,993.8 L0.3,994.6 L0.3,995.4 L0.3,996.2 L0.3,997 L0.6,997.9 L1.1,998.7 L1.6,999.5 L2.2,1000.4 L2.7,1001.2 L3.3,1002.1 L3.9,1002.9 L4.5,1003.8 L5,1004.6 L5.4,1005.5 L5.7,1006.3 L5.9,1007.1 L6.1,1007.9 L6.3,1008.8 L6.5,1009.6 L6.6,1010.4 L6.7,1011.2 L6.8,1012.1 L6.8,1012.9 L6.7,1013.7 L6.5,1014.6 L6.1,1015.4 L5.7,1016.3 L5.2,1017.1 L4.8,1018 L4.4,1018.8 L4.2,1019.7 L4.1,1020.5 L4.2,1021.3 L4.5,1022.1 L4.9,1023 L5.4,1023.8 L6.1,1024.6 L6.7,1025.4 L7.4,1026.2 L8,1027 L8.5,1027.8 L8.9,1028.7 L9.2,1029.5 L9.3,1030.3 L9.2,1031.2 L9,1032 L8.7,1032.9 L8.3,1033.7 L7.9,1034.6 L7.5,1035.4 L7.1,1036.3 L6.9,1037.1 L6.8,1038 L6.9,1038.9 L7.2,1039.7 L7.6,1040.6 L8.2,1041.5 L8.8,1042.3 L9.5,1043.2 L10.1,1044.1 L10.8,1045 L11.3,1045.8 L11.8,1046.7 L12.3,1047.6 L12.7,1048.4 L13.2,1049.3 L13.7,1050.2 L14.2,1051.1 L14.6,1051.9 L14.9,1052.8 L15.2,1053.7 L15.4,1054.5 L15.5,1055.4 L15.3,1056.2 L15.1,1057 L14.7,1057.8 L14.2,1058.7 L13.7,1059.5 L13.3,1060.3 L13.1,1061.1 L13,1061.9 L13,1062.8 L13.2,1063.6 L13.5,1064.5 L13.9,1065.3 L14.3,1066.2 L14.7,1067 L15.2,1067.9 L15.7,1068.7 L16.1,1069.6 L16.6,1070.4 L17.1,1071.3 L17.7,1072.1 L18.3,1073 L18.9,1073.8 L19.5,1074.7 L20.1,1075.5 L20.7,1076.4 L21.1,1077.2 L21.6,1078 L22.1,1078.9 L22.6,1079.7 L23.1,1080.6 L23.6,1081.4 L24,1082.3 L24.3,1083.1 L24.5,1084 L24.5,1084.8 L24.5,1085.7 L24.4,1086.6 L24.3,1087.5 L24.1,1088.5 L23.9,1089.4 L23.6,1090.3 L23.3,1091.2 L22.9,1092.1 L22.3,1093 L21.7,1093.9 L21.1,1094.8 L20.5,1095.7 L19.9,1096.5 L19.2,1097.3 L18.6,1098.2 L17.9,1099 L17.1,1099.8 L16.4,1100.7 L15.6,1101.5 L14.8,1102.3 L13.8,1103.2 L12.8,1104.1 L11.7,1105 L10.6,1105.9 L9.6,1106.8 L8.6,1107.7 L7.8,1108.6 L6.9,1109.5 L6.1,1110.5 L5.4,1111.4 L4.5,1112.3 L3.6,1113.2 L2.8,1114 L1.9,1114.8 L0.9,1115.6 L0,1116.4 L0,1116.4 L-0.9,1115.6 L-1.9,1114.8 L-2.8,1114 L-3.6,1113.2 L-4.5,1112.3 L-5.4,1111.4 L-6.1,1110.5 L-6.9,1109.5 L-7.8,1108.6 L-8.6,1107.7 L-9.6,1106.8 L-10.6,1105.9 L-11.7,1105 L-12.8,1104.1 L-13.8,1103.2 L-14.8,1102.3 L-15.6,1101.5 L-16.4,1100.7 L-17.1,1099.8 L-17.9,1099 L-18.6,1098.2 L-19.2,1097.3 L-19.9,1096.5 L-20.5,1095.7 L-21.1,1094.8 L-21.7,1093.9 L-22.3,1093 L-22.9,1092.1 L-23.3,1091.2 L-23.6,1090.3 L-23.9,1089.4 L-24.1,1088.5 L-24.3,1087.5 L-24.4,1086.6 L-24.5,1085.7 L-24.5,1084.8 L-24.5,1084 L-24.3,1083.1 L-24,1082.3 L-23.6,1081.4 L-23.1,1080.6 L-22.6,1079.7 L-22.1,1078.9 L-21.6,1078 L-21.1,1077.2 L-20.7,1076.4 L-20.1,1075.5 L-19.5,1074.7 L-18.9,1073.8 L-18.3,1073 L-17.7,1072.1 L-17.1,1071.3 L-16.6,1070.4 L-16.1,1069.6 L-15.7,1068.7 L-15.2,1067.9 L-14.7,1067 L-14.3,1066.2 L-13.9,1065.3 L-13.5,1064.5 L-13.2,1063.6 L-13,1062.8 L-13,1061.9 L-13.1,1061.1 L-13.3,1060.3 L-13.7,1059.5 L-14.2,1058.7 L-14.7,1057.8 L-15.1,1057 L-15.3,1056.2 L-15.5,1055.4 L-15.4,1054.5 L-15.2,1053.7 L-14.9,1052.8 L-14.6,1051.9 L-14.2,1051.1 L-13.7,1050.2 L-13.2,1049.3 L-12.7,1048.4 L-12.3,1047.6 L-11.8,1046.7 L-11.3,1045.8 L-10.8,1045 L-10.1,1044.1 L-9.5,1043.2 L-8.8,1042.3 L-8.2,1041.5 L-7.6,1040.6 L-7.2,1039.7 L-6.9,1038.9 L-6.8,1038 L-6.9,1037.1 L-7.1,1036.3 L-7.5,1035.4 L-7.9,1034.6 L-8.3,1033.7 L-8.7,1032.9 L-9,1032 L-9.2,1031.2 L-9.3,1030.3 L-9.2,1029.5 L-8.9,1028.7 L-8.5,1027.8 L-8,1027 L-7.4,1026.2 L-6.7,1025.4 L-6.1,1024.6 L-5.4,1023.8 L-4.9,1023 L-4.5,1022.1 L-4.2,1021.3 L-4.1,1020.5 L-4.2,1019.7 L-4.4,1018.8 L-4.8,1018 L-5.2,1017.1 L-5.7,1016.3 L-6.1,1015.4 L-6.5,1014.6 L-6.7,1013.7 L-6.8,1012.9 L-6.8,1012.1 L-6.7,1011.2 L-6.6,1010.4 L-6.5,1009.6 L-6.3,1008.8 L-6.1,1007.9 L-5.9,1007.1 L-5.7,1006.3 L-5.4,1005.5 L-5,1004.6 L-4.5,1003.8 L-3.9,1002.9 L-3.3,1002.1 L-2.7,1001.2 L-2.2,1000.4 L-1.6,999.5 L-1.1,998.7 L-0.6,997.9 L-0.3,997 L-0.3,996.2 L-0.3,995.4 L-0.3,994.6 L-0.3,993.8 L-0.3,993 L-0.3,992.2 L-0.3,991.3 L-0.3,990.5 L-0.3,989.7 L-0.3,988.9 L-0.3,988.1 L-0.3,987.3 L-0.3,986.5 L-0.3,985.7 L-0.3,984.9 L-0.3,984.1 L-0.3,983.3 L-0.3,982.5 L-0.3,981.7 L-0.3,980.8 L-0.3,980 L-0.3,979.2 L-0.3,978.4 L-0.3,977.6 L-0.3,976.8 L-0.3,976 L-0.4,975.1 L-0.6,974.2 L-0.9,973.4 L-1.1,972.5 L-1.3,971.6 L-1.4,970.7 L-1.3,969.9 L-1.2,969.1 L-1,968.3 L-0.7,967.4 L-0.5,966.6 L-0.4,965.8 L-0.3,965 L-0.3,964.2 L-0.3,963.4 L-0.3,962.6 L-0.3,961.7 L-0.3,960.9 L-0.3,960.1 L-0.3,959.3 L-0.3,958.5 L-0.3,957.7 L-0.3,956.9 L-0.3,956 L-0.3,955.2 L-0.3,954.4 L-0.3,953.6 L-0.3,952.8 L-0.3,952 L-0.3,951.2 L-0.3,950.3 L-0.3,949.5 L-0.3,948.7 L-0.3,947.9 L-0.3,947.1 L-0.3,946.3 L-0.3,945.5 L-0.3,944.7 L-0.3,943.8 L-0.3,943 L-0.3,942.2 L-0.3,941.4 L-0.3,940.6 L-0.3,939.8 L-0.3,939 L-0.3,938.1 L-0.3,937.3 L-0.3,936.5 L-0.3,935.7 L-0.3,934.9 L-0.3,934.1 L-0.3,933.3 L-0.3,932.4 L-0.3,931.6 L-0.3,930.8 L-0.3,930 L-0.4,929.2 L-0.6,928.3 L-0.8,927.5 L-1.1,926.7 L-1.3,925.8 L-1.4,925 L-1.4,924.1 L-1.5,923.3 L-1.5,922.4 L-1.5,921.6 L-1.6,920.7 L-1.6,919.9 L-1.6,919 L-1,918.1 L-0,917.2 Z" fill="#132B43" stroke="#000" stroke-width="1.3" stroke-linejoin="round"/>
<line x1="0" y1="1049.4" x2="0" y2="1090.8" stroke="#000" stroke-width="1.9"/>
<line x1="-2.73" y1="1049.4" x2="2.73" y2="1049.4" stroke="#000" stroke-width="1"/>
<line x1="-2.73" y1="1090.8" x2="2.73" y2="1090.8" stroke="#000" stroke-width="1"/>
<rect x="-3.86" y="1068.6" width="7.73" height="7.4" fill="#000"/>
</g>
<line x1="149.5" y1="712.6" x2="149.5" y2="1116.4" stroke="#5f5f5f" stroke-width="1.1"/>
<g transform="translate(149.5,0) scale(0.44,1)">
<path d="M0,712.6 L0,713.4 L0,714.2 L0,715 L0,715.8 L0,716.6 L0,717.4 L0,718.2 L0,719 L0,719.8 L0,720.6 L0,721.4 L0,722.3 L0,723.1 L0,723.9 L0,724.7 L0,725.5 L0,726.3 L0,727.1 L0,727.9 L0,728.7 L0,729.5 L0,730.3 L0,731.1 L0,731.9 L0,732.7 L0,733.5 L0,734.3 L0,735.1 L0,735.9 L0,736.7 L0,737.5 L0,738.3 L0,739.1 L0,739.9 L0,740.7 L0,741.6 L0,742.4 L0,743.2 L0,744 L0,744.8 L0,745.6 L0,746.4 L0,747.2 L0,748 L0,748.8 L0,749.6 L0,750.4 L0,751.2 L0,752 L0,752.8 L0,753.6 L0,754.4 L0,755.2 L0,756 L0,756.8 L0,757.6 L0,758.4 L0,759.2 L0,760.1 L0,760.9 L0,761.7 L0,762.5 L0,763.3 L0,764.1 L0,764.9 L0,765.7 L0,766.5 L0,767.3 L0,768.1 L0,768.9 L0,769.7 L0,770.5 L0,771.3 L0,772.1 L0,772.9 L0,773.7 L0.1,774.5 L0.1,775.3 L0.1,776.1 L0.1,776.9 L0.1,777.7 L0.1,778.6 L0.1,779.4 L0.1,780.2 L0.1,781 L0.1,781.8 L0.1,782.6 L0.1,783.4 L0.1,784.2 L0.1,785 L0.1,785.8 L0.1,786.6 L0.1,787.4 L0.1,788.2 L0.1,789 L0.1,789.8 L0.1,790.6 L0.1,791.4 L0.1,792.2 L0.1,793 L0.1,793.8 L0.1,794.6 L0.1,795.4 L0.1,796.2 L0.1,797 L0.1,797.9 L0.1,798.7 L0.1,799.5 L0.1,800.3 L0.1,801.1 L0.1,801.9 L0.1,802.7 L0.1,803.5 L0.1,804.3 L0.1,805.1 L0.1,805.9 L0.1,806.7 L0.1,807.5 L0.1,808.3 L0.1,809.1 L0.1,809.9 L0.1,810.7 L0.1,811.5 L0.1,812.3 L0.1,813.1 L0.1,813.9 L0.1,814.7 L0.1,815.5 L0.1,816.4 L0.1,817.2 L0.1,818 L0.1,818.8 L0.1,819.6 L0.1,820.4 L0.1,821.2 L0.1,822 L0.1,822.8 L0.1,823.6 L0.1,824.4 L0.1,825.2 L0.1,826 L0.1,826.8 L0.1,827.6 L0.1,828.4 L0.1,829.2 L0.1,830 L0.1,830.8 L0.1,831.6 L0.1,832.4 L0.1,833.2 L0.1,834 L0.1,834.9 L0.1,835.7 L0.1,836.5 L0.1,837.3 L0.1,838.1 L0.1,838.9 L0.1,839.7 L0.1,840.5 L0.1,841.3 L0.2,842.1 L0.2,842.9 L0.2,843.7 L0.2,844.5 L0.2,845.3 L0.2,846.1 L0.2,846.9 L0.2,847.7 L0.2,848.5 L0.2,849.3 L0.2,850.1 L0.2,850.9 L0.2,851.7 L0.2,852.5 L0.2,853.3 L0.2,854.2 L0.2,855 L0.2,855.8 L0.2,856.6 L0.2,857.4 L0.2,858.2 L0.2,859 L0.2,859.8 L0.2,860.6 L0.2,861.4 L0.2,862.2 L0.2,863 L0.5,864 L0.9,865 L1.1,866 L1.1,866.8 L1.1,867.6 L1.1,868.4 L1.1,869.2 L1.1,870 L1.1,870.8 L1.1,871.7 L1.1,872.5 L1.1,873.3 L1.1,874.1 L1.1,874.9 L1.1,875.7 L1.1,876.5 L1.1,877.3 L1.1,878.1 L1.1,878.9 L1.1,879.7 L1.1,880.5 L1.1,881.3 L1.1,882.2 L1.1,883 L1.1,883.8 L1.1,884.6 L1.1,885.4 L1.1,886.2 L1.1,887 L0.9,888 L0.5,889 L0.2,890 L0.2,890.8 L0.2,891.6 L0.2,892.4 L0.2,893.2 L0.2,894 L0.2,894.8 L0.2,895.6 L0.2,896.4 L0.2,897.2 L0.2,898 L0.2,898.8 L0.2,899.6 L0.3,900.4 L0.3,901.2 L0.3,902 L0.3,902.8 L0.3,903.6 L0.3,904.4 L0.3,905.2 L0.3,906 L0.3,906.8 L0.3,907.6 L0.3,908.4 L0.3,909.2 L0.3,910 L0.4,910.8 L0.6,911.7 L0.7,912.5 L0.9,913.3 L1.1,914.2 L1.1,915 L1.1,915.8 L1.1,916.6 L1.1,917.4 L1.1,918.2 L1.1,919.1 L1.1,919.9 L1.1,920.7 L1.1,921.5 L1.1,922.3 L1.1,923.1 L1.1,923.9 L1.1,924.7 L1.1,925.5 L1.1,926.4 L1.1,927.2 L1.1,928 L1.1,928.8 L1.1,929.6 L1.1,930.4 L1.1,931.2 L1.1,932 L1.1,932.8 L1.1,933.6 L1.1,934.5 L1.1,935.3 L1.1,936.1 L1.1,936.9 L1.1,937.7 L1.1,938.5 L1.1,939.3 L1.1,940.1 L1.1,940.9 L1.1,941.8 L1.1,942.6 L1.1,943.4 L1.1,944.2 L1.1,945 L1.2,945.8 L1.3,946.7 L1.4,947.5 L1.5,948.3 L1.6,949.2 L1.6,950 L1.6,950.8 L1.6,951.7 L1.6,952.5 L1.6,953.4 L1.6,954.2 L1.6,955 L1.6,955.9 L1.6,956.7 L1.6,957.5 L1.5,958.4 L1.4,959.2 L1.2,960 L1.1,960.9 L0.9,961.7 L0.8,962.5 L0.7,963.3 L0.6,964.2 L0.6,965 L0.6,965.8 L0.6,966.6 L0.6,967.4 L0.6,968.2 L0.7,969.1 L0.7,969.9 L0.8,970.7 L0.8,971.5 L0.9,972.3 L0.9,973.1 L1,973.9 L1.1,974.8 L1.1,975.6 L1.2,976.4 L1.3,977.2 L1.4,978 L1.4,978.8 L1.5,979.6 L1.6,980.4 L1.7,981.2 L1.8,982 L2,982.8 L2.1,983.6 L2.2,984.4 L2.4,985.2 L2.5,986 L2.6,986.8 L2.8,987.6 L2.9,988.4 L3,989.2 L3.2,990 L3.3,990.8 L3.4,991.6 L3.6,992.4 L3.7,993.2 L3.9,994.1 L4,994.9 L4.2,995.7 L4.3,996.5 L4.5,997.4 L4.8,998.3 L5.1,999.1 L5.4,1000 L5.7,1000.9 L6,1001.8 L6.2,1002.7 L6.4,1003.5 L6.5,1004.4 L6.6,1005.3 L6.5,1006.2 L6.4,1007 L6.1,1007.9 L5.8,1008.8 L5.5,1009.6 L5.1,1010.5 L4.8,1011.4 L4.6,1012.3 L4.4,1013.1 L4.3,1014 L4.4,1014.8 L4.4,1015.6 L4.6,1016.4 L4.8,1017.2 L5,1018 L5.3,1018.8 L5.6,1019.6 L5.8,1020.4 L6.2,1021.2 L6.5,1022 L6.8,1022.8 L7,1023.6 L7.3,1024.4 L7.5,1025.2 L7.7,1026 L7.9,1026.8 L8.1,1027.7 L8.3,1028.5 L8.5,1029.4 L8.7,1030.2 L8.9,1031.1 L9,1031.9 L9.1,1032.8 L9.1,1033.6 L8.9,1034.5 L8.5,1035.4 L8,1036.3 L7.4,1037.2 L7,1038.1 L6.8,1039 L7,1039.9 L7.5,1040.8 L8.2,1041.6 L9,1042.5 L10,1043.4 L10.9,1044.3 L11.9,1045.2 L12.7,1046 L13.3,1046.9 L13.6,1047.8 L13.8,1048.6 L14,1049.4 L14.2,1050.2 L14.3,1051.1 L14.5,1051.9 L14.6,1052.7 L14.7,1053.5 L14.8,1054.3 L14.9,1055.1 L15,1056 L15,1056.8 L15,1057.6 L15,1058.5 L14.9,1059.3 L14.8,1060.2 L14.7,1061.1 L14.5,1061.9 L14.4,1062.8 L14.3,1063.7 L14.2,1064.6 L14.1,1065.4 L14.1,1066.3 L14.1,1067.1 L14.1,1067.9 L14.2,1068.7 L14.3,1069.5 L14.4,1070.4 L14.5,1071.2 L14.6,1072 L14.8,1072.8 L15.2,1073.7 L16,1074.5 L17.1,1075.4 L18.4,1076.2 L19.8,1077.1 L21.1,1077.9 L22.3,1078.8 L23.2,1079.6 L23.6,1080.5 L23.9,1081.4 L24.1,1082.3 L24.3,1083.2 L24.4,1084.1 L24.5,1085 L24.5,1085.9 L24.4,1086.7 L24.2,1087.6 L23.8,1088.4 L23.3,1089.2 L22.7,1090 L22.2,1090.8 L21.6,1091.7 L21.1,1092.5 L20.7,1093.3 L20.2,1094.1 L19.8,1094.9 L19.3,1095.8 L18.8,1096.6 L18.3,1097.4 L17.8,1098.2 L17.3,1099 L16.8,1099.8 L16.2,1100.6 L15.7,1101.4 L15.2,1102.2 L14.6,1103.1 L14,1103.9 L13.4,1104.7 L12.7,1105.5 L11.9,1106.4 L11,1107.3 L10,1108.2 L8.9,1109.2 L7.9,1110.1 L6.8,1111 L5.7,1111.9 L4.6,1112.8 L3.5,1113.7 L2.3,1114.6 L1.1,1115.5 L0,1116.4 L0,1116.4 L-1.1,1115.5 L-2.3,1114.6 L-3.5,1113.7 L-4.6,1112.8 L-5.7,1111.9 L-6.8,1111 L-7.9,1110.1 L-8.9,1109.2 L-10,1108.2 L-11,1107.3 L-11.9,1106.4 L-12.7,1105.5 L-13.4,1104.7 L-14,1103.9 L-14.6,1103.1 L-15.2,1102.2 L-15.7,1101.4 L-16.2,1100.6 L-16.8,1099.8 L-17.3,1099 L-17.8,1098.2 L-18.3,1097.4 L-18.8,1096.6 L-19.3,1095.8 L-19.8,1094.9 L-20.2,1094.1 L-20.7,1093.3 L-21.1,1092.5 L-21.6,1091.7 L-22.2,1090.8 L-22.7,1090 L-23.3,1089.2 L-23.8,1088.4 L-24.2,1087.6 L-24.4,1086.7 L-24.5,1085.9 L-24.5,1085 L-24.4,1084.1 L-24.3,1083.2 L-24.1,1082.3 L-23.9,1081.4 L-23.6,1080.5 L-23.2,1079.6 L-22.3,1078.8 L-21.1,1077.9 L-19.8,1077.1 L-18.4,1076.2 L-17.1,1075.4 L-16,1074.5 L-15.2,1073.7 L-14.8,1072.8 L-14.6,1072 L-14.5,1071.2 L-14.4,1070.4 L-14.3,1069.5 L-14.2,1068.7 L-14.1,1067.9 L-14.1,1067.1 L-14.1,1066.3 L-14.1,1065.4 L-14.2,1064.6 L-14.3,1063.7 L-14.4,1062.8 L-14.5,1061.9 L-14.7,1061.1 L-14.8,1060.2 L-14.9,1059.3 L-15,1058.5 L-15,1057.6 L-15,1056.8 L-15,1056 L-14.9,1055.1 L-14.8,1054.3 L-14.7,1053.5 L-14.6,1052.7 L-14.5,1051.9 L-14.3,1051.1 L-14.2,1050.2 L-14,1049.4 L-13.8,1048.6 L-13.6,1047.8 L-13.3,1046.9 L-12.7,1046 L-11.9,1045.2 L-10.9,1044.3 L-10,1043.4 L-9,1042.5 L-8.2,1041.6 L-7.5,1040.8 L-7,1039.9 L-6.8,1039 L-7,1038.1 L-7.4,1037.2 L-8,1036.3 L-8.5,1035.4 L-8.9,1034.5 L-9.1,1033.6 L-9.1,1032.8 L-9,1031.9 L-8.9,1031.1 L-8.7,1030.2 L-8.5,1029.4 L-8.3,1028.5 L-8.1,1027.7 L-7.9,1026.8 L-7.7,1026 L-7.5,1025.2 L-7.3,1024.4 L-7,1023.6 L-6.8,1022.8 L-6.5,1022 L-6.2,1021.2 L-5.8,1020.4 L-5.6,1019.6 L-5.3,1018.8 L-5,1018 L-4.8,1017.2 L-4.6,1016.4 L-4.4,1015.6 L-4.4,1014.8 L-4.3,1014 L-4.4,1013.1 L-4.6,1012.3 L-4.8,1011.4 L-5.1,1010.5 L-5.5,1009.6 L-5.8,1008.8 L-6.1,1007.9 L-6.4,1007 L-6.5,1006.2 L-6.6,1005.3 L-6.5,1004.4 L-6.4,1003.5 L-6.2,1002.7 L-6,1001.8 L-5.7,1000.9 L-5.4,1000 L-5.1,999.1 L-4.8,998.3 L-4.5,997.4 L-4.3,996.5 L-4.2,995.7 L-4,994.9 L-3.9,994.1 L-3.7,993.2 L-3.6,992.4 L-3.4,991.6 L-3.3,990.8 L-3.2,990 L-3,989.2 L-2.9,988.4 L-2.8,987.6 L-2.6,986.8 L-2.5,986 L-2.4,985.2 L-2.2,984.4 L-2.1,983.6 L-2,982.8 L-1.8,982 L-1.7,981.2 L-1.6,980.4 L-1.5,979.6 L-1.4,978.8 L-1.4,978 L-1.3,977.2 L-1.2,976.4 L-1.1,975.6 L-1.1,974.8 L-1,973.9 L-0.9,973.1 L-0.9,972.3 L-0.8,971.5 L-0.8,970.7 L-0.7,969.9 L-0.7,969.1 L-0.6,968.2 L-0.6,967.4 L-0.6,966.6 L-0.6,965.8 L-0.6,965 L-0.6,964.2 L-0.7,963.3 L-0.8,962.5 L-0.9,961.7 L-1.1,960.9 L-1.2,960 L-1.4,959.2 L-1.5,958.4 L-1.6,957.5 L-1.6,956.7 L-1.6,955.9 L-1.6,955 L-1.6,954.2 L-1.6,953.4 L-1.6,952.5 L-1.6,951.7 L-1.6,950.8 L-1.6,950 L-1.6,949.2 L-1.5,948.3 L-1.4,947.5 L-1.3,946.7 L-1.2,945.8 L-1.1,945 L-1.1,944.2 L-1.1,943.4 L-1.1,942.6 L-1.1,941.8 L-1.1,940.9 L-1.1,940.1 L-1.1,939.3 L-1.1,938.5 L-1.1,937.7 L-1.1,936.9 L-1.1,936.1 L-1.1,935.3 L-1.1,934.5 L-1.1,933.6 L-1.1,932.8 L-1.1,932 L-1.1,931.2 L-1.1,930.4 L-1.1,929.6 L-1.1,928.8 L-1.1,928 L-1.1,927.2 L-1.1,926.4 L-1.1,925.5 L-1.1,924.7 L-1.1,923.9 L-1.1,923.1 L-1.1,922.3 L-1.1,921.5 L-1.1,920.7 L-1.1,919.9 L-1.1,919.1 L-1.1,918.2 L-1.1,917.4 L-1.1,916.6 L-1.1,915.8 L-1.1,915 L-1.1,914.2 L-0.9,913.3 L-0.7,912.5 L-0.6,911.7 L-0.4,910.8 L-0.3,910 L-0.3,909.2 L-0.3,908.4 L-0.3,907.6 L-0.3,906.8 L-0.3,906 L-0.3,905.2 L-0.3,904.4 L-0.3,903.6 L-0.3,902.8 L-0.3,902 L-0.3,901.2 L-0.3,900.4 L-0.2,899.6 L-0.2,898.8 L-0.2,898 L-0.2,897.2 L-0.2,896.4 L-0.2,895.6 L-0.2,894.8 L-0.2,894 L-0.2,893.2 L-0.2,892.4 L-0.2,891.6 L-0.2,890.8 L-0.2,890 L-0.5,889 L-0.9,888 L-1.1,887 L-1.1,886.2 L-1.1,885.4 L-1.1,884.6 L-1.1,883.8 L-1.1,883 L-1.1,882.2 L-1.1,881.3 L-1.1,880.5 L-1.1,879.7 L-1.1,878.9 L-1.1,878.1 L-1.1,877.3 L-1.1,876.5 L-1.1,875.7 L-1.1,874.9 L-1.1,874.1 L-1.1,873.3 L-1.1,872.5 L-1.1,871.7 L-1.1,870.8 L-1.1,870 L-1.1,869.2 L-1.1,868.4 L-1.1,867.6 L-1.1,866.8 L-1.1,866 L-0.9,865 L-0.5,864 L-0.2,863 L-0.2,862.2 L-0.2,861.4 L-0.2,860.6 L-0.2,859.8 L-0.2,859 L-0.2,858.2 L-0.2,857.4 L-0.2,856.6 L-0.2,855.8 L-0.2,855 L-0.2,854.2 L-0.2,853.3 L-0.2,852.5 L-0.2,851.7 L-0.2,850.9 L-0.2,850.1 L-0.2,849.3 L-0.2,848.5 L-0.2,847.7 L-0.2,846.9 L-0.2,846.1 L-0.2,845.3 L-0.2,844.5 L-0.2,843.7 L-0.2,842.9 L-0.2,842.1 L-0.1,841.3 L-0.1,840.5 L-0.1,839.7 L-0.1,838.9 L-0.1,838.1 L-0.1,837.3 L-0.1,836.5 L-0.1,835.7 L-0.1,834.9 L-0.1,834 L-0.1,833.2 L-0.1,832.4 L-0.1,831.6 L-0.1,830.8 L-0.1,830 L-0.1,829.2 L-0.1,828.4 L-0.1,827.6 L-0.1,826.8 L-0.1,826 L-0.1,825.2 L-0.1,824.4 L-0.1,823.6 L-0.1,822.8 L-0.1,822 L-0.1,821.2 L-0.1,820.4 L-0.1,819.6 L-0.1,818.8 L-0.1,818 L-0.1,817.2 L-0.1,816.4 L-0.1,815.5 L-0.1,814.7 L-0.1,813.9 L-0.1,813.1 L-0.1,812.3 L-0.1,811.5 L-0.1,810.7 L-0.1,809.9 L-0.1,809.1 L-0.1,808.3 L-0.1,807.5 L-0.1,806.7 L-0.1,805.9 L-0.1,805.1 L-0.1,804.3 L-0.1,803.5 L-0.1,802.7 L-0.1,801.9 L-0.1,801.1 L-0.1,800.3 L-0.1,799.5 L-0.1,798.7 L-0.1,797.9 L-0.1,797 L-0.1,796.2 L-0.1,795.4 L-0.1,794.6 L-0.1,793.8 L-0.1,793 L-0.1,792.2 L-0.1,791.4 L-0.1,790.6 L-0.1,789.8 L-0.1,789 L-0.1,788.2 L-0.1,787.4 L-0.1,786.6 L-0.1,785.8 L-0.1,785 L-0.1,784.2 L-0.1,783.4 L-0.1,782.6 L-0.1,781.8 L-0.1,781 L-0.1,780.2 L-0.1,779.4 L-0.1,778.6 L-0.1,777.7 L-0.1,776.9 L-0.1,776.1 L-0.1,775.3 L-0.1,774.5 L-0,773.7 L-0,772.9 L-0,772.1 L-0,771.3 L-0,770.5 L-0,769.7 L-0,768.9 L-0,768.1 L-0,767.3 L-0,766.5 L-0,765.7 L-0,764.9 L-0,764.1 L-0,763.3 L-0,762.5 L-0,761.7 L-0,760.9 L-0,760.1 L-0,759.2 L-0,758.4 L-0,757.6 L-0,756.8 L-0,756 L-0,755.2 L-0,754.4 L-0,753.6 L-0,752.8 L-0,752 L-0,751.2 L-0,750.4 L-0,749.6 L-0,748.8 L-0,748 L-0,747.2 L-0,746.4 L-0,745.6 L-0,744.8 L-0,744 L-0,743.2 L-0,742.4 L-0,741.6 L-0,740.7 L-0,739.9 L-0,739.1 L-0,738.3 L-0,737.5 L-0,736.7 L-0,735.9 L-0,735.1 L-0,734.3 L-0,733.5 L-0,732.7 L-0,731.9 L-0,731.1 L-0,730.3 L-0,729.5 L-0,728.7 L-0,727.9 L-0,727.1 L-0,726.3 L-0,725.5 L-0,724.7 L-0,723.9 L-0,723.1 L-0,722.3 L-0,721.4 L-0,720.6 L-0,719.8 L-0,719 L-0,718.2 L-0,717.4 L-0,716.6 L-0,715.8 L-0,715 L-0,714.2 L-0,713.4 L-0,712.6 Z" fill="#336A98" stroke="#000" stroke-width="1.3" stroke-linejoin="round"/>
<line x1="0" y1="1038.5" x2="0" y2="1087" stroke="#000" stroke-width="1.9"/>
<line x1="-2.73" y1="1038.5" x2="2.73" y2="1038.5" stroke="#000" stroke-width="1"/>
<line x1="-2.73" y1="1087" x2="2.73" y2="1087" stroke="#000" stroke-width="1"/>
<rect x="-3.86" y="1063.4" width="7.73" height="7.4" fill="#000"/>
</g>
<line x1="254.6" y1="663.6" x2="254.6" y2="1115.5" stroke="#5f5f5f" stroke-width="1.1"/>
<g transform="translate(254.6,0) scale(0.44,1)">
<path d="M0,663.6 L0,664.4 L0,665.2 L0,666 L0,666.8 L0,667.6 L0,668.4 L0,669.2 L0,670 L0,670.8 L0,671.6 L0,672.4 L0,673.2 L0,674 L0,674.8 L0,675.6 L0,676.4 L0,677.2 L0,678 L0,678.8 L0,679.6 L0,680.4 L0,681.2 L0,682 L0,682.8 L0,683.6 L0,684.4 L0,685.2 L0,686 L0,686.8 L0,687.6 L0,688.4 L0,689.2 L0,690.1 L0,690.9 L0,691.7 L0,692.5 L0,693.3 L0,694.1 L0,694.9 L0,695.7 L0,696.5 L0,697.3 L0,698.1 L0,698.9 L0,699.7 L0,700.5 L0,701.3 L0,702.1 L0,702.9 L0,703.7 L0,704.5 L0.1,705.3 L0.1,706.1 L0.1,706.9 L0.1,707.7 L0.1,708.5 L0.1,709.3 L0.1,710.1 L0.1,710.9 L0.1,711.7 L0.1,712.5 L0.1,713.3 L0.1,714.1 L0.1,714.9 L0.1,715.7 L0.1,716.5 L0.1,717.3 L0.1,718.1 L0.1,718.9 L0.1,719.7 L0.1,720.5 L0.1,721.3 L0.1,722.1 L0.1,722.9 L0.1,723.7 L0.1,724.5 L0.1,725.3 L0.1,726.1 L0.1,726.9 L0.1,727.7 L0.1,728.5 L0.1,729.3 L0.1,730.1 L0.1,730.9 L0.1,731.7 L0.1,732.5 L0.1,733.3 L0.1,734.1 L0.1,734.9 L0.1,735.7 L0.1,736.5 L0.1,737.3 L0.1,738.1 L0.1,738.9 L0.1,739.7 L0.1,740.5 L0.1,741.4 L0.1,742.2 L0.1,743 L0.1,743.8 L0.1,744.6 L0.1,745.4 L0.1,746.2 L0.1,747 L0.1,747.8 L0.1,748.6 L0.1,749.4 L0.1,750.2 L0.1,751 L0.1,751.8 L0.2,752.6 L0.2,753.4 L0.2,754.2 L0.2,755 L0.2,755.8 L0.2,756.6 L0.2,757.4 L0.2,758.2 L0.2,759 L0.2,759.8 L0.2,760.6 L0.2,761.4 L0.2,762.2 L0.2,763 L0.2,763.8 L0.2,764.6 L0.2,765.4 L0.2,766.2 L0.2,767 L0.4,768 L0.7,769 L0.9,770 L0.9,770.8 L1,771.7 L1,772.5 L1,773.3 L1.1,774.2 L1.1,775 L1.1,775.8 L1.1,776.7 L1.1,777.5 L1.1,778.3 L1.1,779.2 L1.1,780 L1.1,780.8 L1.1,781.7 L1.1,782.5 L1.1,783.3 L1.1,784.2 L1.1,785 L1,785.8 L1,786.7 L1,787.5 L1,788.3 L0.9,789.2 L0.9,790 L0.9,790.8 L0.8,791.7 L0.8,792.5 L0.7,793.3 L0.6,794.2 L0.6,795 L0.5,795.8 L0.4,796.6 L0.4,797.5 L0.3,798.3 L0.3,799.1 L0.2,800 L0.2,800.8 L0.2,801.6 L0.2,802.4 L0.2,803.2 L0.2,804 L0.2,804.9 L0.2,805.7 L0.2,806.5 L0.2,807.3 L0.2,808.1 L0.2,808.9 L0.2,809.7 L0.2,810.5 L0.2,811.3 L0.2,812.1 L0.2,813 L0.2,813.8 L0.2,814.6 L0.2,815.4 L0.2,816.2 L0.2,817 L0.2,817.8 L0.2,818.6 L0.2,819.4 L0.2,820.3 L0.2,821.1 L0.2,821.9 L0.2,822.7 L0.2,823.5 L0.2,824.3 L0.2,825.1 L0.2,825.9 L0.2,826.7 L0.2,827.5 L0.2,828.4 L0.2,829.2 L0.2,830 L0.2,830.8 L0.2,831.6 L0.2,832.4 L0.2,833.2 L0.2,834 L0.2,834.8 L0.2,835.7 L0.2,836.5 L0.2,837.3 L0.2,838.1 L0.2,838.9 L0.2,839.7 L0.2,840.5 L0.2,841.3 L0.2,842.1 L0.2,842.9 L0.2,843.8 L0.2,844.6 L0.2,845.4 L0.2,846.2 L0.2,847 L0.4,848 L0.7,849 L0.9,850 L0.9,850.8 L0.9,851.6 L0.9,852.4 L0.9,853.3 L0.9,854.1 L0.9,854.9 L0.9,855.7 L0.9,856.5 L0.9,857.3 L0.9,858.1 L0.9,859 L0.9,859.8 L0.9,860.6 L0.9,861.4 L0.9,862.2 L0.9,863 L0.9,863.9 L0.9,864.7 L0.9,865.5 L0.9,866.3 L0.9,867.1 L0.9,867.9 L0.9,868.7 L0.9,869.6 L0.9,870.4 L0.9,871.2 L0.9,872 L0.7,873 L0.4,874 L0.2,875 L0.2,875.8 L0.2,876.6 L0.2,877.4 L0.2,878.2 L0.2,879 L0.2,879.8 L0.2,880.6 L0.2,881.5 L0.2,882.3 L0.2,883.1 L0.2,883.9 L0.2,884.7 L0.2,885.5 L0.2,886.3 L0.2,887.1 L0.2,887.9 L0.2,888.7 L0.2,889.5 L0.2,890.3 L0.2,891.1 L0.2,891.9 L0.2,892.7 L0.2,893.5 L0.2,894.4 L0.2,895.2 L0.2,896 L0.2,896.8 L0.2,897.6 L0.2,898.4 L0.2,899.2 L0.2,900 L0.5,901 L0.9,902 L1.1,903 L1.1,903.8 L1.1,904.6 L1.1,905.4 L1.1,906.2 L1.1,907 L1.1,907.8 L1.1,908.6 L1.1,909.5 L1.1,910.3 L1.1,911.1 L1.1,911.9 L1.1,912.7 L1.1,913.5 L1.1,914.3 L1.1,915.1 L1.1,915.9 L1.1,916.7 L1.1,917.5 L1.1,918.3 L1.1,919.1 L1.1,920 L1.1,920.8 L1.1,921.6 L1.1,922.4 L1.1,923.2 L1.1,924 L1.1,924.8 L1.1,925.6 L1.1,926.5 L0.9,927.4 L0.6,928.2 L0.4,929.1 L0.3,930 L0.3,930.8 L0.3,931.6 L0.3,932.4 L0.3,933.2 L0.3,934 L0.3,934.8 L0.3,935.6 L0.3,936.4 L0.3,937.2 L0.3,938 L0.3,938.8 L0.3,939.6 L0.3,940.4 L0.3,941.2 L0.3,942 L0.3,942.8 L0.3,943.6 L0.3,944.4 L0.3,945.2 L0.3,946 L0.3,946.8 L0.3,947.6 L0.3,948.4 L0.3,949.2 L0.3,950 L0.3,950.8 L0.3,951.6 L0.3,952.4 L0.3,953.2 L0.3,954 L0.3,954.8 L0.3,955.6 L0.3,956.4 L0.3,957.2 L0.3,958 L0.3,958.8 L0.3,959.6 L0.3,960.4 L0.3,961.2 L0.3,962 L0.3,962.8 L0.3,963.6 L0.3,964.4 L0.3,965.2 L0.3,966 L0.5,966.8 L0.9,967.6 L1.3,968.4 L1.6,969.2 L2,970.1 L2.4,970.9 L2.9,971.7 L3.3,972.6 L3.7,973.4 L4.1,974.2 L4.5,975 L5,975.8 L5.5,976.7 L6,977.5 L6.5,978.3 L6.9,979.1 L7.4,979.9 L7.8,980.7 L8.1,981.5 L8.4,982.4 L8.6,983.2 L8.6,984 L8.5,984.9 L8.1,985.7 L7.6,986.6 L6.9,987.5 L6.1,988.4 L5.4,989.2 L4.7,990.1 L4.2,991 L3.8,991.8 L3.6,992.7 L3.8,993.6 L4.2,994.4 L4.9,995.3 L5.7,996.2 L6.6,997 L7.5,997.9 L8.3,998.8 L9.1,999.7 L9.6,1000.5 L10,1001.4 L10.2,1002.2 L10.4,1003.1 L10.6,1003.9 L10.7,1004.8 L10.9,1005.6 L11,1006.5 L11.1,1007.3 L11.1,1008.2 L11.1,1009 L11.1,1009.8 L11.1,1010.7 L11.1,1011.5 L11.1,1012.4 L11.1,1013.2 L11.1,1014.1 L11.1,1014.9 L11.1,1015.8 L11.1,1016.6 L11.1,1017.5 L11.1,1018.3 L11.1,1019.2 L11.1,1020 L11.1,1020.8 L11.2,1021.7 L11.2,1022.5 L11.3,1023.3 L11.4,1024.2 L11.4,1025 L11.5,1025.8 L11.7,1026.6 L11.8,1027.5 L11.9,1028.3 L12,1029.1 L12.1,1030 L12.3,1030.8 L12.4,1031.6 L12.6,1032.5 L12.8,1033.3 L13,1034.2 L13.2,1035 L13.5,1035.8 L13.7,1036.7 L14,1037.5 L14.3,1038.3 L14.6,1039.2 L15,1040 L15.3,1040.9 L15.7,1041.7 L16.2,1042.6 L16.8,1043.5 L17.5,1044.3 L18.2,1045.2 L19,1046.1 L19.8,1047 L20.6,1047.9 L21.2,1048.7 L21.8,1049.6 L22.3,1050.5 L22.6,1051.3 L23,1052.2 L23.3,1053 L23.7,1053.9 L24,1054.7 L24.2,1055.6 L24.4,1056.4 L24.5,1057.3 L24.5,1058.1 L24.5,1058.9 L24.4,1059.8 L24.3,1060.6 L24.2,1061.5 L24,1062.3 L23.8,1063.1 L23.7,1064 L23.5,1064.8 L23.3,1065.6 L23.2,1066.5 L23.1,1067.3 L23,1068.2 L23,1069 L23,1069.8 L23.1,1070.6 L23.2,1071.4 L23.4,1072.2 L23.5,1073 L23.7,1073.8 L23.8,1074.6 L24,1075.4 L24.1,1076.2 L24.1,1077 L24.1,1077.8 L24.1,1078.6 L24.1,1079.4 L24,1080.2 L24,1081 L24,1081.8 L23.9,1082.6 L23.9,1083.4 L23.7,1084.2 L23.3,1085.1 L22.8,1085.9 L22.2,1086.7 L21.6,1087.5 L20.9,1088.4 L20.2,1089.2 L19.6,1090 L18.8,1090.9 L18.1,1091.7 L17.2,1092.5 L16.4,1093.3 L15.5,1094.2 L14.5,1095 L13.5,1095.8 L12.3,1096.7 L11,1097.5 L9.7,1098.4 L8.4,1099.2 L7.4,1100.1 L6.6,1100.9 L6,1101.7 L5.4,1102.6 L4.9,1103.4 L4.5,1104.2 L4.1,1105 L3.7,1105.9 L3.4,1106.7 L3.1,1107.5 L2.9,1108.4 L2.7,1109.2 L2.5,1110.1 L2.3,1110.9 L2.1,1111.8 L1.8,1112.6 L1.3,1113.6 L0.7,1114.5 L0,1115.5 L0,1115.5 L-0.7,1114.5 L-1.3,1113.6 L-1.8,1112.6 L-2.1,1111.8 L-2.3,1110.9 L-2.5,1110.1 L-2.7,1109.2 L-2.9,1108.4 L-3.1,1107.5 L-3.4,1106.7 L-3.7,1105.9 L-4.1,1105 L-4.5,1104.2 L-4.9,1103.4 L-5.4,1102.6 L-6,1101.7 L-6.6,1100.9 L-7.4,1100.1 L-8.4,1099.2 L-9.7,1098.4 L-11,1097.5 L-12.3,1096.7 L-13.5,1095.8 L-14.5,1095 L-15.5,1094.2 L-16.4,1093.3 L-17.2,1092.5 L-18.1,1091.7 L-18.8,1090.9 L-19.6,1090 L-20.2,1089.2 L-20.9,1088.4 L-21.6,1087.5 L-22.2,1086.7 L-22.8,1085.9 L-23.3,1085.1 L-23.7,1084.2 L-23.9,1083.4 L-23.9,1082.6 L-24,1081.8 L-24,1081 L-24,1080.2 L-24.1,1079.4 L-24.1,1078.6 L-24.1,1077.8 L-24.1,1077 L-24.1,1076.2 L-24,1075.4 L-23.8,1074.6 L-23.7,1073.8 L-23.5,1073 L-23.4,1072.2 L-23.2,1071.4 L-23.1,1070.6 L-23,1069.8 L-23,1069 L-23,1068.2 L-23.1,1067.3 L-23.2,1066.5 L-23.3,1065.6 L-23.5,1064.8 L-23.7,1064 L-23.8,1063.1 L-24,1062.3 L-24.2,1061.5 L-24.3,1060.6 L-24.4,1059.8 L-24.5,1058.9 L-24.5,1058.1 L-24.5,1057.3 L-24.4,1056.4 L-24.2,1055.6 L-24,1054.7 L-23.7,1053.9 L-23.3,1053 L-23,1052.2 L-22.6,1051.3 L-22.3,1050.5 L-21.8,1049.6 L-21.2,1048.7 L-20.6,1047.9 L-19.8,1047 L-19,1046.1 L-18.2,1045.2 L-17.5,1044.3 L-16.8,1043.5 L-16.2,1042.6 L-15.7,1041.7 L-15.3,1040.9 L-15,1040 L-14.6,1039.2 L-14.3,1038.3 L-14,1037.5 L-13.7,1036.7 L-13.5,1035.8 L-13.2,1035 L-13,1034.2 L-12.8,1033.3 L-12.6,1032.5 L-12.4,1031.6 L-12.3,1030.8 L-12.1,1030 L-12,1029.1 L-11.9,1028.3 L-11.8,1027.5 L-11.7,1026.6 L-11.5,1025.8 L-11.4,1025 L-11.4,1024.2 L-11.3,1023.3 L-11.2,1022.5 L-11.2,1021.7 L-11.1,1020.8 L-11.1,1020 L-11.1,1019.2 L-11.1,1018.3 L-11.1,1017.5 L-11.1,1016.6 L-11.1,1015.8 L-11.1,1014.9 L-11.1,1014.1 L-11.1,1013.2 L-11.1,1012.4 L-11.1,1011.5 L-11.1,1010.7 L-11.1,1009.8 L-11.1,1009 L-11.1,1008.2 L-11.1,1007.3 L-11,1006.5 L-10.9,1005.6 L-10.7,1004.8 L-10.6,1003.9 L-10.4,1003.1 L-10.2,1002.2 L-10,1001.4 L-9.6,1000.5 L-9.1,999.7 L-8.3,998.8 L-7.5,997.9 L-6.6,997 L-5.7,996.2 L-4.9,995.3 L-4.2,994.4 L-3.8,993.6 L-3.6,992.7 L-3.8,991.8 L-4.2,991 L-4.7,990.1 L-5.4,989.2 L-6.1,988.4 L-6.9,987.5 L-7.6,986.6 L-8.1,985.7 L-8.5,984.9 L-8.6,984 L-8.6,983.2 L-8.4,982.4 L-8.1,981.5 L-7.8,980.7 L-7.4,979.9 L-6.9,979.1 L-6.5,978.3 L-6,977.5 L-5.5,976.7 L-5,975.8 L-4.5,975 L-4.1,974.2 L-3.7,973.4 L-3.3,972.6 L-2.9,971.7 L-2.4,970.9 L-2,970.1 L-1.6,969.2 L-1.3,968.4 L-0.9,967.6 L-0.5,966.8 L-0.3,966 L-0.3,965.2 L-0.3,964.4 L-0.3,963.6 L-0.3,962.8 L-0.3,962 L-0.3,961.2 L-0.3,960.4 L-0.3,959.6 L-0.3,958.8 L-0.3,958 L-0.3,957.2 L-0.3,956.4 L-0.3,955.6 L-0.3,954.8 L-0.3,954 L-0.3,953.2 L-0.3,952.4 L-0.3,951.6 L-0.3,950.8 L-0.3,950 L-0.3,949.2 L-0.3,948.4 L-0.3,947.6 L-0.3,946.8 L-0.3,946 L-0.3,945.2 L-0.3,944.4 L-0.3,943.6 L-0.3,942.8 L-0.3,942 L-0.3,941.2 L-0.3,940.4 L-0.3,939.6 L-0.3,938.8 L-0.3,938 L-0.3,937.2 L-0.3,936.4 L-0.3,935.6 L-0.3,934.8 L-0.3,934 L-0.3,933.2 L-0.3,932.4 L-0.3,931.6 L-0.3,930.8 L-0.3,930 L-0.4,929.1 L-0.6,928.2 L-0.9,927.4 L-1.1,926.5 L-1.1,925.6 L-1.1,924.8 L-1.1,924 L-1.1,923.2 L-1.1,922.4 L-1.1,921.6 L-1.1,920.8 L-1.1,920 L-1.1,919.1 L-1.1,918.3 L-1.1,917.5 L-1.1,916.7 L-1.1,915.9 L-1.1,915.1 L-1.1,914.3 L-1.1,913.5 L-1.1,912.7 L-1.1,911.9 L-1.1,911.1 L-1.1,910.3 L-1.1,909.5 L-1.1,908.6 L-1.1,907.8 L-1.1,907 L-1.1,906.2 L-1.1,905.4 L-1.1,904.6 L-1.1,903.8 L-1.1,903 L-0.9,902 L-0.5,901 L-0.2,900 L-0.2,899.2 L-0.2,898.4 L-0.2,897.6 L-0.2,896.8 L-0.2,896 L-0.2,895.2 L-0.2,894.4 L-0.2,893.5 L-0.2,892.7 L-0.2,891.9 L-0.2,891.1 L-0.2,890.3 L-0.2,889.5 L-0.2,888.7 L-0.2,887.9 L-0.2,887.1 L-0.2,886.3 L-0.2,885.5 L-0.2,884.7 L-0.2,883.9 L-0.2,883.1 L-0.2,882.3 L-0.2,881.5 L-0.2,880.6 L-0.2,879.8 L-0.2,879 L-0.2,878.2 L-0.2,877.4 L-0.2,876.6 L-0.2,875.8 L-0.2,875 L-0.4,874 L-0.7,873 L-0.9,872 L-0.9,871.2 L-0.9,870.4 L-0.9,869.6 L-0.9,868.7 L-0.9,867.9 L-0.9,867.1 L-0.9,866.3 L-0.9,865.5 L-0.9,864.7 L-0.9,863.9 L-0.9,863 L-0.9,862.2 L-0.9,861.4 L-0.9,860.6 L-0.9,859.8 L-0.9,859 L-0.9,858.1 L-0.9,857.3 L-0.9,856.5 L-0.9,855.7 L-0.9,854.9 L-0.9,854.1 L-0.9,853.3 L-0.9,852.4 L-0.9,851.6 L-0.9,850.8 L-0.9,850 L-0.7,849 L-0.4,848 L-0.2,847 L-0.2,846.2 L-0.2,845.4 L-0.2,844.6 L-0.2,843.8 L-0.2,842.9 L-0.2,842.1 L-0.2,841.3 L-0.2,840.5 L-0.2,839.7 L-0.2,838.9 L-0.2,838.1 L-0.2,837.3 L-0.2,836.5 L-0.2,835.7 L-0.2,834.8 L-0.2,834 L-0.2,833.2 L-0.2,832.4 L-0.2,831.6 L-0.2,830.8 L-0.2,830 L-0.2,829.2 L-0.2,828.4 L-0.2,827.5 L-0.2,826.7 L-0.2,825.9 L-0.2,825.1 L-0.2,824.3 L-0.2,823.5 L-0.2,822.7 L-0.2,821.9 L-0.2,821.1 L-0.2,820.3 L-0.2,819.4 L-0.2,818.6 L-0.2,817.8 L-0.2,817 L-0.2,816.2 L-0.2,815.4 L-0.2,814.6 L-0.2,813.8 L-0.2,813 L-0.2,812.1 L-0.2,811.3 L-0.2,810.5 L-0.2,809.7 L-0.2,808.9 L-0.2,808.1 L-0.2,807.3 L-0.2,806.5 L-0.2,805.7 L-0.2,804.9 L-0.2,804 L-0.2,803.2 L-0.2,802.4 L-0.2,801.6 L-0.2,800.8 L-0.2,800 L-0.3,799.1 L-0.3,798.3 L-0.4,797.5 L-0.4,796.6 L-0.5,795.8 L-0.6,795 L-0.6,794.2 L-0.7,793.3 L-0.8,792.5 L-0.8,791.7 L-0.9,790.8 L-0.9,790 L-0.9,789.2 L-1,788.3 L-1,787.5 L-1,786.7 L-1,785.8 L-1.1,785 L-1.1,784.2 L-1.1,783.3 L-1.1,782.5 L-1.1,781.7 L-1.1,780.8 L-1.1,780 L-1.1,779.2 L-1.1,778.3 L-1.1,777.5 L-1.1,776.7 L-1.1,775.8 L-1.1,775 L-1.1,774.2 L-1,773.3 L-1,772.5 L-1,771.7 L-0.9,770.8 L-0.9,770 L-0.7,769 L-0.4,768 L-0.2,767 L-0.2,766.2 L-0.2,765.4 L-0.2,764.6 L-0.2,763.8 L-0.2,763 L-0.2,762.2 L-0.2,761.4 L-0.2,760.6 L-0.2,759.8 L-0.2,759 L-0.2,758.2 L-0.2,757.4 L-0.2,756.6 L-0.2,755.8 L-0.2,755 L-0.2,754.2 L-0.2,753.4 L-0.2,752.6 L-0.1,751.8 L-0.1,751 L-0.1,750.2 L-0.1,749.4 L-0.1,748.6 L-0.1,747.8 L-0.1,747 L-0.1,746.2 L-0.1,745.4 L-0.1,744.6 L-0.1,743.8 L-0.1,743 L-0.1,742.2 L-0.1,741.4 L-0.1,740.5 L-0.1,739.7 L-0.1,738.9 L-0.1,738.1 L-0.1,737.3 L-0.1,736.5 L-0.1,735.7 L-0.1,734.9 L-0.1,734.1 L-0.1,733.3 L-0.1,732.5 L-0.1,731.7 L-0.1,730.9 L-0.1,730.1 L-0.1,729.3 L-0.1,728.5 L-0.1,727.7 L-0.1,726.9 L-0.1,726.1 L-0.1,725.3 L-0.1,724.5 L-0.1,723.7 L-0.1,722.9 L-0.1,722.1 L-0.1,721.3 L-0.1,720.5 L-0.1,719.7 L-0.1,718.9 L-0.1,718.1 L-0.1,717.3 L-0.1,716.5 L-0.1,715.7 L-0.1,714.9 L-0.1,714.1 L-0.1,713.3 L-0.1,712.5 L-0.1,711.7 L-0.1,710.9 L-0.1,710.1 L-0.1,709.3 L-0.1,708.5 L-0.1,707.7 L-0.1,706.9 L-0.1,706.1 L-0.1,705.3 L-0,704.5 L-0,703.7 L-0,702.9 L-0,702.1 L-0,701.3 L-0,700.5 L-0,699.7 L-0,698.9 L-0,698.1 L-0,697.3 L-0,696.5 L-0,695.7 L-0,694.9 L-0,694.1 L-0,693.3 L-0,692.5 L-0,691.7 L-0,690.9 L-0,690.1 L-0,689.2 L-0,688.4 L-0,687.6 L-0,686.8 L-0,686 L-0,685.2 L-0,684.4 L-0,683.6 L-0,682.8 L-0,682 L-0,681.2 L-0,680.4 L-0,679.6 L-0,678.8 L-0,678 L-0,677.2 L-0,676.4 L-0,675.6 L-0,674.8 L-0,674 L-0,673.2 L-0,672.4 L-0,671.6 L-0,670.8 L-0,670 L-0,669.2 L-0,668.4 L-0,667.6 L-0,666.8 L-0,666 L-0,665.2 L-0,664.4 L-0,663.6 Z" fill="#56B1F7" stroke="#000" stroke-width="1.3" stroke-linejoin="round"/>
<line x1="0" y1="1023" x2="0" y2="1076.4" stroke="#000" stroke-width="1.9"/>
<line x1="-2.73" y1="1023" x2="2.73" y2="1023" stroke="#000" stroke-width="1"/>
<line x1="-2.73" y1="1076.4" x2="2.73" y2="1076.4" stroke="#000" stroke-width="1"/>
<rect x="-3.86" y="1051.9" width="7.73" height="7.4" fill="#000"/>
</g>
<line x1="44.4" y1="656.8" x2="255" y2="656.8" stroke="#A6A6A6" stroke-width="1.1"/>
<path d="M53.9,644.4 L53.9,651.8 M51.98,646.25 L55.82,649.95 M51.98,649.95 L55.82,646.25" stroke="#111" stroke-width="1.05" fill="none"/>
<path d="M58.15,644.4 L58.15,651.8 M56.23,646.25 L60.07,649.95 M56.23,649.95 L60.07,646.25" stroke="#111" stroke-width="1.05" fill="none"/>
<line x1="44.4" y1="703.4" x2="149.6" y2="703.4" stroke="#A6A6A6" stroke-width="1.1"/>
<path d="M53.7,690.8 L53.7,698.2 M51.78,692.65 L55.62,696.35 M51.78,696.35 L55.62,692.65" stroke="#111" stroke-width="1.05" fill="none"/>
<text transform="translate(8.3,607.8) scale(1,1)" font-family='"Liberation Serif", serif' font-size="16" fill="#000" text-anchor="start">C</text>
<rect x="398.5" y="611.2" width="72.6" height="27.3" fill="#D9D9D9"/>
<rect x="398.5" y="638.5" width="72.6" height="500" fill="#EBEBEB"/>
<rect x="476.2" y="611.2" width="72.5" height="27.3" fill="#D9D9D9"/>
<rect x="476.2" y="638.5" width="72.5" height="500" fill="#EBEBEB"/>
<rect x="553" y="611.2" width="72.6" height="27.3" fill="#D9D9D9"/>
<rect x="553" y="638.5" width="72.6" height="500" fill="#EBEBEB"/>
<line x1="398.5" y1="1077.06" x2="471.1" y2="1077.06" stroke="#fff" stroke-width="0.9" opacity="0.85"/>
<line x1="398.5" y1="958.59" x2="471.1" y2="958.59" stroke="#fff" stroke-width="0.9" opacity="0.85"/>
<line x1="398.5" y1="840.11" x2="471.1" y2="840.11" stroke="#fff" stroke-width="0.9" opacity="0.85"/>
<line x1="398.5" y1="721.64" x2="471.1" y2="721.64" stroke="#fff" stroke-width="0.9" opacity="0.85"/>
<line x1="398.5" y1="1136.3" x2="471.1" y2="1136.3" stroke="#fff" stroke-width="1.7"/>
<line x1="398.5" y1="1017.83" x2="471.1" y2="1017.83" stroke="#fff" stroke-width="1.7"/>
<line x1="398.5" y1="899.35" x2="471.1" y2="899.35" stroke="#fff" stroke-width="1.7"/>
<line x1="398.5" y1="780.88" x2="471.1" y2="780.88" stroke="#fff" stroke-width="1.7"/>
<line x1="398.5" y1="662.4" x2="471.1" y2="662.4" stroke="#fff" stroke-width="1.7"/>
<line x1="400.66" y1="638.5" x2="400.66" y2="1138.5" stroke="#fff" stroke-width="1" opacity="0.6"/>
<line x1="412.04" y1="638.5" x2="412.04" y2="1138.5" stroke="#fff" stroke-width="1" opacity="0.6"/>
<line x1="423.42" y1="638.5" x2="423.42" y2="1138.5" stroke="#fff" stroke-width="1" opacity="0.6"/>
<line x1="434.8" y1="638.5" x2="434.8" y2="1138.5" stroke="#fff" stroke-width="1" opacity="0.6"/>
<line x1="446.18" y1="638.5" x2="446.18" y2="1138.5" stroke="#fff" stroke-width="1" opacity="0.6"/>
<line x1="457.56" y1="638.5" x2="457.56" y2="1138.5" stroke="#fff" stroke-width="1" opacity="0.6"/>
<line x1="468.94" y1="638.5" x2="468.94" y2="1138.5" stroke="#fff" stroke-width="1" opacity="0.6"/>
<line x1="476.2" y1="1077.06" x2="548.7" y2="1077.06" stroke="#fff" stroke-width="0.9" opacity="0.85"/>
<line x1="476.2" y1="958.59" x2="548.7" y2="958.59" stroke="#fff" stroke-width="0.9" opacity="0.85"/>
<line x1="476.2" y1="840.11" x2="548.7" y2="840.11" stroke="#fff" stroke-width="0.9" opacity="0.85"/>
<line x1="476.2" y1="721.64" x2="548.7" y2="721.64" stroke="#fff" stroke-width="0.9" opacity="0.85"/>
<line x1="476.2" y1="1136.3" x2="548.7" y2="1136.3" stroke="#fff" stroke-width="1.7"/>
<line x1="476.2" y1="1017.83" x2="548.7" y2="1017.83" stroke="#fff" stroke-width="1.7"/>
<line x1="476.2" y1="899.35" x2="548.7" y2="899.35" stroke="#fff" stroke-width="1.7"/>
<line x1="476.2" y1="780.88" x2="548.7" y2="780.88" stroke="#fff" stroke-width="1.7"/>
<line x1="476.2" y1="662.4" x2="548.7" y2="662.4" stroke="#fff" stroke-width="1.7"/>
<line x1="478.36" y1="638.5" x2="478.36" y2="1138.5" stroke="#fff" stroke-width="1" opacity="0.6"/>
<line x1="489.72" y1="638.5" x2="489.72" y2="1138.5" stroke="#fff" stroke-width="1" opacity="0.6"/>
<line x1="501.09" y1="638.5" x2="501.09" y2="1138.5" stroke="#fff" stroke-width="1" opacity="0.6"/>
<line x1="512.45" y1="638.5" x2="512.45" y2="1138.5" stroke="#fff" stroke-width="1" opacity="0.6"/>
<line x1="523.81" y1="638.5" x2="523.81" y2="1138.5" stroke="#fff" stroke-width="1" opacity="0.6"/>
<line x1="535.18" y1="638.5" x2="535.18" y2="1138.5" stroke="#fff" stroke-width="1" opacity="0.6"/>
<line x1="546.54" y1="638.5" x2="546.54" y2="1138.5" stroke="#fff" stroke-width="1" opacity="0.6"/>
<line x1="553" y1="1077.06" x2="625.6" y2="1077.06" stroke="#fff" stroke-width="0.9" opacity="0.85"/>
<line x1="553" y1="958.59" x2="625.6" y2="958.59" stroke="#fff" stroke-width="0.9" opacity="0.85"/>
<line x1="553" y1="840.11" x2="625.6" y2="840.11" stroke="#fff" stroke-width="0.9" opacity="0.85"/>
<line x1="553" y1="721.64" x2="625.6" y2="721.64" stroke="#fff" stroke-width="0.9" opacity="0.85"/>
<line x1="553" y1="1136.3" x2="625.6" y2="1136.3" stroke="#fff" stroke-width="1.7"/>
<line x1="553" y1="1017.83" x2="625.6" y2="1017.83" stroke="#fff" stroke-width="1.7"/>
<line x1="553" y1="899.35" x2="625.6" y2="899.35" stroke="#fff" stroke-width="1.7"/>
<line x1="553" y1="780.88" x2="625.6" y2="780.88" stroke="#fff" stroke-width="1.7"/>
<line x1="553" y1="662.4" x2="625.6" y2="662.4" stroke="#fff" stroke-width="1.7"/>
<line x1="555.16" y1="638.5" x2="555.16" y2="1138.5" stroke="#fff" stroke-width="1" opacity="0.6"/>
<line x1="566.54" y1="638.5" x2="566.54" y2="1138.5" stroke="#fff" stroke-width="1" opacity="0.6"/>
<line x1="577.92" y1="638.5" x2="577.92" y2="1138.5" stroke="#fff" stroke-width="1" opacity="0.6"/>
<line x1="589.3" y1="638.5" x2="589.3" y2="1138.5" stroke="#fff" stroke-width="1" opacity="0.6"/>
<line x1="600.68" y1="638.5" x2="600.68" y2="1138.5" stroke="#fff" stroke-width="1" opacity="0.6"/>
<line x1="612.06" y1="638.5" x2="612.06" y2="1138.5" stroke="#fff" stroke-width="1" opacity="0.6"/>
<line x1="623.44" y1="638.5" x2="623.44" y2="1138.5" stroke="#fff" stroke-width="1" opacity="0.6"/>
<text transform="translate(434.8,632.97) scale(0.42,1)" font-family='"Liberation Sans", sans-serif' font-size="14.2" fill="#1A1A1A" text-anchor="middle" stroke="#1A1A1A" stroke-width="0.5" stroke-linejoin="round">1</text>
<text transform="translate(512.45,632.97) scale(0.42,1)" font-family='"Liberation Sans", sans-serif' font-size="14.2" fill="#1A1A1A" text-anchor="middle" stroke="#1A1A1A" stroke-width="0.5" stroke-linejoin="round">2</text>
<text transform="translate(589.3,632.97) scale(0.42,1)" font-family='"Liberation Sans", sans-serif' font-size="14.2" fill="#1A1A1A" text-anchor="middle" stroke="#1A1A1A" stroke-width="0.5" stroke-linejoin="round">3</text>
<line x1="396.3" y1="1136.3" x2="398.5" y2="1136.3" stroke="#333333" stroke-width="1.1"/>
<text transform="translate(395.3,1142.67) scale(0.42,1)" font-family='"Liberation Sans", sans-serif' font-size="14.2" fill="#4D4D4D" text-anchor="end" stroke="#4D4D4D" stroke-width="0.5" stroke-linejoin="round">0</text>
<line x1="396.3" y1="1017.83" x2="398.5" y2="1017.83" stroke="#333333" stroke-width="1.1"/>
<text transform="translate(395.3,1024.19) scale(0.42,1)" font-family='"Liberation Sans", sans-serif' font-size="14.2" fill="#4D4D4D" text-anchor="end" stroke="#4D4D4D" stroke-width="0.5" stroke-linejoin="round">25</text>
<line x1="396.3" y1="899.35" x2="398.5" y2="899.35" stroke="#333333" stroke-width="1.1"/>
<text transform="translate(395.3,905.72) scale(0.42,1)" font-family='"Liberation Sans", sans-serif' font-size="14.2" fill="#4D4D4D" text-anchor="end" stroke="#4D4D4D" stroke-width="0.5" stroke-linejoin="round">50</text>
<line x1="396.3" y1="780.88" x2="398.5" y2="780.88" stroke="#333333" stroke-width="1.1"/>
<text transform="translate(395.3,787.25) scale(0.42,1)" font-family='"Liberation Sans", sans-serif' font-size="14.2" fill="#4D4D4D" text-anchor="end" stroke="#4D4D4D" stroke-width="0.5" stroke-linejoin="round">75</text>
<line x1="396.3" y1="662.4" x2="398.5" y2="662.4" stroke="#333333" stroke-width="1.1"/>
<text transform="translate(395.3,668.77) scale(0.42,1)" font-family='"Liberation Sans", sans-serif' font-size="14.2" fill="#4D4D4D" text-anchor="end" stroke="#4D4D4D" stroke-width="0.5" stroke-linejoin="round">100</text>
<line x1="412.04" y1="1138.5" x2="412.04" y2="1142.5" stroke="#333333" stroke-width="1.1"/>
<text transform="translate(412.04,1161.47) scale(0.42,1)" font-family='"Liberation Sans", sans-serif' font-size="14.2" fill="#4D4D4D" text-anchor="middle" stroke="#4D4D4D" stroke-width="0.5" stroke-linejoin="round">1</text>
<line x1="434.8" y1="1138.5" x2="434.8" y2="1142.5" stroke="#333333" stroke-width="1.1"/>
<text transform="translate(434.8,1161.47) scale(0.42,1)" font-family='"Liberation Sans", sans-serif' font-size="14.2" fill="#4D4D4D" text-anchor="middle" stroke="#4D4D4D" stroke-width="0.5" stroke-linejoin="round">2</text>
<line x1="457.56" y1="1138.5" x2="457.56" y2="1142.5" stroke="#333333" stroke-width="1.1"/>
<text transform="translate(457.56,1161.47) scale(0.42,1)" font-family='"Liberation Sans", sans-serif' font-size="14.2" fill="#4D4D4D" text-anchor="middle" stroke="#4D4D4D" stroke-width="0.5" stroke-linejoin="round">3</text>
<line x1="489.72" y1="1138.5" x2="489.72" y2="1142.5" stroke="#333333" stroke-width="1.1"/>
<text transform="translate(489.72,1161.47) scale(0.42,1)" font-family='"Liberation Sans", sans-serif' font-size="14.2" fill="#4D4D4D" text-anchor="middle" stroke="#4D4D4D" stroke-width="0.5" stroke-linejoin="round">1</text>
<line x1="512.45" y1="1138.5" x2="512.45" y2="1142.5" stroke="#333333" stroke-width="1.1"/>
<text transform="translate(512.45,1161.47) scale(0.42,1)" font-family='"Liberation Sans", sans-serif' font-size="14.2" fill="#4D4D4D" text-anchor="middle" stroke="#4D4D4D" stroke-width="0.5" stroke-linejoin="round">2</text>
<line x1="535.18" y1="1138.5" x2="535.18" y2="1142.5" stroke="#333333" stroke-width="1.1"/>
<text transform="translate(535.18,1161.47) scale(0.42,1)" font-family='"Liberation Sans", sans-serif' font-size="14.2" fill="#4D4D4D" text-anchor="middle" stroke="#4D4D4D" stroke-width="0.5" stroke-linejoin="round">3</text>
<line x1="566.54" y1="1138.5" x2="566.54" y2="1142.5" stroke="#333333" stroke-width="1.1"/>
<text transform="translate(566.54,1161.47) scale(0.42,1)" font-family='"Liberation Sans", sans-serif' font-size="14.2" fill="#4D4D4D" text-anchor="middle" stroke="#4D4D4D" stroke-width="0.5" stroke-linejoin="round">1</text>
<line x1="589.3" y1="1138.5" x2="589.3" y2="1142.5" stroke="#333333" stroke-width="1.1"/>
<text transform="translate(589.3,1161.47) scale(0.42,1)" font-family='"Liberation Sans", sans-serif' font-size="14.2" fill="#4D4D4D" text-anchor="middle" stroke="#4D4D4D" stroke-width="0.5" stroke-linejoin="round">2</text>
<line x1="612.06" y1="1138.5" x2="612.06" y2="1142.5" stroke="#333333" stroke-width="1.1"/>
<text transform="translate(612.06,1161.47) scale(0.42,1)" font-family='"Liberation Sans", sans-serif' font-size="14.2" fill="#4D4D4D" text-anchor="middle" stroke="#4D4D4D" stroke-width="0.5" stroke-linejoin="round">3</text>
<text transform="translate(512.4,1181.5) scale(0.42,1)" font-family='"Liberation Sans", sans-serif' font-size="17.7" fill="#000" text-anchor="middle" stroke="#000" stroke-width="0.5" stroke-linejoin="round">The studied groups</text>
<text transform="translate(381.6,887.9) scale(0.42,1) rotate(-90)" font-family='"Liberation Sans", sans-serif' font-size="17.7" fill="#000" text-anchor="middle" stroke="#000" stroke-width="0.2" stroke-linejoin="round">Vitamin D concentrations (ng/ml)</text>
<defs><linearGradient id="gD" x1="0" y1="0" x2="0" y2="1"><stop offset="0" stop-color="#56B1F7"/><stop offset="0.25" stop-color="#448DC6"/><stop offset="0.5" stop-color="#336A98"/><stop offset="0.75" stop-color="#22496C"/><stop offset="1" stop-color="#132B43"/></linearGradient></defs>
<rect x="637.6" y="833.8" width="12" height="139.8" fill="url(#gD)"/>
<text transform="translate(653.5,841.27) scale(0.42,1)" font-family='"Liberation Sans", sans-serif' font-size="14.2" fill="#1A1A1A" text-anchor="start" stroke="#1A1A1A" stroke-width="0.5" stroke-linejoin="round">3.0</text>
<line x1="637.6" y1="868.75" x2="639.6" y2="868.75" stroke="#fff" stroke-width="0.8"/>
<line x1="647.6" y1="868.75" x2="649.6" y2="868.75" stroke="#fff" stroke-width="0.8"/>
<text transform="translate(653.5,876.22) scale(0.42,1)" font-family='"Liberation Sans", sans-serif' font-size="14.2" fill="#1A1A1A" text-anchor="start" stroke="#1A1A1A" stroke-width="0.5" stroke-linejoin="round">2.5</text>
<line x1="637.6" y1="903.7" x2="639.6" y2="903.7" stroke="#fff" stroke-width="0.8"/>
<line x1="647.6" y1="903.7" x2="649.6" y2="903.7" stroke="#fff" stroke-width="0.8"/>
<text transform="translate(653.5,911.17) scale(0.42,1)" font-family='"Liberation Sans", sans-serif' font-size="14.2" fill="#1A1A1A" text-anchor="start" stroke="#1A1A1A" stroke-width="0.5" stroke-linejoin="round">2.0</text>
<line x1="637.6" y1="938.65" x2="639.6" y2="938.65" stroke="#fff" stroke-width="0.8"/>
<line x1="647.6" y1="938.65" x2="649.6" y2="938.65" stroke="#fff" stroke-width="0.8"/>
<text transform="translate(653.5,946.12) scale(0.42,1)" font-family='"Liberation Sans", sans-serif' font-size="14.2" fill="#1A1A1A" text-anchor="start" stroke="#1A1A1A" stroke-width="0.5" stroke-linejoin="round">1.5</text>
<text transform="translate(653.5,981.07) scale(0.42,1)" font-family='"Liberation Sans", sans-serif' font-size="14.2" fill="#1A1A1A" text-anchor="start" stroke="#1A1A1A" stroke-width="0.5" stroke-linejoin="round">1.0</text>
<text transform="translate(637.8,822.7) scale(0.42,1)" font-family='"Liberation Sans", sans-serif' font-size="17.7" fill="#000" text-anchor="start" stroke="#000" stroke-width="0.5" stroke-linejoin="round">HDL_groups</text>
<line x1="412.2" y1="803.5" x2="412.2" y2="1117" stroke="#5f5f5f" stroke-width="1.1"/>
<g transform="translate(412.2,0) scale(0.42,1)">
<path d="M0,803.5 L1.4,804 L1.4,804.8 L1.4,805.6 L1.4,806.5 L1.4,807.3 L1.4,808.1 L1.4,808.9 L1.4,809.8 L1.4,810.6 L1.4,811.4 L1.4,812.2 L1.4,813.1 L1.4,813.9 L1.4,814.7 L1.4,815.5 L1.4,816.4 L1.4,817.2 L1.4,818 L1.3,818.8 L1.1,819.6 L0.7,820.4 L0.5,821.2 L0.4,822 L0.4,822.8 L0.4,823.6 L0.4,824.4 L0.4,825.2 L0.4,826 L0.4,826.8 L0.4,827.6 L0.4,828.4 L0.4,829.2 L0.4,830 L0.4,830.8 L0.4,831.6 L0.4,832.4 L0.4,833.2 L0.4,834 L0.4,834.8 L0.4,835.6 L0.4,836.4 L0.4,837.2 L0.4,838 L0.4,838.8 L0.4,839.6 L0.4,840.4 L0.4,841.2 L0.4,842 L0.4,842.8 L0.4,843.6 L0.4,844.4 L0.4,845.2 L0.4,846 L0.4,846.8 L0.4,847.6 L0.4,848.4 L0.4,849.2 L0.4,850 L0.4,850.8 L0.4,851.6 L0.4,852.4 L0.4,853.2 L0.4,854 L0.4,854.8 L0.4,855.6 L0.4,856.4 L0.4,857.2 L0.4,858 L0.4,858.8 L0.4,859.6 L0.4,860.4 L0.4,861.2 L0.4,862 L0.4,862.8 L0.4,863.6 L0.4,864.4 L0.4,865.2 L0.4,866 L0.4,866.9 L0.5,867.8 L0.7,868.7 L0.8,869.5 L1,870.4 L1.2,871.3 L1.3,872.2 L1.4,873.1 L1.5,873.9 L1.5,874.7 L1.6,875.6 L1.6,876.4 L1.6,877.2 L1.7,878 L1.7,878.8 L1.7,879.6 L1.7,880.5 L1.7,881.3 L1.8,882.1 L1.8,882.9 L1.8,883.7 L1.8,884.5 L1.8,885.4 L1.9,886.2 L1.9,887 L1.9,887.8 L1.9,888.6 L2,889.4 L2,890.2 L2,891.1 L2.1,891.9 L2.1,892.7 L2.2,893.5 L2.4,894.4 L2.6,895.2 L2.8,896.1 L3,896.9 L3.2,897.8 L3.4,898.6 L3.5,899.5 L3.6,900.3 L3.5,901.1 L3.3,901.9 L3.1,902.8 L2.9,903.6 L2.6,904.4 L2.4,905.2 L2.2,906.1 L2.1,906.9 L2.1,907.7 L2.2,908.5 L2.2,909.3 L2.2,910.2 L2.2,911 L2.2,911.8 L2.2,912.6 L2.3,913.4 L2.3,914.2 L2.3,915 L2.4,915.9 L2.4,916.7 L2.5,917.5 L2.5,918.3 L2.6,919.1 L2.6,919.9 L2.7,920.8 L2.7,921.6 L2.8,922.4 L2.9,923.2 L2.9,924 L3.1,924.8 L3.2,925.7 L3.4,926.5 L3.6,927.3 L3.8,928.1 L4,928.9 L4.3,929.8 L4.5,930.6 L4.8,931.4 L5,932.2 L5.2,933 L5.5,933.8 L5.6,934.7 L5.8,935.5 L6,936.3 L6.1,937.1 L6.2,937.9 L6.3,938.8 L6.5,939.6 L6.6,940.4 L6.7,941.2 L6.8,942 L6.9,942.8 L7,943.7 L7.1,944.5 L7.2,945.3 L7.2,946.1 L7.3,946.9 L7.3,947.8 L7.4,948.6 L7.4,949.4 L7.4,950.2 L7.4,951 L7.4,951.9 L7.4,952.7 L7.4,953.5 L7.3,954.3 L7.3,955.1 L7.3,955.9 L7.3,956.8 L7.3,957.6 L7.3,958.4 L7.3,959.2 L7.2,960 L7.2,960.8 L7.2,961.6 L7.2,962.5 L7.2,963.3 L7.2,964.1 L7.2,964.9 L7.2,965.7 L7.2,966.5 L7.1,967.4 L7.1,968.2 L7.1,969 L7.2,969.8 L7.4,970.6 L7.7,971.4 L8,972.2 L8.4,973.1 L8.9,973.9 L9.3,974.7 L9.8,975.5 L10.3,976.3 L10.8,977.1 L11.5,977.9 L12.2,978.8 L12.9,979.6 L13.6,980.4 L14.2,981.2 L14.8,982 L15.3,982.9 L15.8,983.7 L16.3,984.5 L16.8,985.4 L17.3,986.2 L17.7,987.1 L18.1,988 L18.5,988.8 L18.8,989.6 L19,990.5 L19.3,991.4 L19.5,992.2 L19.7,993.1 L19.9,994 L20,994.9 L20.2,995.7 L20.3,996.6 L20.4,997.5 L20.5,998.3 L20.5,999.2 L20.4,1000.1 L20.2,1001 L19.9,1001.8 L19.6,1002.7 L19.2,1003.6 L18.8,1004.5 L18.4,1005.4 L18.1,1006.2 L17.9,1007.1 L17.9,1008 L17.9,1008.8 L17.9,1009.7 L17.9,1010.5 L17.9,1011.4 L17.9,1012.2 L17.9,1013 L17.9,1013.9 L17.9,1014.7 L18,1015.5 L18,1016.4 L18,1017.2 L18.1,1018.1 L18.1,1018.9 L18.2,1019.8 L18.4,1020.6 L18.7,1021.5 L19.1,1022.4 L19.5,1023.2 L19.9,1024.1 L20.4,1025 L20.8,1025.9 L21.1,1026.7 L21.4,1027.6 L21.7,1028.4 L21.9,1029.3 L22.2,1030.1 L22.4,1031 L22.7,1031.8 L22.9,1032.6 L23.1,1033.5 L23.3,1034.3 L23.5,1035.1 L23.6,1036 L23.7,1036.8 L23.8,1037.7 L23.8,1038.5 L23.8,1039.3 L23.7,1040.2 L23.7,1041 L23.6,1041.9 L23.5,1042.7 L23.4,1043.5 L23.3,1044.4 L23.2,1045.2 L23.1,1046 L23,1046.9 L22.9,1047.7 L22.9,1048.6 L22.9,1049.4 L22.9,1050.2 L22.9,1051 L22.9,1051.8 L23,1052.7 L23,1053.5 L23.1,1054.3 L23.1,1055.1 L23.2,1055.9 L23.2,1056.7 L23.3,1057.6 L23.3,1058.4 L23.3,1059.2 L23.3,1060 L23.3,1060.8 L23.3,1061.7 L23.2,1062.5 L23.2,1063.3 L23.1,1064.1 L23,1065 L22.9,1065.8 L22.7,1066.6 L22.5,1067.5 L22.3,1068.3 L22,1069.2 L21.7,1070 L21.3,1070.9 L21,1071.7 L20.5,1072.5 L20.1,1073.4 L19.5,1074.2 L18.9,1075 L18.3,1075.8 L17.7,1076.7 L17.1,1077.5 L16.5,1078.3 L15.9,1079.2 L15.2,1080 L14.5,1080.9 L13.9,1081.7 L13.3,1082.6 L12.9,1083.4 L12.4,1084.2 L12.1,1085.1 L11.7,1085.9 L11.4,1086.7 L11.1,1087.5 L10.8,1088.4 L10.5,1089.2 L10.2,1090 L9.8,1090.9 L9.5,1091.7 L9.2,1092.5 L8.9,1093.3 L8.6,1094.2 L8.3,1095 L8.1,1095.8 L7.9,1096.7 L7.7,1097.5 L7.5,1098.4 L7.3,1099.2 L7.1,1100.1 L6.9,1100.9 L6.7,1101.7 L6.5,1102.6 L6.3,1103.4 L6.1,1104.2 L5.9,1105 L5.7,1105.9 L5.5,1106.7 L5.3,1107.5 L5.1,1108.4 L5,1109.2 L4.8,1110.1 L4.6,1110.9 L4.5,1111.8 L4.3,1112.6 L4.1,1113.5 L4,1114.4 L3.8,1115.3 L3.3,1116.2 L0,1117 L0,1117 L-3.3,1116.2 L-3.8,1115.3 L-4,1114.4 L-4.1,1113.5 L-4.3,1112.6 L-4.5,1111.8 L-4.6,1110.9 L-4.8,1110.1 L-5,1109.2 L-5.1,1108.4 L-5.3,1107.5 L-5.5,1106.7 L-5.7,1105.9 L-5.9,1105 L-6.1,1104.2 L-6.3,1103.4 L-6.5,1102.6 L-6.7,1101.7 L-6.9,1100.9 L-7.1,1100.1 L-7.3,1099.2 L-7.5,1098.4 L-7.7,1097.5 L-7.9,1096.7 L-8.1,1095.8 L-8.3,1095 L-8.6,1094.2 L-8.9,1093.3 L-9.2,1092.5 L-9.5,1091.7 L-9.8,1090.9 L-10.2,1090 L-10.5,1089.2 L-10.8,1088.4 L-11.1,1087.5 L-11.4,1086.7 L-11.7,1085.9 L-12.1,1085.1 L-12.4,1084.2 L-12.9,1083.4 L-13.3,1082.6 L-13.9,1081.7 L-14.5,1080.9 L-15.2,1080 L-15.9,1079.2 L-16.5,1078.3 L-17.1,1077.5 L-17.7,1076.7 L-18.3,1075.8 L-18.9,1075 L-19.5,1074.2 L-20.1,1073.4 L-20.5,1072.5 L-21,1071.7 L-21.3,1070.9 L-21.7,1070 L-22,1069.2 L-22.3,1068.3 L-22.5,1067.5 L-22.7,1066.6 L-22.9,1065.8 L-23,1065 L-23.1,1064.1 L-23.2,1063.3 L-23.2,1062.5 L-23.3,1061.7 L-23.3,1060.8 L-23.3,1060 L-23.3,1059.2 L-23.3,1058.4 L-23.3,1057.6 L-23.2,1056.7 L-23.2,1055.9 L-23.1,1055.1 L-23.1,1054.3 L-23,1053.5 L-23,1052.7 L-22.9,1051.8 L-22.9,1051 L-22.9,1050.2 L-22.9,1049.4 L-22.9,1048.6 L-22.9,1047.7 L-23,1046.9 L-23.1,1046 L-23.2,1045.2 L-23.3,1044.4 L-23.4,1043.5 L-23.5,1042.7 L-23.6,1041.9 L-23.7,1041 L-23.7,1040.2 L-23.8,1039.3 L-23.8,1038.5 L-23.8,1037.7 L-23.7,1036.8 L-23.6,1036 L-23.5,1035.1 L-23.3,1034.3 L-23.1,1033.5 L-22.9,1032.6 L-22.7,1031.8 L-22.4,1031 L-22.2,1030.1 L-21.9,1029.3 L-21.7,1028.4 L-21.4,1027.6 L-21.1,1026.7 L-20.8,1025.9 L-20.4,1025 L-19.9,1024.1 L-19.5,1023.2 L-19.1,1022.4 L-18.7,1021.5 L-18.4,1020.6 L-18.2,1019.8 L-18.1,1018.9 L-18.1,1018.1 L-18,1017.2 L-18,1016.4 L-18,1015.5 L-17.9,1014.7 L-17.9,1013.9 L-17.9,1013 L-17.9,1012.2 L-17.9,1011.4 L-17.9,1010.5 L-17.9,1009.7 L-17.9,1008.8 L-17.9,1008 L-17.9,1007.1 L-18.1,1006.2 L-18.4,1005.4 L-18.8,1004.5 L-19.2,1003.6 L-19.6,1002.7 L-19.9,1001.8 L-20.2,1001 L-20.4,1000.1 L-20.5,999.2 L-20.5,998.3 L-20.4,997.5 L-20.3,996.6 L-20.2,995.7 L-20,994.9 L-19.9,994 L-19.7,993.1 L-19.5,992.2 L-19.3,991.4 L-19,990.5 L-18.8,989.6 L-18.5,988.8 L-18.1,988 L-17.7,987.1 L-17.3,986.2 L-16.8,985.4 L-16.3,984.5 L-15.8,983.7 L-15.3,982.9 L-14.8,982 L-14.2,981.2 L-13.6,980.4 L-12.9,979.6 L-12.2,978.8 L-11.5,977.9 L-10.8,977.1 L-10.3,976.3 L-9.8,975.5 L-9.3,974.7 L-8.9,973.9 L-8.4,973.1 L-8,972.2 L-7.7,971.4 L-7.4,970.6 L-7.2,969.8 L-7.1,969 L-7.1,968.2 L-7.1,967.4 L-7.2,966.5 L-7.2,965.7 L-7.2,964.9 L-7.2,964.1 L-7.2,963.3 L-7.2,962.5 L-7.2,961.6 L-7.2,960.8 L-7.2,960 L-7.3,959.2 L-7.3,958.4 L-7.3,957.6 L-7.3,956.8 L-7.3,955.9 L-7.3,955.1 L-7.3,954.3 L-7.4,953.5 L-7.4,952.7 L-7.4,951.9 L-7.4,951 L-7.4,950.2 L-7.4,949.4 L-7.4,948.6 L-7.3,947.8 L-7.3,946.9 L-7.2,946.1 L-7.2,945.3 L-7.1,944.5 L-7,943.7 L-6.9,942.8 L-6.8,942 L-6.7,941.2 L-6.6,940.4 L-6.5,939.6 L-6.3,938.8 L-6.2,937.9 L-6.1,937.1 L-6,936.3 L-5.8,935.5 L-5.6,934.7 L-5.5,933.8 L-5.2,933 L-5,932.2 L-4.8,931.4 L-4.5,930.6 L-4.3,929.8 L-4,928.9 L-3.8,928.1 L-3.6,927.3 L-3.4,926.5 L-3.2,925.7 L-3.1,924.8 L-2.9,924 L-2.9,923.2 L-2.8,922.4 L-2.7,921.6 L-2.7,920.8 L-2.6,919.9 L-2.6,919.1 L-2.5,918.3 L-2.5,917.5 L-2.4,916.7 L-2.4,915.9 L-2.3,915 L-2.3,914.2 L-2.3,913.4 L-2.2,912.6 L-2.2,911.8 L-2.2,911 L-2.2,910.2 L-2.2,909.3 L-2.2,908.5 L-2.1,907.7 L-2.1,906.9 L-2.2,906.1 L-2.4,905.2 L-2.6,904.4 L-2.9,903.6 L-3.1,902.8 L-3.3,901.9 L-3.5,901.1 L-3.6,900.3 L-3.5,899.5 L-3.4,898.6 L-3.2,897.8 L-3,896.9 L-2.8,896.1 L-2.6,895.2 L-2.4,894.4 L-2.2,893.5 L-2.1,892.7 L-2.1,891.9 L-2,891.1 L-2,890.2 L-2,889.4 L-1.9,888.6 L-1.9,887.8 L-1.9,887 L-1.9,886.2 L-1.8,885.4 L-1.8,884.5 L-1.8,883.7 L-1.8,882.9 L-1.8,882.1 L-1.7,881.3 L-1.7,880.5 L-1.7,879.6 L-1.7,878.8 L-1.7,878 L-1.6,877.2 L-1.6,876.4 L-1.6,875.6 L-1.5,874.7 L-1.5,873.9 L-1.4,873.1 L-1.3,872.2 L-1.2,871.3 L-1,870.4 L-0.8,869.5 L-0.7,868.7 L-0.5,867.8 L-0.4,866.9 L-0.4,866 L-0.4,865.2 L-0.4,864.4 L-0.4,863.6 L-0.4,862.8 L-0.4,862 L-0.4,861.2 L-0.4,860.4 L-0.4,859.6 L-0.4,858.8 L-0.4,858 L-0.4,857.2 L-0.4,856.4 L-0.4,855.6 L-0.4,854.8 L-0.4,854 L-0.4,853.2 L-0.4,852.4 L-0.4,851.6 L-0.4,850.8 L-0.4,850 L-0.4,849.2 L-0.4,848.4 L-0.4,847.6 L-0.4,846.8 L-0.4,846 L-0.4,845.2 L-0.4,844.4 L-0.4,843.6 L-0.4,842.8 L-0.4,842 L-0.4,841.2 L-0.4,840.4 L-0.4,839.6 L-0.4,838.8 L-0.4,838 L-0.4,837.2 L-0.4,836.4 L-0.4,835.6 L-0.4,834.8 L-0.4,834 L-0.4,833.2 L-0.4,832.4 L-0.4,831.6 L-0.4,830.8 L-0.4,830 L-0.4,829.2 L-0.4,828.4 L-0.4,827.6 L-0.4,826.8 L-0.4,826 L-0.4,825.2 L-0.4,824.4 L-0.4,823.6 L-0.4,822.8 L-0.4,822 L-0.5,821.2 L-0.7,820.4 L-1.1,819.6 L-1.3,818.8 L-1.4,818 L-1.4,817.2 L-1.4,816.4 L-1.4,815.5 L-1.4,814.7 L-1.4,813.9 L-1.4,813.1 L-1.4,812.2 L-1.4,811.4 L-1.4,810.6 L-1.4,809.8 L-1.4,808.9 L-1.4,808.1 L-1.4,807.3 L-1.4,806.5 L-1.4,805.6 L-1.4,804.8 L-1.4,804 L-0,803.5 Z" fill="#132B43" stroke="#000" stroke-width="1.3" stroke-linejoin="round"/>
<line x1="0" y1="994.7" x2="0" y2="1065.5" stroke="#000" stroke-width="1.9"/>
<line x1="-2.86" y1="994.7" x2="2.86" y2="994.7" stroke="#000" stroke-width="1"/>
<line x1="-2.86" y1="1065.5" x2="2.86" y2="1065.5" stroke="#000" stroke-width="1"/>
<rect x="-4.05" y="1027.7" width="8.1" height="7.4" fill="#000"/>
</g>
<line x1="512.5" y1="662.6" x2="512.5" y2="1112.6" stroke="#5f5f5f" stroke-width="1.1"/>
<g transform="translate(512.5,0) scale(0.42,1)">
<path d="M0,662.6 L0,663.4 L0,664.2 L0,665 L0,665.8 L0,666.6 L0,667.4 L0,668.2 L0,669 L0,669.8 L0,670.6 L0,671.4 L0,672.2 L0,673 L0,673.8 L0,674.6 L0,675.4 L0,676.2 L0,677 L0,677.8 L0,678.6 L0,679.4 L0,680.2 L0,681 L0,681.8 L0,682.6 L0,683.4 L0,684.2 L0,685 L0,685.9 L0,686.7 L0,687.5 L0,688.3 L0,689.1 L0,689.9 L0,690.7 L0,691.5 L0,692.3 L0,693.1 L0,693.9 L0,694.7 L0,695.5 L0,696.3 L0,697.1 L0,697.9 L0,698.7 L0,699.5 L0,700.3 L0,701.1 L0,701.9 L0,702.7 L0,703.5 L0,704.3 L0,705.1 L0,705.9 L0,706.7 L0,707.5 L0,708.3 L0,709.1 L0,709.9 L0,710.7 L0,711.5 L0,712.3 L0,713.1 L0,713.9 L0,714.7 L0,715.5 L0,716.3 L0,717.1 L0,717.9 L0,718.7 L0,719.5 L0,720.3 L0,721.1 L0,721.9 L0,722.7 L0,723.5 L0,724.3 L0,725.1 L0,725.9 L0,726.7 L0,727.5 L0,728.3 L0,729.1 L0,729.9 L0,730.8 L0,731.6 L0,732.4 L0,733.2 L0.1,734 L0.1,734.8 L0.1,735.6 L0.1,736.4 L0.1,737.2 L0.1,738 L0.1,738.8 L0.1,739.6 L0.1,740.4 L0.1,741.2 L0.1,742 L0.1,742.8 L0.1,743.6 L0.1,744.4 L0.1,745.2 L0.1,746 L0.1,746.8 L0.1,747.6 L0.1,748.4 L0.1,749.2 L0.1,750 L0.1,750.8 L0.1,751.6 L0.1,752.4 L0.1,753.2 L0.1,754 L0.1,754.8 L0.1,755.6 L0.1,756.4 L0.1,757.2 L0.1,758 L0.1,758.8 L0.1,759.6 L0.1,760.4 L0.1,761.2 L0.1,762 L0.1,762.8 L0.1,763.6 L0.1,764.4 L0.1,765.2 L0.1,766 L0.1,766.8 L0.1,767.6 L0.1,768.4 L0.1,769.2 L0.1,770 L0.1,770.8 L0.1,771.6 L0.1,772.4 L0.1,773.2 L0.1,774 L0.1,774.8 L0.1,775.7 L0.1,776.5 L0.1,777.3 L0.1,778.1 L0.1,778.9 L0.1,779.7 L0.1,780.5 L0.1,781.3 L0.1,782.1 L0.1,782.9 L0.1,783.7 L0.1,784.5 L0.1,785.3 L0.1,786.1 L0.1,786.9 L0.1,787.7 L0.1,788.5 L0.1,789.3 L0.1,790.1 L0.1,790.9 L0.1,791.7 L0.1,792.5 L0.1,793.3 L0.1,794.1 L0.1,794.9 L0.1,795.7 L0.1,796.5 L0.1,797.3 L0.1,798.1 L0.1,798.9 L0.1,799.7 L0.1,800.5 L0.1,801.3 L0.1,802.1 L0.1,802.9 L0.1,803.7 L0.1,804.5 L0.1,805.3 L0.1,806.1 L0.1,806.9 L0.1,807.7 L0.1,808.5 L0.1,809.3 L0.1,810.1 L0.1,810.9 L0.1,811.7 L0.1,812.5 L0.1,813.3 L0.1,814.1 L0.1,814.9 L0.2,815.7 L0.2,816.5 L0.2,817.3 L0.2,818.1 L0.2,818.9 L0.2,819.7 L0.2,820.6 L0.2,821.4 L0.2,822.2 L0.2,823 L0.2,823.8 L0.2,824.6 L0.2,825.4 L0.2,826.2 L0.2,827 L0.2,827.8 L0.2,828.6 L0.2,829.4 L0.2,830.2 L0.2,831 L0.2,831.8 L0.2,832.6 L0.2,833.4 L0.2,834.2 L0.2,835 L0.2,835.8 L0.2,836.6 L0.2,837.4 L0.2,838.2 L0.2,839 L0.2,839.8 L0.2,840.6 L0.2,841.4 L0.2,842.2 L0.2,843 L1.3,844.1 L2.4,845.3 L2.4,846.1 L2.4,847 L2.4,847.8 L2.4,848.6 L2.4,849.5 L2.4,850.3 L2.4,851.1 L2.4,852 L2.4,852.8 L2.4,853.6 L2.4,854.5 L2.4,855.3 L2.4,856.2 L2.4,857 L2.4,857.8 L2.4,858.7 L2.4,859.5 L2.4,860.3 L2.4,861.2 L2.4,862 L1.3,863 L0.2,864 L0.2,864.8 L0.2,865.6 L0.2,866.4 L0.2,867.2 L0.2,868 L0.2,868.8 L0.2,869.6 L0.2,870.4 L0.2,871.2 L0.2,872 L0.2,872.8 L0.2,873.6 L0.2,874.4 L0.2,875.2 L0.2,876 L0.2,876.8 L0.2,877.6 L0.2,878.4 L0.2,879.2 L0.2,880 L0.2,880.8 L0.2,881.6 L0.2,882.4 L0.2,883.2 L0.2,884 L1,885 L1.9,886 L2.2,886.8 L2.5,887.7 L2.7,888.5 L2.9,889.3 L3.1,890.1 L3.3,891 L3.4,891.8 L3.5,892.6 L3.5,893.5 L3.6,894.3 L3.6,895.1 L3.6,895.9 L3.6,896.7 L3.6,897.6 L3.6,898.4 L3.6,899.2 L3.6,900 L3.7,900.8 L3.7,901.6 L3.7,902.4 L3.7,903.3 L3.7,904.1 L3.7,904.9 L3.7,905.7 L3.7,906.5 L3.7,907.3 L3.7,908.1 L3.7,909 L3.7,909.8 L3.7,910.6 L3.7,911.4 L3.7,912.2 L3.7,913 L3.7,913.9 L3.7,914.7 L3.7,915.5 L3.7,916.3 L3.7,917.1 L3.7,917.9 L3.8,918.7 L3.8,919.6 L3.8,920.4 L3.8,921.2 L3.8,922 L4,922.8 L4.3,923.6 L4.7,924.4 L5.1,925.2 L5.2,926 L5.2,926.8 L5.2,927.6 L5.2,928.4 L5.2,929.2 L5.2,930 L5.2,930.8 L5.2,931.6 L5.2,932.4 L5.2,933.2 L5.2,934.1 L5.2,934.9 L5.2,935.7 L5.2,936.5 L5.2,937.3 L5.2,938.1 L5.2,938.9 L5.2,939.7 L5.2,940.5 L5.2,941.3 L5.2,942.1 L5.2,942.9 L5.1,943.7 L5.1,944.5 L5.1,945.3 L5.1,946.1 L5.1,946.9 L5.1,947.8 L5.1,948.6 L5.1,949.4 L5.1,950.2 L5.1,951 L5,951.8 L5,952.6 L5,953.4 L5,954.2 L5,955 L5,955.8 L4.9,956.7 L4.9,957.5 L4.8,958.4 L4.8,959.2 L4.8,960.1 L4.8,960.9 L4.9,961.8 L5.2,962.7 L5.6,963.6 L6.1,964.5 L6.6,965.4 L7.1,966.3 L7.6,967.2 L8.1,968 L8.7,968.9 L9.3,969.7 L9.9,970.6 L10.5,971.4 L11.1,972.3 L11.8,973.1 L12.4,974 L13,974.9 L13.7,975.7 L14.4,976.6 L15.1,977.5 L15.8,978.4 L16.5,979.2 L17.2,980.1 L17.8,981 L18.3,981.8 L18.8,982.7 L19.2,983.5 L19.6,984.4 L20,985.2 L20.4,986.1 L20.8,986.9 L21.2,987.7 L21.5,988.6 L21.8,989.4 L22.1,990.2 L22.3,991.1 L22.5,991.9 L22.6,992.8 L22.6,993.6 L22.6,994.4 L22.4,995.3 L22.1,996.1 L21.8,997 L21.4,997.8 L21,998.7 L20.6,999.5 L20.3,1000.4 L20,1001.2 L19.8,1002 L19.5,1002.8 L19.2,1003.7 L19,1004.5 L18.7,1005.3 L18.5,1006.1 L18.2,1006.9 L18,1007.7 L17.9,1008.5 L17.7,1009.4 L17.6,1010.2 L17.6,1011 L17.7,1011.8 L17.9,1012.6 L18.2,1013.5 L18.6,1014.3 L19.1,1015.1 L19.6,1015.9 L20.1,1016.7 L20.6,1017.5 L21.1,1018.3 L21.5,1019.2 L21.9,1020 L22.1,1020.8 L22.4,1021.6 L22.6,1022.5 L22.8,1023.3 L23,1024.2 L23.2,1025 L23.4,1025.8 L23.5,1026.7 L23.7,1027.5 L23.8,1028.3 L23.9,1029.2 L24,1030 L24,1030.9 L24,1031.7 L24,1032.6 L24,1033.5 L23.9,1034.3 L23.8,1035.2 L23.7,1036.1 L23.6,1037 L23.4,1037.9 L23.2,1038.7 L23.1,1039.6 L22.9,1040.5 L22.6,1041.3 L22.2,1042.2 L21.7,1043 L21.1,1043.9 L20.5,1044.7 L19.8,1045.6 L19.1,1046.4 L18.3,1047.3 L17.6,1048.1 L16.9,1048.9 L16,1049.7 L15.1,1050.5 L14.2,1051.3 L13.2,1052.2 L12.4,1053 L11.6,1053.8 L11,1054.6 L10.3,1055.5 L9.8,1056.4 L9.3,1057.3 L8.8,1058.2 L8.4,1059.1 L8.1,1060 L7.9,1060.8 L7.6,1061.7 L7.4,1062.5 L7.3,1063.3 L7.1,1064.1 L7,1065 L6.9,1065.8 L6.8,1066.6 L6.8,1067.5 L6.7,1068.3 L6.7,1069.1 L6.6,1070 L6.6,1070.8 L6.6,1071.7 L6.5,1072.5 L6.5,1073.3 L6.4,1074.2 L6.4,1075 L6.3,1075.8 L6.3,1076.7 L6.2,1077.5 L6,1078.3 L5.8,1079.2 L5.6,1080 L5.3,1080.9 L5,1081.7 L4.7,1082.6 L4.5,1083.4 L4.4,1084.2 L4.3,1085.1 L4.2,1085.9 L4.1,1086.7 L4,1087.5 L3.9,1088.4 L3.8,1089.2 L3.7,1090 L3.6,1090.8 L3.5,1091.7 L3.4,1092.5 L3.3,1093.3 L3.2,1094.1 L3.1,1094.9 L2.9,1095.8 L2.7,1096.6 L2.4,1097.4 L0.5,1099 L0.4,1099.8 L0.3,1100.7 L0.3,1101.5 L0.3,1102.4 L0.2,1103.2 L0.2,1104.1 L0.2,1105 L0.1,1105.8 L0.1,1106.6 L0.1,1107.5 L0.1,1108.3 L0.1,1109.2 L0.1,1110 L0,1110.9 L0,1111.8 L0,1112.6 L0,1112.6 L-0,1111.8 L-0,1110.9 L-0.1,1110 L-0.1,1109.2 L-0.1,1108.3 L-0.1,1107.5 L-0.1,1106.6 L-0.1,1105.8 L-0.2,1105 L-0.2,1104.1 L-0.2,1103.2 L-0.3,1102.4 L-0.3,1101.5 L-0.3,1100.7 L-0.4,1099.8 L-0.5,1099 L-2.4,1097.4 L-2.7,1096.6 L-2.9,1095.8 L-3.1,1094.9 L-3.2,1094.1 L-3.3,1093.3 L-3.4,1092.5 L-3.5,1091.7 L-3.6,1090.8 L-3.7,1090 L-3.8,1089.2 L-3.9,1088.4 L-4,1087.5 L-4.1,1086.7 L-4.2,1085.9 L-4.3,1085.1 L-4.4,1084.2 L-4.5,1083.4 L-4.7,1082.6 L-5,1081.7 L-5.3,1080.9 L-5.6,1080 L-5.8,1079.2 L-6,1078.3 L-6.2,1077.5 L-6.3,1076.7 L-6.3,1075.8 L-6.4,1075 L-6.4,1074.2 L-6.5,1073.3 L-6.5,1072.5 L-6.6,1071.7 L-6.6,1070.8 L-6.6,1070 L-6.7,1069.1 L-6.7,1068.3 L-6.8,1067.5 L-6.8,1066.6 L-6.9,1065.8 L-7,1065 L-7.1,1064.1 L-7.3,1063.3 L-7.4,1062.5 L-7.6,1061.7 L-7.9,1060.8 L-8.1,1060 L-8.4,1059.1 L-8.8,1058.2 L-9.3,1057.3 L-9.8,1056.4 L-10.3,1055.5 L-11,1054.6 L-11.6,1053.8 L-12.4,1053 L-13.2,1052.2 L-14.2,1051.3 L-15.1,1050.5 L-16,1049.7 L-16.9,1048.9 L-17.6,1048.1 L-18.3,1047.3 L-19.1,1046.4 L-19.8,1045.6 L-20.5,1044.7 L-21.1,1043.9 L-21.7,1043 L-22.2,1042.2 L-22.6,1041.3 L-22.9,1040.5 L-23.1,1039.6 L-23.2,1038.7 L-23.4,1037.9 L-23.6,1037 L-23.7,1036.1 L-23.8,1035.2 L-23.9,1034.3 L-24,1033.5 L-24,1032.6 L-24,1031.7 L-24,1030.9 L-24,1030 L-23.9,1029.2 L-23.8,1028.3 L-23.7,1027.5 L-23.5,1026.7 L-23.4,1025.8 L-23.2,1025 L-23,1024.2 L-22.8,1023.3 L-22.6,1022.5 L-22.4,1021.6 L-22.1,1020.8 L-21.9,1020 L-21.5,1019.2 L-21.1,1018.3 L-20.6,1017.5 L-20.1,1016.7 L-19.6,1015.9 L-19.1,1015.1 L-18.6,1014.3 L-18.2,1013.5 L-17.9,1012.6 L-17.7,1011.8 L-17.6,1011 L-17.6,1010.2 L-17.7,1009.4 L-17.9,1008.5 L-18,1007.7 L-18.2,1006.9 L-18.5,1006.1 L-18.7,1005.3 L-19,1004.5 L-19.2,1003.7 L-19.5,1002.8 L-19.8,1002 L-20,1001.2 L-20.3,1000.4 L-20.6,999.5 L-21,998.7 L-21.4,997.8 L-21.8,997 L-22.1,996.1 L-22.4,995.3 L-22.6,994.4 L-22.6,993.6 L-22.6,992.8 L-22.5,991.9 L-22.3,991.1 L-22.1,990.2 L-21.8,989.4 L-21.5,988.6 L-21.2,987.7 L-20.8,986.9 L-20.4,986.1 L-20,985.2 L-19.6,984.4 L-19.2,983.5 L-18.8,982.7 L-18.3,981.8 L-17.8,981 L-17.2,980.1 L-16.5,979.2 L-15.8,978.4 L-15.1,977.5 L-14.4,976.6 L-13.7,975.7 L-13,974.9 L-12.4,974 L-11.8,973.1 L-11.1,972.3 L-10.5,971.4 L-9.9,970.6 L-9.3,969.7 L-8.7,968.9 L-8.1,968 L-7.6,967.2 L-7.1,966.3 L-6.6,965.4 L-6.1,964.5 L-5.6,963.6 L-5.2,962.7 L-4.9,961.8 L-4.8,960.9 L-4.8,960.1 L-4.8,959.2 L-4.8,958.4 L-4.9,957.5 L-4.9,956.7 L-5,955.8 L-5,955 L-5,954.2 L-5,953.4 L-5,952.6 L-5,951.8 L-5.1,951 L-5.1,950.2 L-5.1,949.4 L-5.1,948.6 L-5.1,947.8 L-5.1,946.9 L-5.1,946.1 L-5.1,945.3 L-5.1,944.5 L-5.1,943.7 L-5.2,942.9 L-5.2,942.1 L-5.2,941.3 L-5.2,940.5 L-5.2,939.7 L-5.2,938.9 L-5.2,938.1 L-5.2,937.3 L-5.2,936.5 L-5.2,935.7 L-5.2,934.9 L-5.2,934.1 L-5.2,933.2 L-5.2,932.4 L-5.2,931.6 L-5.2,930.8 L-5.2,930 L-5.2,929.2 L-5.2,928.4 L-5.2,927.6 L-5.2,926.8 L-5.2,926 L-5.1,925.2 L-4.7,924.4 L-4.3,923.6 L-4,922.8 L-3.8,922 L-3.8,921.2 L-3.8,920.4 L-3.8,919.6 L-3.8,918.7 L-3.7,917.9 L-3.7,917.1 L-3.7,916.3 L-3.7,915.5 L-3.7,914.7 L-3.7,913.9 L-3.7,913 L-3.7,912.2 L-3.7,911.4 L-3.7,910.6 L-3.7,909.8 L-3.7,909 L-3.7,908.1 L-3.7,907.3 L-3.7,906.5 L-3.7,905.7 L-3.7,904.9 L-3.7,904.1 L-3.7,903.3 L-3.7,902.4 L-3.7,901.6 L-3.7,900.8 L-3.6,900 L-3.6,899.2 L-3.6,898.4 L-3.6,897.6 L-3.6,896.7 L-3.6,895.9 L-3.6,895.1 L-3.6,894.3 L-3.5,893.5 L-3.5,892.6 L-3.4,891.8 L-3.3,891 L-3.1,890.1 L-2.9,889.3 L-2.7,888.5 L-2.5,887.7 L-2.2,886.8 L-1.9,886 L-1,885 L-0.2,884 L-0.2,883.2 L-0.2,882.4 L-0.2,881.6 L-0.2,880.8 L-0.2,880 L-0.2,879.2 L-0.2,878.4 L-0.2,877.6 L-0.2,876.8 L-0.2,876 L-0.2,875.2 L-0.2,874.4 L-0.2,873.6 L-0.2,872.8 L-0.2,872 L-0.2,871.2 L-0.2,870.4 L-0.2,869.6 L-0.2,868.8 L-0.2,868 L-0.2,867.2 L-0.2,866.4 L-0.2,865.6 L-0.2,864.8 L-0.2,864 L-1.3,863 L-2.4,862 L-2.4,861.2 L-2.4,860.3 L-2.4,859.5 L-2.4,858.7 L-2.4,857.8 L-2.4,857 L-2.4,856.2 L-2.4,855.3 L-2.4,854.5 L-2.4,853.6 L-2.4,852.8 L-2.4,852 L-2.4,851.1 L-2.4,850.3 L-2.4,849.5 L-2.4,848.6 L-2.4,847.8 L-2.4,847 L-2.4,846.1 L-2.4,845.3 L-1.3,844.1 L-0.2,843 L-0.2,842.2 L-0.2,841.4 L-0.2,840.6 L-0.2,839.8 L-0.2,839 L-0.2,838.2 L-0.2,837.4 L-0.2,836.6 L-0.2,835.8 L-0.2,835 L-0.2,834.2 L-0.2,833.4 L-0.2,832.6 L-0.2,831.8 L-0.2,831 L-0.2,830.2 L-0.2,829.4 L-0.2,828.6 L-0.2,827.8 L-0.2,827 L-0.2,826.2 L-0.2,825.4 L-0.2,824.6 L-0.2,823.8 L-0.2,823 L-0.2,822.2 L-0.2,821.4 L-0.2,820.6 L-0.2,819.7 L-0.2,818.9 L-0.2,818.1 L-0.2,817.3 L-0.2,816.5 L-0.2,815.7 L-0.1,814.9 L-0.1,814.1 L-0.1,813.3 L-0.1,812.5 L-0.1,811.7 L-0.1,810.9 L-0.1,810.1 L-0.1,809.3 L-0.1,808.5 L-0.1,807.7 L-0.1,806.9 L-0.1,806.1 L-0.1,805.3 L-0.1,804.5 L-0.1,803.7 L-0.1,802.9 L-0.1,802.1 L-0.1,801.3 L-0.1,800.5 L-0.1,799.7 L-0.1,798.9 L-0.1,798.1 L-0.1,797.3 L-0.1,796.5 L-0.1,795.7 L-0.1,794.9 L-0.1,794.1 L-0.1,793.3 L-0.1,792.5 L-0.1,791.7 L-0.1,790.9 L-0.1,790.1 L-0.1,789.3 L-0.1,788.5 L-0.1,787.7 L-0.1,786.9 L-0.1,786.1 L-0.1,785.3 L-0.1,784.5 L-0.1,783.7 L-0.1,782.9 L-0.1,782.1 L-0.1,781.3 L-0.1,780.5 L-0.1,779.7 L-0.1,778.9 L-0.1,778.1 L-0.1,777.3 L-0.1,776.5 L-0.1,775.7 L-0.1,774.8 L-0.1,774 L-0.1,773.2 L-0.1,772.4 L-0.1,771.6 L-0.1,770.8 L-0.1,770 L-0.1,769.2 L-0.1,768.4 L-0.1,767.6 L-0.1,766.8 L-0.1,766 L-0.1,765.2 L-0.1,764.4 L-0.1,763.6 L-0.1,762.8 L-0.1,762 L-0.1,761.2 L-0.1,760.4 L-0.1,759.6 L-0.1,758.8 L-0.1,758 L-0.1,757.2 L-0.1,756.4 L-0.1,755.6 L-0.1,754.8 L-0.1,754 L-0.1,753.2 L-0.1,752.4 L-0.1,751.6 L-0.1,750.8 L-0.1,750 L-0.1,749.2 L-0.1,748.4 L-0.1,747.6 L-0.1,746.8 L-0.1,746 L-0.1,745.2 L-0.1,744.4 L-0.1,743.6 L-0.1,742.8 L-0.1,742 L-0.1,741.2 L-0.1,740.4 L-0.1,739.6 L-0.1,738.8 L-0.1,738 L-0.1,737.2 L-0.1,736.4 L-0.1,735.6 L-0.1,734.8 L-0.1,734 L-0,733.2 L-0,732.4 L-0,731.6 L-0,730.8 L-0,729.9 L-0,729.1 L-0,728.3 L-0,727.5 L-0,726.7 L-0,725.9 L-0,725.1 L-0,724.3 L-0,723.5 L-0,722.7 L-0,721.9 L-0,721.1 L-0,720.3 L-0,719.5 L-0,718.7 L-0,717.9 L-0,717.1 L-0,716.3 L-0,715.5 L-0,714.7 L-0,713.9 L-0,713.1 L-0,712.3 L-0,711.5 L-0,710.7 L-0,709.9 L-0,709.1 L-0,708.3 L-0,707.5 L-0,706.7 L-0,705.9 L-0,705.1 L-0,704.3 L-0,703.5 L-0,702.7 L-0,701.9 L-0,701.1 L-0,700.3 L-0,699.5 L-0,698.7 L-0,697.9 L-0,697.1 L-0,696.3 L-0,695.5 L-0,694.7 L-0,693.9 L-0,693.1 L-0,692.3 L-0,691.5 L-0,690.7 L-0,689.9 L-0,689.1 L-0,688.3 L-0,687.5 L-0,686.7 L-0,685.9 L-0,685 L-0,684.2 L-0,683.4 L-0,682.6 L-0,681.8 L-0,681 L-0,680.2 L-0,679.4 L-0,678.6 L-0,677.8 L-0,677 L-0,676.2 L-0,675.4 L-0,674.6 L-0,673.8 L-0,673 L-0,672.2 L-0,671.4 L-0,670.6 L-0,669.8 L-0,669 L-0,668.2 L-0,667.4 L-0,666.6 L-0,665.8 L-0,665 L-0,664.2 L-0,663.4 L-0,662.6 Z" fill="#336A98" stroke="#000" stroke-width="1.3" stroke-linejoin="round"/>
<line x1="0" y1="985.1" x2="0" y2="1036.3" stroke="#000" stroke-width="1.9"/>
<line x1="-2.86" y1="985.1" x2="2.86" y2="985.1" stroke="#000" stroke-width="1"/>
<line x1="-2.86" y1="1036.3" x2="2.86" y2="1036.3" stroke="#000" stroke-width="1"/>
<rect x="-4.05" y="1008.7" width="8.1" height="7.4" fill="#000"/>
</g>
<line x1="612.6" y1="709.9" x2="612.6" y2="1117.2" stroke="#5f5f5f" stroke-width="1.1"/>
<g transform="translate(612.6,0) scale(0.42,1)">
<path d="M0,709.9 L0,710.7 L0,711.5 L0,712.3 L0,713.1 L0,713.9 L0,714.7 L0,715.5 L0,716.3 L0,717.2 L0,718 L0,718.8 L0,719.6 L0,720.4 L0,721.2 L0,722 L0,722.8 L0,723.6 L0,724.4 L0,725.2 L0,726 L0,726.8 L0,727.6 L0,728.4 L0,729.2 L0,730.1 L0,730.9 L0,731.7 L0,732.5 L0,733.3 L0,734.1 L0.1,734.9 L0.1,735.7 L0.1,736.5 L0.1,737.3 L0.1,738.1 L0.1,738.9 L0.1,739.7 L0.1,740.5 L0.1,741.3 L0.1,742.1 L0.1,743 L0.1,743.8 L0.1,744.6 L0.1,745.4 L0.1,746.2 L0.1,747 L0.1,747.8 L0.1,748.6 L0.1,749.4 L0.1,750.2 L0.1,751 L0.1,751.8 L0.1,752.6 L0.1,753.4 L0.1,754.2 L0.1,755 L0.1,755.8 L0.1,756.7 L0.1,757.5 L0.1,758.3 L0.1,759.1 L0.1,759.9 L0.1,760.7 L0.1,761.5 L0.1,762.3 L0.1,763.1 L0.1,763.9 L0.1,764.7 L0.2,765.5 L0.2,766.3 L0.2,767.1 L0.2,767.9 L0.2,768.7 L0.2,769.6 L0.2,770.4 L0.2,771.2 L0.2,772 L0.2,772.8 L0.2,773.6 L0.2,774.4 L0.2,775.2 L0.2,776 L0.8,777 L1.4,778 L1.4,778.8 L1.4,779.7 L1.4,780.5 L1.4,781.3 L1.4,782.2 L1.4,783 L1.4,783.8 L1.4,784.7 L1.4,785.5 L1.4,786.3 L1.4,787.2 L1.4,788 L1.1,788.8 L0.5,789.7 L0.2,790.5 L0.2,791.3 L0.2,792.1 L0.2,792.9 L0.2,793.7 L0.2,794.5 L0.2,795.3 L0.2,796.1 L0.2,796.9 L0.2,797.7 L0.2,798.6 L0.2,799.4 L0.2,800.2 L0.2,801 L0.2,801.8 L0.2,802.6 L0.2,803.4 L0.2,804.2 L0.2,805 L0.2,805.8 L0.2,806.6 L0.2,807.4 L0.2,808.2 L0.2,809 L0.2,809.8 L0.2,810.6 L0.2,811.4 L0.2,812.2 L0.2,813 L0.2,813.9 L0.2,814.7 L0.2,815.5 L0.2,816.3 L0.2,817.1 L0.2,817.9 L0.2,818.7 L0.2,819.5 L0.2,820.3 L0.2,821.1 L0.2,821.9 L0.2,822.7 L0.2,823.5 L0.2,824.3 L0.2,825.1 L0.2,825.9 L0.2,826.7 L0.2,827.5 L0.2,828.3 L0.2,829.2 L0.2,830 L0.2,830.8 L0.2,831.6 L0.2,832.4 L0.2,833.2 L0.2,834 L0.2,834.8 L0.2,835.6 L0.2,836.4 L0.2,837.2 L0.2,838 L0.2,838.8 L0.2,839.6 L0.2,840.4 L0.2,841.2 L0.2,842 L0.2,842.8 L0.2,843.6 L0.2,844.5 L0.2,845.3 L0.2,846.1 L0.2,846.9 L0.2,847.7 L0.2,848.5 L0.2,849.3 L0.2,850.1 L0.2,850.9 L0.2,851.7 L0.2,852.5 L0.2,853.3 L0.2,854.1 L0.2,854.9 L0.2,855.7 L0.2,856.5 L0.2,857.3 L0.2,858.1 L0.2,858.9 L0.2,859.8 L0.2,860.6 L0.2,861.4 L0.2,862.2 L0.2,863 L0.2,863.8 L0.2,864.6 L0.2,865.4 L0.2,866.2 L0.2,867 L0.7,868 L1.2,869 L1.3,869.8 L1.4,870.6 L1.4,871.4 L1.5,872.2 L1.6,873 L1.6,873.9 L1.7,874.7 L1.7,875.5 L1.8,876.3 L1.8,877.1 L1.9,877.9 L1.9,878.7 L1.9,879.5 L1.9,880.3 L2,881.1 L2,882 L2,882.8 L2,883.6 L2.1,884.4 L2.1,885.2 L2.1,886 L2.1,886.8 L2.2,887.6 L2.2,888.4 L2.2,889.2 L2.2,890.1 L2.2,890.9 L2.3,891.7 L2.3,892.5 L2.3,893.3 L2.4,894.1 L2.4,894.9 L2.5,895.7 L2.5,896.5 L2.5,897.3 L2.6,898.1 L2.6,898.9 L2.7,899.7 L2.7,900.5 L2.7,901.3 L2.8,902.1 L2.8,902.9 L2.8,903.7 L2.9,904.5 L2.9,905.3 L3,906.1 L3,906.9 L3,907.7 L3.1,908.5 L3.1,909.3 L3.2,910.1 L3.2,910.9 L3.2,911.7 L3.3,912.5 L3.3,913.3 L3.4,914.1 L3.4,914.9 L3.4,915.7 L3.5,916.5 L3.5,917.3 L3.6,918.1 L3.6,918.9 L3.7,919.7 L3.7,920.5 L3.7,921.3 L3.8,922.1 L3.8,922.9 L3.8,923.8 L3.9,924.6 L3.9,925.4 L4,926.2 L4,927 L4,927.8 L4.1,928.6 L4.1,929.4 L4.1,930.2 L4.2,931 L4.2,931.8 L4.3,932.6 L4.3,933.4 L4.4,934.2 L4.4,935.1 L4.5,935.9 L4.5,936.7 L4.6,937.5 L4.6,938.3 L4.7,939.1 L4.8,939.9 L4.8,940.7 L4.9,941.6 L5,942.4 L5.1,943.3 L5.2,944.1 L5.3,945 L5.4,945.8 L5.6,946.7 L5.7,947.5 L5.8,948.4 L5.9,949.2 L6.1,950.1 L6.2,950.9 L6.3,951.7 L6.4,952.6 L6.6,953.4 L6.7,954.3 L6.8,955.1 L6.9,955.9 L7,956.8 L7.2,957.6 L7.3,958.4 L7.5,959.3 L7.7,960.1 L7.9,961 L8.1,961.8 L8.4,962.6 L8.7,963.5 L9.1,964.3 L9.5,965.2 L10,966 L10.5,966.8 L11,967.7 L11.6,968.5 L12.1,969.3 L12.7,970.2 L13.3,971 L13.8,971.9 L14.3,972.7 L14.8,973.5 L15.3,974.4 L15.8,975.2 L16.3,976.1 L16.8,976.9 L17.3,977.7 L17.8,978.6 L18.3,979.4 L18.8,980.2 L19.3,981.1 L19.8,981.9 L20.2,982.8 L20.7,983.6 L21.2,984.5 L21.8,985.3 L22.4,986.2 L23,987.1 L23.6,988 L24.1,988.8 L24.6,989.7 L24.9,990.6 L25.2,991.4 L25.2,992.3 L25.2,993.2 L25,994 L24.7,994.9 L24.3,995.8 L23.9,996.6 L23.5,997.5 L23.1,998.4 L22.7,999.3 L22.4,1000.1 L22.1,1001 L21.9,1001.9 L21.7,1002.8 L21.5,1003.6 L21.4,1004.5 L21.2,1005.4 L21,1006.3 L20.9,1007.2 L20.8,1008 L20.7,1008.9 L20.7,1009.8 L20.8,1010.6 L20.9,1011.5 L21,1012.4 L21.2,1013.2 L21.5,1014 L21.7,1014.9 L22,1015.8 L22.3,1016.6 L22.6,1017.5 L22.8,1018.3 L23,1019.1 L23.2,1020 L23.3,1020.9 L23.3,1021.7 L23.3,1022.5 L23.3,1023.4 L23.3,1024.2 L23.2,1025.1 L23.1,1025.9 L23,1026.7 L22.9,1027.6 L22.8,1028.4 L22.7,1029.2 L22.6,1030.1 L22.4,1030.9 L22.3,1031.8 L22.1,1032.6 L21.9,1033.4 L21.6,1034.3 L21.3,1035.1 L20.8,1036 L20.3,1036.8 L19.8,1037.6 L19.2,1038.5 L18.6,1039.3 L17.9,1040.1 L17.3,1041 L16.7,1041.8 L16.1,1042.7 L15.5,1043.5 L14.9,1044.3 L14.3,1045.2 L13.6,1046 L12.9,1046.9 L12.2,1047.7 L11.5,1048.5 L10.8,1049.4 L10.1,1050.2 L9.4,1051 L8.8,1051.9 L8.2,1052.7 L7.6,1053.6 L7.1,1054.4 L6.6,1055.3 L6,1056.3 L5.4,1057.2 L5,1058.1 L4.6,1059.1 L4.5,1060 L4.5,1060.9 L4.5,1061.8 L4.5,1062.7 L4.5,1063.5 L4.5,1064.4 L4.5,1065.3 L4.5,1066.1 L4.5,1066.9 L4.5,1067.7 L4.5,1068.6 L4.5,1069.4 L4.4,1070.2 L4.4,1071 L4.4,1071.8 L4.4,1072.6 L4.3,1073.4 L4.3,1074.2 L4.3,1075.1 L4.2,1075.9 L4.2,1076.7 L4.2,1077.5 L4.1,1078.3 L4.1,1079.1 L4.1,1079.9 L4,1080.7 L4,1081.6 L3.9,1082.4 L3.9,1083.2 L3.8,1084 L3.7,1084.8 L3.7,1085.6 L3.6,1086.4 L3.6,1087.2 L3.5,1088 L3.4,1088.9 L3.3,1089.7 L3.3,1090.5 L3.2,1091.3 L3.1,1092.1 L3,1093 L2.9,1093.8 L2.8,1094.7 L2.7,1095.5 L2.6,1096.4 L2.5,1097.2 L2.3,1098.1 L2.2,1098.9 L2,1099.8 L1.8,1100.6 L1.6,1101.5 L1.4,1102.3 L1.2,1103.2 L0.7,1104.1 L0.2,1105 L0.2,1105.8 L0.2,1106.6 L0.1,1107.4 L0.1,1108.3 L0.1,1109.1 L0.1,1109.9 L0.1,1110.7 L0.1,1111.5 L0.1,1112.3 L0.1,1113.1 L0,1113.9 L0,1114.8 L0,1115.6 L0,1116.4 L0,1117.2 L0,1117.2 L-0,1116.4 L-0,1115.6 L-0,1114.8 L-0,1113.9 L-0.1,1113.1 L-0.1,1112.3 L-0.1,1111.5 L-0.1,1110.7 L-0.1,1109.9 L-0.1,1109.1 L-0.1,1108.3 L-0.1,1107.4 L-0.2,1106.6 L-0.2,1105.8 L-0.2,1105 L-0.7,1104.1 L-1.2,1103.2 L-1.4,1102.3 L-1.6,1101.5 L-1.8,1100.6 L-2,1099.8 L-2.2,1098.9 L-2.3,1098.1 L-2.5,1097.2 L-2.6,1096.4 L-2.7,1095.5 L-2.8,1094.7 L-2.9,1093.8 L-3,1093 L-3.1,1092.1 L-3.2,1091.3 L-3.3,1090.5 L-3.3,1089.7 L-3.4,1088.9 L-3.5,1088 L-3.6,1087.2 L-3.6,1086.4 L-3.7,1085.6 L-3.7,1084.8 L-3.8,1084 L-3.9,1083.2 L-3.9,1082.4 L-4,1081.6 L-4,1080.7 L-4.1,1079.9 L-4.1,1079.1 L-4.1,1078.3 L-4.2,1077.5 L-4.2,1076.7 L-4.2,1075.9 L-4.3,1075.1 L-4.3,1074.2 L-4.3,1073.4 L-4.4,1072.6 L-4.4,1071.8 L-4.4,1071 L-4.4,1070.2 L-4.5,1069.4 L-4.5,1068.6 L-4.5,1067.7 L-4.5,1066.9 L-4.5,1066.1 L-4.5,1065.3 L-4.5,1064.4 L-4.5,1063.5 L-4.5,1062.7 L-4.5,1061.8 L-4.5,1060.9 L-4.5,1060 L-4.6,1059.1 L-5,1058.1 L-5.4,1057.2 L-6,1056.3 L-6.6,1055.3 L-7.1,1054.4 L-7.6,1053.6 L-8.2,1052.7 L-8.8,1051.9 L-9.4,1051 L-10.1,1050.2 L-10.8,1049.4 L-11.5,1048.5 L-12.2,1047.7 L-12.9,1046.9 L-13.6,1046 L-14.3,1045.2 L-14.9,1044.3 L-15.5,1043.5 L-16.1,1042.7 L-16.7,1041.8 L-17.3,1041 L-17.9,1040.1 L-18.6,1039.3 L-19.2,1038.5 L-19.8,1037.6 L-20.3,1036.8 L-20.8,1036 L-21.3,1035.1 L-21.6,1034.3 L-21.9,1033.4 L-22.1,1032.6 L-22.3,1031.8 L-22.4,1030.9 L-22.6,1030.1 L-22.7,1029.2 L-22.8,1028.4 L-22.9,1027.6 L-23,1026.7 L-23.1,1025.9 L-23.2,1025.1 L-23.3,1024.2 L-23.3,1023.4 L-23.3,1022.5 L-23.3,1021.7 L-23.3,1020.9 L-23.2,1020 L-23,1019.1 L-22.8,1018.3 L-22.6,1017.5 L-22.3,1016.6 L-22,1015.8 L-21.7,1014.9 L-21.5,1014 L-21.2,1013.2 L-21,1012.4 L-20.9,1011.5 L-20.8,1010.6 L-20.7,1009.8 L-20.7,1008.9 L-20.8,1008 L-20.9,1007.2 L-21,1006.3 L-21.2,1005.4 L-21.4,1004.5 L-21.5,1003.6 L-21.7,1002.8 L-21.9,1001.9 L-22.1,1001 L-22.4,1000.1 L-22.7,999.3 L-23.1,998.4 L-23.5,997.5 L-23.9,996.6 L-24.3,995.8 L-24.7,994.9 L-25,994 L-25.2,993.2 L-25.2,992.3 L-25.2,991.4 L-24.9,990.6 L-24.6,989.7 L-24.1,988.8 L-23.6,988 L-23,987.1 L-22.4,986.2 L-21.8,985.3 L-21.2,984.5 L-20.7,983.6 L-20.2,982.8 L-19.8,981.9 L-19.3,981.1 L-18.8,980.2 L-18.3,979.4 L-17.8,978.6 L-17.3,977.7 L-16.8,976.9 L-16.3,976.1 L-15.8,975.2 L-15.3,974.4 L-14.8,973.5 L-14.3,972.7 L-13.8,971.9 L-13.3,971 L-12.7,970.2 L-12.1,969.3 L-11.6,968.5 L-11,967.7 L-10.5,966.8 L-10,966 L-9.5,965.2 L-9.1,964.3 L-8.7,963.5 L-8.4,962.6 L-8.1,961.8 L-7.9,961 L-7.7,960.1 L-7.5,959.3 L-7.3,958.4 L-7.2,957.6 L-7,956.8 L-6.9,955.9 L-6.8,955.1 L-6.7,954.3 L-6.6,953.4 L-6.4,952.6 L-6.3,951.7 L-6.2,950.9 L-6.1,950.1 L-5.9,949.2 L-5.8,948.4 L-5.7,947.5 L-5.6,946.7 L-5.4,945.8 L-5.3,945 L-5.2,944.1 L-5.1,943.3 L-5,942.4 L-4.9,941.6 L-4.8,940.7 L-4.8,939.9 L-4.7,939.1 L-4.6,938.3 L-4.6,937.5 L-4.5,936.7 L-4.5,935.9 L-4.4,935.1 L-4.4,934.2 L-4.3,933.4 L-4.3,932.6 L-4.2,931.8 L-4.2,931 L-4.1,930.2 L-4.1,929.4 L-4.1,928.6 L-4,927.8 L-4,927 L-4,926.2 L-3.9,925.4 L-3.9,924.6 L-3.8,923.8 L-3.8,922.9 L-3.8,922.1 L-3.7,921.3 L-3.7,920.5 L-3.7,919.7 L-3.6,918.9 L-3.6,918.1 L-3.5,917.3 L-3.5,916.5 L-3.4,915.7 L-3.4,914.9 L-3.4,914.1 L-3.3,913.3 L-3.3,912.5 L-3.2,911.7 L-3.2,910.9 L-3.2,910.1 L-3.1,909.3 L-3.1,908.5 L-3,907.7 L-3,906.9 L-3,906.1 L-2.9,905.3 L-2.9,904.5 L-2.8,903.7 L-2.8,902.9 L-2.8,902.1 L-2.7,901.3 L-2.7,900.5 L-2.7,899.7 L-2.6,898.9 L-2.6,898.1 L-2.5,897.3 L-2.5,896.5 L-2.5,895.7 L-2.4,894.9 L-2.4,894.1 L-2.3,893.3 L-2.3,892.5 L-2.3,891.7 L-2.2,890.9 L-2.2,890.1 L-2.2,889.2 L-2.2,888.4 L-2.2,887.6 L-2.1,886.8 L-2.1,886 L-2.1,885.2 L-2.1,884.4 L-2,883.6 L-2,882.8 L-2,882 L-2,881.1 L-1.9,880.3 L-1.9,879.5 L-1.9,878.7 L-1.9,877.9 L-1.8,877.1 L-1.8,876.3 L-1.7,875.5 L-1.7,874.7 L-1.6,873.9 L-1.6,873 L-1.5,872.2 L-1.4,871.4 L-1.4,870.6 L-1.3,869.8 L-1.2,869 L-0.7,868 L-0.2,867 L-0.2,866.2 L-0.2,865.4 L-0.2,864.6 L-0.2,863.8 L-0.2,863 L-0.2,862.2 L-0.2,861.4 L-0.2,860.6 L-0.2,859.8 L-0.2,858.9 L-0.2,858.1 L-0.2,857.3 L-0.2,856.5 L-0.2,855.7 L-0.2,854.9 L-0.2,854.1 L-0.2,853.3 L-0.2,852.5 L-0.2,851.7 L-0.2,850.9 L-0.2,850.1 L-0.2,849.3 L-0.2,848.5 L-0.2,847.7 L-0.2,846.9 L-0.2,846.1 L-0.2,845.3 L-0.2,844.5 L-0.2,843.6 L-0.2,842.8 L-0.2,842 L-0.2,841.2 L-0.2,840.4 L-0.2,839.6 L-0.2,838.8 L-0.2,838 L-0.2,837.2 L-0.2,836.4 L-0.2,835.6 L-0.2,834.8 L-0.2,834 L-0.2,833.2 L-0.2,832.4 L-0.2,831.6 L-0.2,830.8 L-0.2,830 L-0.2,829.2 L-0.2,828.3 L-0.2,827.5 L-0.2,826.7 L-0.2,825.9 L-0.2,825.1 L-0.2,824.3 L-0.2,823.5 L-0.2,822.7 L-0.2,821.9 L-0.2,821.1 L-0.2,820.3 L-0.2,819.5 L-0.2,818.7 L-0.2,817.9 L-0.2,817.1 L-0.2,816.3 L-0.2,815.5 L-0.2,814.7 L-0.2,813.9 L-0.2,813 L-0.2,812.2 L-0.2,811.4 L-0.2,810.6 L-0.2,809.8 L-0.2,809 L-0.2,808.2 L-0.2,807.4 L-0.2,806.6 L-0.2,805.8 L-0.2,805 L-0.2,804.2 L-0.2,803.4 L-0.2,802.6 L-0.2,801.8 L-0.2,801 L-0.2,800.2 L-0.2,799.4 L-0.2,798.6 L-0.2,797.7 L-0.2,796.9 L-0.2,796.1 L-0.2,795.3 L-0.2,794.5 L-0.2,793.7 L-0.2,792.9 L-0.2,792.1 L-0.2,791.3 L-0.2,790.5 L-0.5,789.7 L-1.1,788.8 L-1.4,788 L-1.4,787.2 L-1.4,786.3 L-1.4,785.5 L-1.4,784.7 L-1.4,783.8 L-1.4,783 L-1.4,782.2 L-1.4,781.3 L-1.4,780.5 L-1.4,779.7 L-1.4,778.8 L-1.4,778 L-0.8,777 L-0.2,776 L-0.2,775.2 L-0.2,774.4 L-0.2,773.6 L-0.2,772.8 L-0.2,772 L-0.2,771.2 L-0.2,770.4 L-0.2,769.6 L-0.2,768.7 L-0.2,767.9 L-0.2,767.1 L-0.2,766.3 L-0.2,765.5 L-0.1,764.7 L-0.1,763.9 L-0.1,763.1 L-0.1,762.3 L-0.1,761.5 L-0.1,760.7 L-0.1,759.9 L-0.1,759.1 L-0.1,758.3 L-0.1,757.5 L-0.1,756.7 L-0.1,755.8 L-0.1,755 L-0.1,754.2 L-0.1,753.4 L-0.1,752.6 L-0.1,751.8 L-0.1,751 L-0.1,750.2 L-0.1,749.4 L-0.1,748.6 L-0.1,747.8 L-0.1,747 L-0.1,746.2 L-0.1,745.4 L-0.1,744.6 L-0.1,743.8 L-0.1,743 L-0.1,742.1 L-0.1,741.3 L-0.1,740.5 L-0.1,739.7 L-0.1,738.9 L-0.1,738.1 L-0.1,737.3 L-0.1,736.5 L-0.1,735.7 L-0.1,734.9 L-0,734.1 L-0,733.3 L-0,732.5 L-0,731.7 L-0,730.9 L-0,730.1 L-0,729.2 L-0,728.4 L-0,727.6 L-0,726.8 L-0,726 L-0,725.2 L-0,724.4 L-0,723.6 L-0,722.8 L-0,722 L-0,721.2 L-0,720.4 L-0,719.6 L-0,718.8 L-0,718 L-0,717.2 L-0,716.3 L-0,715.5 L-0,714.7 L-0,713.9 L-0,713.1 L-0,712.3 L-0,711.5 L-0,710.7 L-0,709.9 Z" fill="#56B1F7" stroke="#000" stroke-width="1.3" stroke-linejoin="round"/>
<line x1="0" y1="975.1" x2="0" y2="1032.6" stroke="#000" stroke-width="1.9"/>
<line x1="-2.86" y1="975.1" x2="2.86" y2="975.1" stroke="#000" stroke-width="1"/>
<line x1="-2.86" y1="1032.6" x2="2.86" y2="1032.6" stroke="#000" stroke-width="1"/>
<rect x="-4.05" y="992.4" width="8.1" height="7.4" fill="#000"/>
</g>
<line x1="412.2" y1="651.1" x2="512.5" y2="651.1" stroke="#A6A6A6" stroke-width="1.1"/>
<path d="M418.4,639.1 L418.4,646.5 M416.48,640.95 L420.32,644.65 M416.48,644.65 L420.32,640.95" stroke="#111" stroke-width="1.05" fill="none"/>
<line x1="412.2" y1="697.2" x2="612.6" y2="697.2" stroke="#A6A6A6" stroke-width="1.1"/>
<path d="M417.4,685.3 L417.4,692.7 M415.48,687.15 L419.32,690.85 M415.48,690.85 L419.32,687.15" stroke="#111" stroke-width="1.05" fill="none"/>
<path d="M421.65,685.3 L421.65,692.7 M419.73,687.15 L423.57,690.85 M419.73,690.85 L423.57,687.15" stroke="#111" stroke-width="1.05" fill="none"/>
<text transform="translate(381.4,611.7) scale(1,1)" font-family='"Liberation Serif", serif' font-size="16" fill="#000" text-anchor="start">D</text>
</svg>
</body></html>
